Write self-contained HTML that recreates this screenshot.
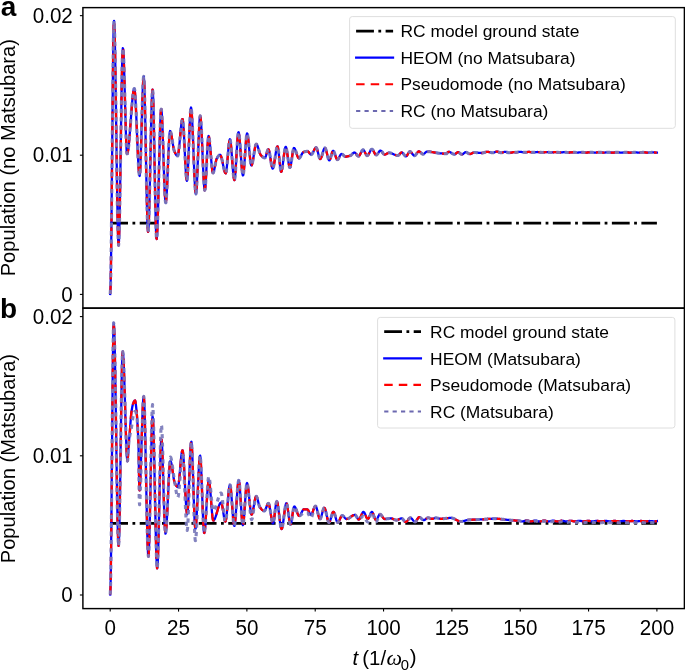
<!DOCTYPE html><html><head><meta charset="utf-8"><title>Population plot</title><style>html,body{margin:0;padding:0;background:#fff;overflow:hidden}svg{display:block;will-change:transform}text{font-family:"Liberation Sans",sans-serif;fill:#000}</style></head><body>
<svg width="685" height="671" viewBox="0 0 685 671">
<defs><clipPath id="ca"><rect x="82.9" y="7.6" width="601.5" height="300.5"/></clipPath>
<clipPath id="cb"><rect x="82.9" y="308.1" width="601.5" height="300.5"/></clipPath></defs>
<g clip-path="url(#ca)" fill="none">
<line x1="110.20" y1="223.10" x2="656.90" y2="223.10" stroke="#000" stroke-width="2.76" stroke-dasharray="17.82 4.45 2.79 4.45"/>
<path d="M110.20 294.00 L110.55 287.47 L110.90 269.60 L111.25 242.95 L111.60 210.08 L111.95 173.54 L112.30 135.91 L112.65 99.74 L113.00 67.60 L113.35 42.05 L113.70 25.64 L114.05 20.88 L114.40 25.60 L114.75 36.76 L115.10 53.17 L115.45 73.66 L115.80 97.02 L116.15 122.08 L116.50 147.65 L116.85 172.55 L117.20 195.57 L117.55 215.55 L117.90 231.29 L118.25 241.60 L118.60 245.30 L118.95 241.59 L119.30 231.31 L119.65 215.74 L120.00 196.15 L120.35 173.83 L120.70 150.04 L121.05 126.08 L121.40 103.20 L121.75 82.71 L122.10 65.86 L122.45 53.93 L122.80 48.22 L123.15 48.98 L123.50 53.78 L123.85 61.73 L124.20 72.10 L124.55 84.16 L124.90 97.16 L125.25 110.38 L125.60 123.07 L125.95 134.49 L126.30 143.92 L126.65 150.61 L127.00 153.82 L127.35 153.77 L127.70 152.71 L128.05 150.88 L128.40 148.37 L128.75 145.26 L129.10 141.65 L129.45 137.62 L129.80 133.28 L130.15 128.70 L130.50 123.98 L130.85 119.20 L131.20 114.47 L131.55 109.87 L131.90 105.48 L132.25 101.41 L132.60 97.73 L132.95 94.54 L133.30 91.94 L133.65 90.01 L134.00 88.83 L134.35 88.52 L134.70 89.92 L135.05 93.26 L135.40 98.24 L135.75 104.56 L136.10 111.92 L136.45 120.01 L136.80 128.54 L137.15 137.19 L137.50 145.67 L137.85 153.68 L138.20 160.91 L138.55 167.06 L138.90 171.82 L139.25 174.91 L139.60 176.00 L139.95 173.94 L140.30 168.27 L140.65 159.72 L141.00 149.04 L141.35 136.98 L141.70 124.27 L142.05 111.68 L142.40 99.94 L142.75 89.79 L143.10 81.99 L143.45 77.27 L143.80 76.44 L144.15 80.76 L144.50 89.78 L144.85 102.57 L145.20 118.18 L145.55 135.67 L145.90 154.10 L146.25 172.53 L146.60 190.02 L146.95 205.63 L147.30 218.42 L147.65 227.44 L148.00 231.76 L148.35 230.73 L148.70 225.08 L149.05 215.64 L149.40 203.21 L149.75 188.60 L150.10 172.62 L150.45 156.06 L150.80 139.72 L151.15 124.43 L151.50 110.97 L151.85 100.15 L152.20 92.78 L152.55 89.65 L152.90 92.00 L153.25 100.18 L153.60 113.01 L153.95 129.27 L154.30 147.77 L154.65 167.31 L155.00 186.67 L155.35 204.66 L155.70 220.06 L156.05 231.68 L156.40 238.31 L156.75 238.99 L157.10 235.11 L157.45 227.69 L157.80 217.41 L158.15 204.96 L158.50 191.04 L158.85 176.33 L159.20 161.52 L159.55 147.30 L159.90 134.36 L160.25 123.39 L160.60 115.08 L160.95 110.11 L161.30 109.14 L161.65 111.63 L162.00 116.86 L162.35 124.28 L162.70 133.37 L163.05 143.60 L163.40 154.43 L163.75 165.34 L164.10 175.80 L164.45 185.27 L164.80 193.22 L165.15 199.13 L165.50 202.46 L165.85 202.75 L166.20 200.42 L166.55 195.98 L166.90 189.85 L167.25 182.49 L167.60 174.32 L167.95 165.77 L168.30 157.29 L168.65 149.30 L169.00 142.25 L169.35 136.56 L169.70 132.68 L170.05 131.03 L170.40 131.25 L170.75 132.10 L171.10 133.45 L171.45 135.21 L171.80 137.25 L172.15 139.49 L172.50 141.80 L172.85 144.09 L173.20 146.25 L173.55 148.17 L173.90 149.75 L174.25 150.88 L174.60 151.67 L174.95 152.45 L175.30 153.19 L175.65 153.89 L176.00 154.51 L176.35 155.05 L176.70 155.49 L177.05 155.80 L177.40 155.97 L177.75 155.90 L178.10 154.92 L178.45 153.05 L178.80 150.43 L179.15 147.24 L179.50 143.62 L179.85 139.76 L180.20 135.80 L180.55 131.92 L180.90 128.26 L181.25 125.00 L181.60 122.29 L181.95 120.29 L182.30 119.18 L182.65 119.21 L183.00 121.21 L183.35 125.03 L183.70 130.28 L184.05 136.60 L184.40 143.62 L184.75 150.95 L185.10 158.23 L185.45 165.09 L185.80 171.14 L186.15 176.03 L186.50 179.36 L186.85 180.78 L187.20 179.68 L187.55 175.86 L187.90 169.85 L188.25 162.19 L188.60 153.44 L188.95 144.15 L189.30 134.86 L189.65 126.11 L190.00 118.45 L190.35 112.44 L190.70 108.62 L191.05 107.53 L191.40 109.14 L191.75 112.96 L192.10 118.62 L192.45 125.74 L192.80 133.94 L193.15 142.85 L193.50 152.07 L193.85 161.25 L194.20 169.99 L194.55 177.92 L194.90 184.66 L195.25 189.84 L195.60 193.07 L195.95 193.97 L196.30 192.10 L196.65 187.69 L197.00 181.27 L197.35 173.32 L197.70 164.36 L198.05 154.90 L198.40 145.44 L198.75 136.48 L199.10 128.53 L199.45 122.11 L199.80 117.70 L200.15 115.83 L200.50 116.71 L200.85 119.85 L201.20 124.84 L201.55 131.30 L201.90 138.84 L202.25 147.04 L202.60 155.53 L202.95 163.91 L203.30 171.78 L203.65 178.74 L204.00 184.42 L204.35 188.40 L204.70 190.30 L205.05 189.72 L205.40 186.76 L205.75 181.90 L206.10 175.66 L206.45 168.54 L206.80 161.05 L207.15 153.72 L207.50 147.04 L207.85 141.52 L208.20 137.68 L208.55 136.03 L208.90 136.49 L209.25 138.18 L209.60 140.86 L209.95 144.31 L210.30 148.30 L210.65 152.61 L211.00 157.02 L211.35 161.29 L211.70 165.22 L212.05 168.57 L212.40 171.12 L212.75 172.66 L213.10 172.97 L213.45 172.52 L213.80 171.57 L214.15 170.24 L214.50 168.62 L214.85 166.83 L215.20 164.96 L215.55 163.14 L215.90 161.45 L216.25 160.01 L216.60 158.92 L216.95 158.24 L217.30 157.65 L217.65 157.09 L218.00 156.56 L218.35 156.07 L218.70 155.65 L219.05 155.30 L219.40 155.03 L219.75 154.86 L220.10 154.80 L220.45 155.01 L220.80 155.59 L221.15 156.51 L221.50 157.69 L221.85 159.09 L222.20 160.65 L222.55 162.32 L222.90 164.05 L223.25 165.78 L223.60 167.45 L223.95 169.01 L224.30 170.41 L224.65 171.59 L225.00 172.51 L225.35 173.09 L225.70 173.30 L226.05 172.63 L226.40 170.78 L226.75 167.99 L227.10 164.49 L227.45 160.51 L227.80 156.30 L228.15 152.09 L228.50 148.11 L228.85 144.61 L229.20 141.82 L229.55 139.97 L229.90 139.30 L230.25 140.00 L230.60 141.95 L230.95 144.93 L231.30 148.69 L231.65 153.01 L232.00 157.66 L232.35 162.41 L232.70 167.03 L233.05 171.29 L233.40 174.95 L233.75 177.79 L234.10 179.58 L234.45 180.08 L234.80 178.82 L235.15 175.87 L235.50 171.59 L235.85 166.34 L236.20 160.47 L236.55 154.35 L236.90 148.32 L237.25 142.76 L237.60 138.02 L237.95 134.46 L238.30 132.43 L238.65 132.24 L239.00 133.59 L239.35 136.16 L239.70 139.71 L240.05 144.00 L240.40 148.78 L240.75 153.80 L241.10 158.82 L241.45 163.60 L241.80 167.89 L242.15 171.44 L242.50 174.01 L242.85 175.36 L243.20 175.21 L243.55 173.43 L243.90 170.30 L244.25 166.15 L244.60 161.27 L244.95 155.99 L245.30 150.62 L245.65 145.47 L246.00 140.87 L246.35 137.11 L246.70 134.52 L247.05 133.42 L247.40 133.85 L247.75 135.38 L248.10 137.80 L248.45 140.91 L248.80 144.48 L249.15 148.33 L249.50 152.24 L249.85 155.99 L250.20 159.40 L250.55 162.23 L250.90 164.30 L251.25 165.39 L251.60 165.40 L251.95 164.75 L252.30 163.60 L252.65 162.03 L253.00 160.14 L253.35 158.03 L253.70 155.78 L254.05 153.49 L254.40 151.26 L254.75 149.17 L255.10 147.32 L255.45 145.81 L255.80 144.72 L256.15 144.16 L256.50 144.16 L256.85 144.50 L257.20 145.12 L257.55 145.96 L257.90 146.97 L258.25 148.10 L258.60 149.29 L258.95 150.50 L259.30 151.68 L259.65 152.77 L260.00 153.72 L260.35 154.48 L260.70 155.00 L261.05 155.38 L261.40 155.75 L261.75 156.11 L262.10 156.45 L262.45 156.76 L262.80 157.05 L263.15 157.30 L263.50 157.52 L263.85 157.69 L264.20 157.81 L264.55 157.88 L264.90 157.88 L265.25 157.53 L265.60 156.82 L265.95 155.84 L266.30 154.68 L266.65 153.45 L267.00 152.22 L267.35 151.11 L267.70 150.19 L268.05 149.58 L268.40 149.35 L268.75 149.71 L269.10 150.71 L269.45 152.23 L269.80 154.14 L270.15 156.32 L270.50 158.64 L270.85 160.98 L271.20 163.21 L271.55 165.21 L271.90 166.85 L272.25 168.01 L272.60 168.57 L272.95 168.43 L273.30 167.65 L273.65 166.34 L274.00 164.60 L274.35 162.53 L274.70 160.25 L275.05 157.85 L275.40 155.43 L275.75 153.10 L276.10 150.96 L276.45 149.12 L276.80 147.68 L277.15 146.74 L277.50 146.40 L277.85 147.04 L278.20 148.78 L278.55 151.38 L278.90 154.56 L279.25 158.07 L279.60 161.66 L279.95 165.06 L280.30 168.02 L280.65 170.28 L281.00 171.59 L281.35 171.72 L281.70 170.94 L282.05 169.47 L282.40 167.42 L282.75 164.96 L283.10 162.21 L283.45 159.33 L283.80 156.44 L284.15 153.69 L284.50 151.23 L284.85 149.18 L285.20 147.71 L285.55 146.93 L285.90 146.99 L286.25 147.82 L286.60 149.30 L286.95 151.27 L287.30 153.59 L287.65 156.12 L288.00 158.70 L288.35 161.21 L288.70 163.49 L289.05 165.39 L289.40 166.79 L289.75 167.52 L290.10 167.46 L290.45 166.64 L290.80 165.18 L291.15 163.25 L291.50 160.98 L291.85 158.52 L292.20 156.02 L292.55 153.62 L292.90 151.48 L293.25 149.73 L293.60 148.52 L293.95 148.01 L294.30 148.11 L294.65 148.49 L295.00 149.11 L295.35 149.91 L295.70 150.85 L296.05 151.88 L296.40 152.97 L296.75 154.06 L297.10 155.12 L297.45 156.09 L297.80 156.93 L298.15 157.60 L298.50 158.06 L298.85 158.25 L299.20 158.18 L299.55 157.94 L299.90 157.55 L300.25 157.05 L300.60 156.46 L300.95 155.82 L301.30 155.15 L301.65 154.48 L302.00 153.84 L302.35 153.26 L302.70 152.78 L303.05 152.42 L303.40 152.20 L303.75 152.07 L304.10 151.95 L304.45 151.84 L304.80 151.73 L305.15 151.63 L305.50 151.55 L305.85 151.47 L306.20 151.41 L306.55 151.36 L306.90 151.32 L307.25 151.30 L307.60 151.31 L307.95 151.43 L308.30 151.70 L308.65 152.06 L309.00 152.49 L309.35 152.95 L309.70 153.41 L310.05 153.84 L310.40 154.20 L310.75 154.47 L311.10 154.59 L311.45 154.55 L311.80 154.31 L312.15 153.91 L312.50 153.38 L312.85 152.75 L313.20 152.05 L313.55 151.31 L313.90 150.57 L314.25 149.84 L314.60 149.17 L314.95 148.58 L315.30 148.10 L315.65 147.77 L316.00 147.61 L316.35 147.72 L316.70 148.26 L317.05 149.15 L317.40 150.31 L317.75 151.65 L318.10 153.09 L318.45 154.54 L318.80 155.92 L319.15 157.14 L319.50 158.12 L319.85 158.76 L320.20 159.00 L320.55 158.82 L320.90 158.33 L321.25 157.59 L321.60 156.63 L321.95 155.53 L322.30 154.33 L322.65 153.10 L323.00 151.88 L323.35 150.73 L323.70 149.70 L324.05 148.86 L324.40 148.25 L324.75 147.93 L325.10 147.98 L325.45 148.44 L325.80 149.26 L326.15 150.35 L326.50 151.66 L326.85 153.09 L327.20 154.58 L327.55 156.04 L327.90 157.41 L328.25 158.60 L328.60 159.55 L328.95 160.18 L329.30 160.40 L329.65 160.17 L330.00 159.54 L330.35 158.61 L330.70 157.45 L331.05 156.17 L331.40 154.84 L331.75 153.57 L332.10 152.44 L332.45 151.55 L332.80 150.97 L333.15 150.80 L333.50 151.01 L333.85 151.51 L334.20 152.23 L334.55 153.13 L334.90 154.14 L335.25 155.20 L335.60 156.26 L335.95 157.27 L336.30 158.17 L336.65 158.89 L337.00 159.39 L337.35 159.60 L337.70 159.51 L338.05 159.22 L338.40 158.76 L338.75 158.18 L339.10 157.51 L339.45 156.80 L339.80 156.09 L340.15 155.42 L340.50 154.84 L340.85 154.38 L341.20 154.09 L341.55 154.00 L341.90 154.07 L342.25 154.23 L342.60 154.46 L342.95 154.75 L343.30 155.06 L343.65 155.40 L344.00 155.72 L344.35 156.02 L344.70 156.28 L345.05 156.47 L345.40 156.58 L345.75 156.60 L346.10 156.58 L346.45 156.56 L346.80 156.51 L347.15 156.46 L347.50 156.40 L347.85 156.32 L348.20 156.24 L348.55 156.14 L348.90 156.05 L349.25 155.94 L349.60 155.83 L349.95 155.72 L350.30 155.60 L350.65 155.44 L351.00 155.20 L351.35 154.90 L351.70 154.56 L352.05 154.19 L352.40 153.83 L352.75 153.47 L353.10 153.14 L353.45 152.87 L353.80 152.65 L354.15 152.53 L354.50 152.51 L354.85 152.62 L355.20 152.87 L355.55 153.21 L355.90 153.62 L356.25 154.08 L356.60 154.55 L356.95 155.01 L357.30 155.43 L357.65 155.79 L358.00 156.05 L358.35 156.19 L358.70 156.16 L359.05 155.95 L359.40 155.56 L359.75 155.04 L360.10 154.42 L360.45 153.72 L360.80 153.00 L361.15 152.28 L361.50 151.58 L361.85 150.96 L362.20 150.44 L362.55 150.05 L362.90 149.84 L363.25 149.82 L363.60 150.04 L363.95 150.44 L364.30 151.00 L364.65 151.66 L365.00 152.38 L365.35 153.12 L365.70 153.84 L366.05 154.49 L366.40 155.02 L366.75 155.41 L367.10 155.59 L367.45 155.55 L367.80 155.31 L368.15 154.92 L368.50 154.40 L368.85 153.79 L369.20 153.11 L369.55 152.40 L369.90 151.69 L370.25 151.01 L370.60 150.40 L370.95 149.88 L371.30 149.49 L371.65 149.25 L372.00 149.21 L372.35 149.38 L372.70 149.73 L373.05 150.22 L373.40 150.82 L373.75 151.50 L374.10 152.20 L374.45 152.90 L374.80 153.56 L375.15 154.13 L375.50 154.59 L375.85 154.89 L376.20 155.00 L376.55 154.91 L376.90 154.67 L377.25 154.31 L377.60 153.86 L377.95 153.34 L378.30 152.80 L378.65 152.26 L379.00 151.74 L379.35 151.29 L379.70 150.93 L380.05 150.69 L380.40 150.60 L380.75 150.67 L381.10 150.88 L381.45 151.18 L381.80 151.57 L382.15 152.01 L382.50 152.48 L382.85 152.96 L383.20 153.41 L383.55 153.81 L383.90 154.15 L384.25 154.38 L384.60 154.49 L384.95 154.48 L385.30 154.41 L385.65 154.30 L386.00 154.14 L386.35 153.96 L386.70 153.77 L387.05 153.56 L387.40 153.37 L387.75 153.18 L388.10 153.02 L388.45 152.90 L388.80 152.82 L389.15 152.80 L389.50 152.82 L389.85 152.86 L390.20 152.92 L390.55 153.00 L390.90 153.10 L391.25 153.21 L391.60 153.34 L391.95 153.48 L392.30 153.63 L392.65 153.78 L393.00 153.94 L393.35 154.10 L393.70 154.27 L394.05 154.43 L394.40 154.59 L394.75 154.74 L395.10 154.88 L395.45 155.02 L395.80 155.14 L396.15 155.25 L396.50 155.34 L396.85 155.41 L397.20 155.46 L397.55 155.49 L397.90 155.49 L398.25 155.39 L398.60 155.17 L398.95 154.87 L399.30 154.51 L399.65 154.12 L400.00 153.71 L400.35 153.33 L400.70 152.99 L401.05 152.72 L401.40 152.55 L401.75 152.50 L402.10 152.59 L402.45 152.81 L402.80 153.12 L403.15 153.50 L403.50 153.94 L403.85 154.40 L404.20 154.86 L404.55 155.30 L404.90 155.68 L405.25 155.99 L405.60 156.21 L405.95 156.30 L406.30 156.22 L406.65 155.95 L407.00 155.53 L407.35 155.00 L407.70 154.40 L408.05 153.77 L408.40 153.15 L408.75 152.58 L409.10 152.11 L409.45 151.77 L409.80 151.61 L410.15 151.64 L410.50 151.79 L410.85 152.05 L411.20 152.40 L411.55 152.80 L411.90 153.25 L412.25 153.72 L412.60 154.18 L412.95 154.62 L413.30 155.01 L413.65 155.33 L414.00 155.57 L414.35 155.69 L414.70 155.67 L415.05 155.52 L415.40 155.23 L415.75 154.86 L416.10 154.41 L416.45 153.91 L416.80 153.40 L417.15 152.90 L417.50 152.43 L417.85 152.02 L418.20 151.69 L418.55 151.48 L418.90 151.40 L419.25 151.46 L419.60 151.62 L419.95 151.86 L420.30 152.16 L420.65 152.49 L421.00 152.85 L421.35 153.20 L421.70 153.53 L422.05 153.82 L422.40 154.04 L422.75 154.17 L423.10 154.20 L423.45 154.11 L423.80 153.93 L424.15 153.68 L424.50 153.38 L424.85 153.05 L425.20 152.71 L425.55 152.38 L425.90 152.08 L426.25 151.84 L426.60 151.67 L426.95 151.60 L427.30 151.60 L427.65 151.61 L428.00 151.62 L428.35 151.64 L428.70 151.66 L429.05 151.69 L429.40 151.72 L429.75 151.76 L430.10 151.80 L430.45 151.84 L430.80 151.89 L431.15 151.93 L431.50 151.99 L431.85 152.04 L432.20 152.10 L432.55 152.15 L432.90 152.21 L433.25 152.27 L433.60 152.33 L433.95 152.40 L434.30 152.46 L434.65 152.52 L435.00 152.58 L435.35 152.65 L435.70 152.71 L436.05 152.77 L436.40 152.83 L436.75 152.88 L437.10 152.94 L437.45 152.99 L437.80 153.05 L438.15 153.09 L438.50 153.14 L438.85 153.18 L439.20 153.22 L439.55 153.26 L439.90 153.29 L440.25 153.32 L440.60 153.35 L440.95 153.38 L441.30 153.41 L441.65 153.44 L442.00 153.47 L442.35 153.50 L442.70 153.53 L443.05 153.56 L443.40 153.58 L443.75 153.61 L444.10 153.63 L444.45 153.65 L444.80 153.67 L445.15 153.68 L445.50 153.69 L445.85 153.70 L446.20 153.70 L446.55 153.64 L446.90 153.38 L447.25 153.00 L447.60 152.57 L447.95 152.17 L448.30 151.89 L448.65 151.80 L449.00 151.83 L449.35 151.91 L449.70 152.03 L450.05 152.18 L450.40 152.36 L450.75 152.55 L451.10 152.77 L451.45 152.99 L451.80 153.21 L452.15 153.43 L452.50 153.63 L452.85 153.82 L453.20 153.99 L453.55 154.13 L453.90 154.23 L454.25 154.29 L454.60 154.29 L454.95 154.20 L455.30 154.02 L455.65 153.77 L456.00 153.47 L456.35 153.16 L456.70 152.85 L457.05 152.58 L457.40 152.36 L457.75 152.23 L458.10 152.20 L458.45 152.28 L458.80 152.43 L459.15 152.64 L459.50 152.90 L459.85 153.18 L460.20 153.46 L460.55 153.74 L460.90 153.99 L461.25 154.20 L461.60 154.34 L461.95 154.40 L462.30 154.36 L462.65 154.22 L463.00 154.00 L463.35 153.74 L463.70 153.43 L464.05 153.12 L464.40 152.82 L464.75 152.56 L465.10 152.35 L465.45 152.23 L465.80 152.20 L466.15 152.25 L466.50 152.36 L466.85 152.50 L467.20 152.68 L467.55 152.89 L467.90 153.10 L468.25 153.31 L468.60 153.52 L468.95 153.70 L469.30 153.84 L469.65 153.95 L470.00 154.00 L470.35 153.98 L470.70 153.90 L471.05 153.78 L471.40 153.61 L471.75 153.42 L472.10 153.22 L472.45 153.02 L472.80 152.84 L473.15 152.68 L473.50 152.57 L473.85 152.51 L474.20 152.50 L474.55 152.51 L474.90 152.52 L475.25 152.53 L475.60 152.55 L475.95 152.57 L476.30 152.60 L476.65 152.63 L477.00 152.66 L477.35 152.69 L477.70 152.72 L478.05 152.75 L478.40 152.79 L478.75 152.82 L479.10 152.85 L479.45 152.88 L479.80 152.91 L480.15 152.93 L480.50 152.95 L480.85 152.97 L481.20 152.99 L481.55 153.00 L481.90 153.00 L482.25 152.99 L482.60 152.96 L482.95 152.89 L483.30 152.81 L483.65 152.71 L484.00 152.60 L484.35 152.49 L484.70 152.37 L485.05 152.25 L485.40 152.13 L485.75 152.03 L486.10 151.94 L486.45 151.87 L486.80 151.82 L487.15 151.80 L487.50 151.81 L487.85 151.84 L488.20 151.88 L488.55 151.95 L488.90 152.02 L489.25 152.10 L489.60 152.19 L489.95 152.29 L490.30 152.38 L490.65 152.47 L491.00 152.56 L491.35 152.63 L491.70 152.70 L492.05 152.75 L492.40 152.79 L492.75 152.80 L493.10 152.78 L493.45 152.72 L493.80 152.61 L494.15 152.48 L494.50 152.33 L494.85 152.18 L495.20 152.02 L495.55 151.88 L495.90 151.75 L496.25 151.66 L496.60 151.61 L496.95 151.60 L497.30 151.64 L497.65 151.72 L498.00 151.82 L498.35 151.94 L498.70 152.08 L499.05 152.22 L499.40 152.36 L499.75 152.49 L500.10 152.61 L500.45 152.71 L500.80 152.77 L501.15 152.80 L501.50 152.78 L501.85 152.73 L502.20 152.64 L502.55 152.52 L502.90 152.40 L503.25 152.26 L503.60 152.13 L503.95 152.01 L504.30 151.91 L504.65 151.84 L505.00 151.80 L505.35 151.81 L505.70 151.86 L506.05 151.95 L506.40 152.06 L506.75 152.19 L507.10 152.32 L507.45 152.45 L507.80 152.57 L508.15 152.68 L508.50 152.75 L508.85 152.80 L509.20 152.80 L509.55 152.79 L509.90 152.78 L510.25 152.76 L510.60 152.72 L510.95 152.68 L511.30 152.63 L511.65 152.57 L512.00 152.50 L512.35 152.41 L512.70 152.32 L513.05 152.21 L513.40 152.08 L513.75 152.03 L514.10 152.09 L514.45 152.15 L514.80 152.20 L515.15 152.24 L515.50 152.26 L515.85 152.27 L516.20 152.27 L516.55 152.25 L516.90 152.21 L517.25 152.17 L517.60 152.12 L517.95 152.06 L518.30 152.00 L518.65 151.95 L519.00 151.91 L519.35 151.87 L519.70 151.85 L520.05 151.84 L520.40 151.84 L520.75 151.86 L521.10 151.90 L521.45 151.94 L521.80 152.00 L522.15 152.05 L522.50 152.12 L522.85 152.18 L523.20 152.23 L523.55 152.28 L523.90 152.31 L524.25 152.34 L524.60 152.35 L524.95 152.34 L525.30 152.33 L525.65 152.30 L526.00 152.26 L526.35 152.21 L526.70 152.16 L527.05 152.10 L527.40 152.05 L527.75 152.01 L528.10 151.97 L528.45 151.95 L528.80 151.94 L529.15 151.94 L529.50 151.96 L529.85 151.99 L530.20 152.03 L530.55 152.08 L530.90 152.13 L531.25 152.19 L531.60 152.24 L531.95 152.29 L532.30 152.34 L532.65 152.37 L533.00 152.40 L533.35 152.41 L533.70 152.40 L534.05 152.39 L534.40 152.36 L534.75 152.32 L535.10 152.28 L535.45 152.23 L535.80 152.18 L536.15 152.14 L536.50 152.09 L536.85 152.06 L537.20 152.04 L537.55 152.02 L537.90 152.02 L538.25 152.04 L538.60 152.06 L538.95 152.10 L539.30 152.14 L539.65 152.19 L540.00 152.24 L540.35 152.29 L540.70 152.34 L541.05 152.38 L541.40 152.42 L541.75 152.44 L542.10 152.45 L542.45 152.45 L542.80 152.44 L543.15 152.41 L543.50 152.38 L543.85 152.34 L544.20 152.29 L544.55 152.25 L544.90 152.20 L545.25 152.16 L545.60 152.13 L545.95 152.11 L546.30 152.09 L546.65 152.09 L547.00 152.10 L547.35 152.12 L547.70 152.15 L548.05 152.19 L548.40 152.24 L548.75 152.29 L549.10 152.33 L549.45 152.38 L549.80 152.42 L550.15 152.45 L550.50 152.47 L550.85 152.49 L551.20 152.49 L551.55 152.47 L551.90 152.45 L552.25 152.42 L552.60 152.39 L552.95 152.35 L553.30 152.30 L553.65 152.26 L554.00 152.22 L554.35 152.19 L554.70 152.17 L555.05 152.15 L555.40 152.15 L555.75 152.16 L556.10 152.17 L556.45 152.20 L556.80 152.24 L557.15 152.28 L557.50 152.32 L557.85 152.37 L558.20 152.41 L558.55 152.45 L558.90 152.48 L559.25 152.50 L559.60 152.51 L559.95 152.51 L560.30 152.50 L560.65 152.48 L561.00 152.46 L561.35 152.42 L561.70 152.39 L562.05 152.35 L562.40 152.31 L562.75 152.27 L563.10 152.24 L563.45 152.21 L563.80 152.20 L564.15 152.19 L564.50 152.20 L564.85 152.22 L565.20 152.24 L565.55 152.27 L565.90 152.31 L566.25 152.35 L566.60 152.39 L566.95 152.43 L567.30 152.47 L567.65 152.49 L568.00 152.52 L568.35 152.53 L568.70 152.53 L569.05 152.52 L569.40 152.51 L569.75 152.48 L570.10 152.45 L570.45 152.42 L570.80 152.38 L571.15 152.34 L571.50 152.31 L571.85 152.28 L572.20 152.26 L572.55 152.24 L572.90 152.23 L573.25 152.24 L573.60 152.25 L573.95 152.27 L574.30 152.30 L574.65 152.33 L575.00 152.37 L575.35 152.41 L575.70 152.45 L576.05 152.48 L576.40 152.51 L576.75 152.53 L577.10 152.54 L577.45 152.55 L577.80 152.54 L578.15 152.53 L578.50 152.50 L578.85 152.48 L579.20 152.44 L579.55 152.41 L579.90 152.37 L580.25 152.34 L580.60 152.31 L580.95 152.29 L581.30 152.27 L581.65 152.27 L582.00 152.27 L582.35 152.28 L582.70 152.30 L583.05 152.32 L583.40 152.35 L583.75 152.39 L584.10 152.42 L584.45 152.46 L584.80 152.49 L585.15 152.52 L585.50 152.54 L585.85 152.55 L586.20 152.56 L586.55 152.55 L586.90 152.54 L587.25 152.52 L587.60 152.49 L587.95 152.46 L588.30 152.43 L588.65 152.40 L589.00 152.37 L589.35 152.34 L589.70 152.32 L590.05 152.30 L590.40 152.30 L590.75 152.30 L591.10 152.31 L591.45 152.32 L591.80 152.34 L592.15 152.37 L592.50 152.40 L592.85 152.44 L593.20 152.47 L593.55 152.50 L593.90 152.52 L594.25 152.54 L594.60 152.56 L594.95 152.56 L595.30 152.56 L595.65 152.55 L596.00 152.53 L596.35 152.51 L596.70 152.48 L597.05 152.45 L597.40 152.42 L597.75 152.39 L598.10 152.37 L598.45 152.34 L598.80 152.33 L599.15 152.32 L599.50 152.32 L599.85 152.33 L600.20 152.34 L600.55 152.36 L600.90 152.39 L601.25 152.41 L601.60 152.44 L601.95 152.47 L602.30 152.50 L602.65 152.53 L603.00 152.55 L603.35 152.56 L603.70 152.57 L604.05 152.56 L604.40 152.56 L604.75 152.54 L605.10 152.52 L605.45 152.49 L605.80 152.47 L606.15 152.44 L606.50 152.41 L606.85 152.39 L607.20 152.37 L607.55 152.35 L607.90 152.34 L608.25 152.34 L608.60 152.34 L608.95 152.36 L609.30 152.37 L609.65 152.40 L610.00 152.42 L610.35 152.45 L610.70 152.48 L611.05 152.51 L611.40 152.53 L611.75 152.55 L612.10 152.56 L612.45 152.57 L612.80 152.57 L613.15 152.56 L613.50 152.55 L613.85 152.53 L614.20 152.50 L614.55 152.48 L614.90 152.45 L615.25 152.43 L615.60 152.40 L615.95 152.38 L616.30 152.37 L616.65 152.36 L617.00 152.36 L617.35 152.36 L617.70 152.37 L618.05 152.39 L618.40 152.41 L618.75 152.43 L619.10 152.46 L619.45 152.48 L619.80 152.51 L620.15 152.53 L620.50 152.55 L620.85 152.56 L621.20 152.57 L621.55 152.57 L621.90 152.56 L622.25 152.55 L622.60 152.53 L622.95 152.51 L623.30 152.49 L623.65 152.46 L624.00 152.44 L624.35 152.42 L624.70 152.40 L625.05 152.38 L625.40 152.37 L625.75 152.37 L626.10 152.37 L626.45 152.38 L626.80 152.40 L627.15 152.42 L627.50 152.44 L627.85 152.46 L628.20 152.49 L628.55 152.51 L628.90 152.53 L629.25 152.55 L629.60 152.56 L629.95 152.57 L630.30 152.57 L630.65 152.56 L631.00 152.55 L631.35 152.54 L631.70 152.52 L632.05 152.50 L632.40 152.47 L632.75 152.45 L633.10 152.43 L633.45 152.41 L633.80 152.40 L634.15 152.39 L634.50 152.38 L634.85 152.39 L635.20 152.39 L635.55 152.41 L635.90 152.42 L636.25 152.44 L636.60 152.46 L636.95 152.49 L637.30 152.51 L637.65 152.53 L638.00 152.54 L638.35 152.56 L638.70 152.56 L639.05 152.57 L639.40 152.56 L639.75 152.55 L640.10 152.54 L640.45 152.52 L640.80 152.50 L641.15 152.48 L641.50 152.46 L641.85 152.44 L642.20 152.42 L642.55 152.41 L642.90 152.40 L643.25 152.40 L643.60 152.40 L643.95 152.40 L644.30 152.41 L644.65 152.43 L645.00 152.45 L645.35 152.47 L645.70 152.49 L646.05 152.51 L646.40 152.53 L646.75 152.54 L647.10 152.55 L647.45 152.56 L647.80 152.56 L648.15 152.56 L648.50 152.55 L648.85 152.54 L649.20 152.53 L649.55 152.51 L649.90 152.49 L650.25 152.47 L650.60 152.45 L650.95 152.43 L651.30 152.42 L651.65 152.41 L652.00 152.41 L652.35 152.41 L652.70 152.41 L653.05 152.42 L653.40 152.43 L653.75 152.45 L654.10 152.47 L654.45 152.49 L654.80 152.51 L655.15 152.52 L655.50 152.54 L655.85 152.55 L656.20 152.56 L656.55 152.56 L656.90 152.56" stroke="#0000ff" stroke-width="2.3" stroke-linejoin="round" stroke-linecap="square"/>
<path d="M110.20 294.00 L110.55 287.47 L110.90 269.60 L111.25 242.95 L111.60 210.08 L111.95 173.54 L112.30 135.91 L112.65 99.74 L113.00 67.60 L113.35 42.05 L113.70 25.64 L114.05 20.88 L114.40 25.60 L114.75 36.76 L115.10 53.17 L115.45 73.66 L115.80 97.02 L116.15 122.08 L116.50 147.65 L116.85 172.55 L117.20 195.57 L117.55 215.55 L117.90 231.29 L118.25 241.60 L118.60 245.30 L118.95 241.59 L119.30 231.31 L119.65 215.74 L120.00 196.15 L120.35 173.83 L120.70 150.04 L121.05 126.08 L121.40 103.20 L121.75 82.71 L122.10 65.86 L122.45 53.93 L122.80 48.22 L123.15 48.98 L123.50 53.78 L123.85 61.73 L124.20 72.10 L124.55 84.16 L124.90 97.16 L125.25 110.38 L125.60 123.07 L125.95 134.49 L126.30 143.92 L126.65 150.61 L127.00 153.82 L127.35 153.77 L127.70 152.71 L128.05 150.88 L128.40 148.37 L128.75 145.26 L129.10 141.65 L129.45 137.62 L129.80 133.28 L130.15 128.70 L130.50 123.98 L130.85 119.20 L131.20 114.47 L131.55 109.87 L131.90 105.48 L132.25 101.41 L132.60 97.73 L132.95 94.54 L133.30 91.94 L133.65 90.01 L134.00 88.83 L134.35 88.52 L134.70 89.92 L135.05 93.26 L135.40 98.24 L135.75 104.56 L136.10 111.92 L136.45 120.01 L136.80 128.54 L137.15 137.19 L137.50 145.67 L137.85 153.68 L138.20 160.91 L138.55 167.06 L138.90 171.82 L139.25 174.91 L139.60 176.00 L139.95 173.94 L140.30 168.27 L140.65 159.72 L141.00 149.04 L141.35 136.98 L141.70 124.27 L142.05 111.68 L142.40 99.94 L142.75 89.79 L143.10 81.99 L143.45 77.27 L143.80 76.44 L144.15 80.76 L144.50 89.78 L144.85 102.57 L145.20 118.18 L145.55 135.67 L145.90 154.10 L146.25 172.53 L146.60 190.02 L146.95 205.63 L147.30 218.42 L147.65 227.44 L148.00 231.76 L148.35 230.73 L148.70 225.08 L149.05 215.64 L149.40 203.21 L149.75 188.60 L150.10 172.62 L150.45 156.06 L150.80 139.72 L151.15 124.43 L151.50 110.97 L151.85 100.15 L152.20 92.78 L152.55 89.65 L152.90 92.00 L153.25 100.18 L153.60 113.01 L153.95 129.27 L154.30 147.77 L154.65 167.31 L155.00 186.67 L155.35 204.66 L155.70 220.06 L156.05 231.68 L156.40 238.31 L156.75 238.99 L157.10 235.11 L157.45 227.69 L157.80 217.41 L158.15 204.96 L158.50 191.04 L158.85 176.33 L159.20 161.52 L159.55 147.30 L159.90 134.36 L160.25 123.39 L160.60 115.08 L160.95 110.11 L161.30 109.14 L161.65 111.63 L162.00 116.86 L162.35 124.28 L162.70 133.37 L163.05 143.60 L163.40 154.43 L163.75 165.34 L164.10 175.80 L164.45 185.27 L164.80 193.22 L165.15 199.13 L165.50 202.46 L165.85 202.75 L166.20 200.42 L166.55 195.98 L166.90 189.85 L167.25 182.49 L167.60 174.32 L167.95 165.77 L168.30 157.29 L168.65 149.30 L169.00 142.25 L169.35 136.56 L169.70 132.68 L170.05 131.03 L170.40 131.25 L170.75 132.10 L171.10 133.45 L171.45 135.21 L171.80 137.25 L172.15 139.49 L172.50 141.80 L172.85 144.09 L173.20 146.25 L173.55 148.17 L173.90 149.75 L174.25 150.88 L174.60 151.67 L174.95 152.45 L175.30 153.19 L175.65 153.89 L176.00 154.51 L176.35 155.05 L176.70 155.49 L177.05 155.80 L177.40 155.97 L177.75 155.90 L178.10 154.92 L178.45 153.05 L178.80 150.43 L179.15 147.24 L179.50 143.62 L179.85 139.76 L180.20 135.80 L180.55 131.92 L180.90 128.26 L181.25 125.00 L181.60 122.29 L181.95 120.29 L182.30 119.18 L182.65 119.21 L183.00 121.21 L183.35 125.03 L183.70 130.28 L184.05 136.60 L184.40 143.62 L184.75 150.95 L185.10 158.23 L185.45 165.09 L185.80 171.14 L186.15 176.03 L186.50 179.36 L186.85 180.78 L187.20 179.68 L187.55 175.86 L187.90 169.85 L188.25 162.19 L188.60 153.44 L188.95 144.15 L189.30 134.86 L189.65 126.11 L190.00 118.45 L190.35 112.44 L190.70 108.62 L191.05 107.53 L191.40 109.14 L191.75 112.96 L192.10 118.62 L192.45 125.74 L192.80 133.94 L193.15 142.85 L193.50 152.07 L193.85 161.25 L194.20 169.99 L194.55 177.92 L194.90 184.66 L195.25 189.84 L195.60 193.07 L195.95 193.97 L196.30 192.10 L196.65 187.69 L197.00 181.27 L197.35 173.32 L197.70 164.36 L198.05 154.90 L198.40 145.44 L198.75 136.48 L199.10 128.53 L199.45 122.11 L199.80 117.70 L200.15 115.83 L200.50 116.71 L200.85 119.85 L201.20 124.84 L201.55 131.30 L201.90 138.84 L202.25 147.04 L202.60 155.53 L202.95 163.91 L203.30 171.78 L203.65 178.74 L204.00 184.42 L204.35 188.40 L204.70 190.30 L205.05 189.72 L205.40 186.76 L205.75 181.90 L206.10 175.66 L206.45 168.54 L206.80 161.05 L207.15 153.72 L207.50 147.04 L207.85 141.52 L208.20 137.68 L208.55 136.03 L208.90 136.49 L209.25 138.18 L209.60 140.86 L209.95 144.31 L210.30 148.30 L210.65 152.61 L211.00 157.02 L211.35 161.29 L211.70 165.22 L212.05 168.57 L212.40 171.12 L212.75 172.66 L213.10 172.97 L213.45 172.52 L213.80 171.57 L214.15 170.24 L214.50 168.62 L214.85 166.83 L215.20 164.96 L215.55 163.14 L215.90 161.45 L216.25 160.01 L216.60 158.92 L216.95 158.24 L217.30 157.65 L217.65 157.09 L218.00 156.56 L218.35 156.07 L218.70 155.65 L219.05 155.30 L219.40 155.03 L219.75 154.86 L220.10 154.80 L220.45 155.01 L220.80 155.59 L221.15 156.51 L221.50 157.69 L221.85 159.09 L222.20 160.65 L222.55 162.32 L222.90 164.05 L223.25 165.78 L223.60 167.45 L223.95 169.01 L224.30 170.41 L224.65 171.59 L225.00 172.51 L225.35 173.09 L225.70 173.30 L226.05 172.63 L226.40 170.78 L226.75 167.99 L227.10 164.49 L227.45 160.51 L227.80 156.30 L228.15 152.09 L228.50 148.11 L228.85 144.61 L229.20 141.82 L229.55 139.97 L229.90 139.30 L230.25 140.00 L230.60 141.95 L230.95 144.93 L231.30 148.69 L231.65 153.01 L232.00 157.66 L232.35 162.41 L232.70 167.03 L233.05 171.29 L233.40 174.95 L233.75 177.79 L234.10 179.58 L234.45 180.08 L234.80 178.82 L235.15 175.87 L235.50 171.59 L235.85 166.34 L236.20 160.47 L236.55 154.35 L236.90 148.32 L237.25 142.76 L237.60 138.02 L237.95 134.46 L238.30 132.43 L238.65 132.24 L239.00 133.59 L239.35 136.16 L239.70 139.71 L240.05 144.00 L240.40 148.78 L240.75 153.80 L241.10 158.82 L241.45 163.60 L241.80 167.89 L242.15 171.44 L242.50 174.01 L242.85 175.36 L243.20 175.21 L243.55 173.43 L243.90 170.30 L244.25 166.15 L244.60 161.27 L244.95 155.99 L245.30 150.62 L245.65 145.47 L246.00 140.87 L246.35 137.11 L246.70 134.52 L247.05 133.42 L247.40 133.85 L247.75 135.38 L248.10 137.80 L248.45 140.91 L248.80 144.48 L249.15 148.33 L249.50 152.24 L249.85 155.99 L250.20 159.40 L250.55 162.23 L250.90 164.30 L251.25 165.39 L251.60 165.40 L251.95 164.75 L252.30 163.60 L252.65 162.03 L253.00 160.14 L253.35 158.03 L253.70 155.78 L254.05 153.49 L254.40 151.26 L254.75 149.17 L255.10 147.32 L255.45 145.81 L255.80 144.72 L256.15 144.16 L256.50 144.16 L256.85 144.50 L257.20 145.12 L257.55 145.96 L257.90 146.97 L258.25 148.10 L258.60 149.29 L258.95 150.50 L259.30 151.68 L259.65 152.77 L260.00 153.72 L260.35 154.48 L260.70 155.00 L261.05 155.38 L261.40 155.75 L261.75 156.11 L262.10 156.45 L262.45 156.76 L262.80 157.05 L263.15 157.30 L263.50 157.52 L263.85 157.69 L264.20 157.81 L264.55 157.88 L264.90 157.88 L265.25 157.53 L265.60 156.82 L265.95 155.84 L266.30 154.68 L266.65 153.45 L267.00 152.22 L267.35 151.11 L267.70 150.19 L268.05 149.58 L268.40 149.35 L268.75 149.71 L269.10 150.71 L269.45 152.23 L269.80 154.14 L270.15 156.32 L270.50 158.64 L270.85 160.98 L271.20 163.21 L271.55 165.21 L271.90 166.85 L272.25 168.01 L272.60 168.57 L272.95 168.43 L273.30 167.65 L273.65 166.34 L274.00 164.60 L274.35 162.53 L274.70 160.25 L275.05 157.85 L275.40 155.43 L275.75 153.10 L276.10 150.96 L276.45 149.12 L276.80 147.68 L277.15 146.74 L277.50 146.40 L277.85 147.04 L278.20 148.78 L278.55 151.38 L278.90 154.56 L279.25 158.07 L279.60 161.66 L279.95 165.06 L280.30 168.02 L280.65 170.28 L281.00 171.59 L281.35 171.72 L281.70 170.94 L282.05 169.47 L282.40 167.42 L282.75 164.96 L283.10 162.21 L283.45 159.33 L283.80 156.44 L284.15 153.69 L284.50 151.23 L284.85 149.18 L285.20 147.71 L285.55 146.93 L285.90 146.99 L286.25 147.82 L286.60 149.30 L286.95 151.27 L287.30 153.59 L287.65 156.12 L288.00 158.70 L288.35 161.21 L288.70 163.49 L289.05 165.39 L289.40 166.79 L289.75 167.52 L290.10 167.46 L290.45 166.64 L290.80 165.18 L291.15 163.25 L291.50 160.98 L291.85 158.52 L292.20 156.02 L292.55 153.62 L292.90 151.48 L293.25 149.73 L293.60 148.52 L293.95 148.01 L294.30 148.11 L294.65 148.49 L295.00 149.11 L295.35 149.91 L295.70 150.85 L296.05 151.88 L296.40 152.97 L296.75 154.06 L297.10 155.12 L297.45 156.09 L297.80 156.93 L298.15 157.60 L298.50 158.06 L298.85 158.25 L299.20 158.18 L299.55 157.94 L299.90 157.55 L300.25 157.05 L300.60 156.46 L300.95 155.82 L301.30 155.15 L301.65 154.48 L302.00 153.84 L302.35 153.26 L302.70 152.78 L303.05 152.42 L303.40 152.20 L303.75 152.07 L304.10 151.95 L304.45 151.84 L304.80 151.73 L305.15 151.63 L305.50 151.55 L305.85 151.47 L306.20 151.41 L306.55 151.36 L306.90 151.32 L307.25 151.30 L307.60 151.31 L307.95 151.43 L308.30 151.70 L308.65 152.06 L309.00 152.49 L309.35 152.95 L309.70 153.41 L310.05 153.84 L310.40 154.20 L310.75 154.47 L311.10 154.59 L311.45 154.55 L311.80 154.31 L312.15 153.91 L312.50 153.38 L312.85 152.75 L313.20 152.05 L313.55 151.31 L313.90 150.57 L314.25 149.84 L314.60 149.17 L314.95 148.58 L315.30 148.10 L315.65 147.77 L316.00 147.61 L316.35 147.72 L316.70 148.26 L317.05 149.15 L317.40 150.31 L317.75 151.65 L318.10 153.09 L318.45 154.54 L318.80 155.92 L319.15 157.14 L319.50 158.12 L319.85 158.76 L320.20 159.00 L320.55 158.82 L320.90 158.33 L321.25 157.59 L321.60 156.63 L321.95 155.53 L322.30 154.33 L322.65 153.10 L323.00 151.88 L323.35 150.73 L323.70 149.70 L324.05 148.86 L324.40 148.25 L324.75 147.93 L325.10 147.98 L325.45 148.44 L325.80 149.26 L326.15 150.35 L326.50 151.66 L326.85 153.09 L327.20 154.58 L327.55 156.04 L327.90 157.41 L328.25 158.60 L328.60 159.55 L328.95 160.18 L329.30 160.40 L329.65 160.17 L330.00 159.54 L330.35 158.61 L330.70 157.45 L331.05 156.17 L331.40 154.84 L331.75 153.57 L332.10 152.44 L332.45 151.55 L332.80 150.97 L333.15 150.80 L333.50 151.01 L333.85 151.51 L334.20 152.23 L334.55 153.13 L334.90 154.14 L335.25 155.20 L335.60 156.26 L335.95 157.27 L336.30 158.17 L336.65 158.89 L337.00 159.39 L337.35 159.60 L337.70 159.51 L338.05 159.22 L338.40 158.76 L338.75 158.18 L339.10 157.51 L339.45 156.80 L339.80 156.09 L340.15 155.42 L340.50 154.84 L340.85 154.38 L341.20 154.09 L341.55 154.00 L341.90 154.07 L342.25 154.23 L342.60 154.46 L342.95 154.75 L343.30 155.06 L343.65 155.40 L344.00 155.72 L344.35 156.02 L344.70 156.28 L345.05 156.47 L345.40 156.58 L345.75 156.60 L346.10 156.58 L346.45 156.56 L346.80 156.51 L347.15 156.46 L347.50 156.40 L347.85 156.32 L348.20 156.24 L348.55 156.14 L348.90 156.05 L349.25 155.94 L349.60 155.83 L349.95 155.72 L350.30 155.60 L350.65 155.44 L351.00 155.20 L351.35 154.90 L351.70 154.56 L352.05 154.19 L352.40 153.83 L352.75 153.47 L353.10 153.14 L353.45 152.87 L353.80 152.65 L354.15 152.53 L354.50 152.51 L354.85 152.62 L355.20 152.87 L355.55 153.21 L355.90 153.62 L356.25 154.08 L356.60 154.55 L356.95 155.01 L357.30 155.43 L357.65 155.79 L358.00 156.05 L358.35 156.19 L358.70 156.16 L359.05 155.95 L359.40 155.56 L359.75 155.04 L360.10 154.42 L360.45 153.72 L360.80 153.00 L361.15 152.28 L361.50 151.58 L361.85 150.96 L362.20 150.44 L362.55 150.05 L362.90 149.84 L363.25 149.82 L363.60 150.04 L363.95 150.44 L364.30 151.00 L364.65 151.66 L365.00 152.38 L365.35 153.12 L365.70 153.84 L366.05 154.49 L366.40 155.02 L366.75 155.41 L367.10 155.59 L367.45 155.55 L367.80 155.31 L368.15 154.92 L368.50 154.40 L368.85 153.79 L369.20 153.11 L369.55 152.40 L369.90 151.69 L370.25 151.01 L370.60 150.40 L370.95 149.88 L371.30 149.49 L371.65 149.25 L372.00 149.21 L372.35 149.38 L372.70 149.73 L373.05 150.22 L373.40 150.82 L373.75 151.50 L374.10 152.20 L374.45 152.90 L374.80 153.56 L375.15 154.13 L375.50 154.59 L375.85 154.89 L376.20 155.00 L376.55 154.91 L376.90 154.67 L377.25 154.31 L377.60 153.86 L377.95 153.34 L378.30 152.80 L378.65 152.26 L379.00 151.74 L379.35 151.29 L379.70 150.93 L380.05 150.69 L380.40 150.60 L380.75 150.67 L381.10 150.88 L381.45 151.18 L381.80 151.57 L382.15 152.01 L382.50 152.48 L382.85 152.96 L383.20 153.41 L383.55 153.81 L383.90 154.15 L384.25 154.38 L384.60 154.49 L384.95 154.48 L385.30 154.41 L385.65 154.30 L386.00 154.14 L386.35 153.96 L386.70 153.77 L387.05 153.56 L387.40 153.37 L387.75 153.18 L388.10 153.02 L388.45 152.90 L388.80 152.82 L389.15 152.80 L389.50 152.82 L389.85 152.86 L390.20 152.92 L390.55 153.00 L390.90 153.10 L391.25 153.21 L391.60 153.34 L391.95 153.48 L392.30 153.63 L392.65 153.78 L393.00 153.94 L393.35 154.10 L393.70 154.27 L394.05 154.43 L394.40 154.59 L394.75 154.74 L395.10 154.88 L395.45 155.02 L395.80 155.14 L396.15 155.25 L396.50 155.34 L396.85 155.41 L397.20 155.46 L397.55 155.49 L397.90 155.49 L398.25 155.39 L398.60 155.17 L398.95 154.87 L399.30 154.51 L399.65 154.12 L400.00 153.71 L400.35 153.33 L400.70 152.99 L401.05 152.72 L401.40 152.55 L401.75 152.50 L402.10 152.59 L402.45 152.81 L402.80 153.12 L403.15 153.50 L403.50 153.94 L403.85 154.40 L404.20 154.86 L404.55 155.30 L404.90 155.68 L405.25 155.99 L405.60 156.21 L405.95 156.30 L406.30 156.22 L406.65 155.95 L407.00 155.53 L407.35 155.00 L407.70 154.40 L408.05 153.77 L408.40 153.15 L408.75 152.58 L409.10 152.11 L409.45 151.77 L409.80 151.61 L410.15 151.64 L410.50 151.79 L410.85 152.05 L411.20 152.40 L411.55 152.80 L411.90 153.25 L412.25 153.72 L412.60 154.18 L412.95 154.62 L413.30 155.01 L413.65 155.33 L414.00 155.57 L414.35 155.69 L414.70 155.67 L415.05 155.52 L415.40 155.23 L415.75 154.86 L416.10 154.41 L416.45 153.91 L416.80 153.40 L417.15 152.90 L417.50 152.43 L417.85 152.02 L418.20 151.69 L418.55 151.48 L418.90 151.40 L419.25 151.46 L419.60 151.62 L419.95 151.86 L420.30 152.16 L420.65 152.49 L421.00 152.85 L421.35 153.20 L421.70 153.53 L422.05 153.82 L422.40 154.04 L422.75 154.17 L423.10 154.20 L423.45 154.11 L423.80 153.93 L424.15 153.68 L424.50 153.38 L424.85 153.05 L425.20 152.71 L425.55 152.38 L425.90 152.08 L426.25 151.84 L426.60 151.67 L426.95 151.60 L427.30 151.60 L427.65 151.61 L428.00 151.62 L428.35 151.64 L428.70 151.66 L429.05 151.69 L429.40 151.72 L429.75 151.76 L430.10 151.80 L430.45 151.84 L430.80 151.89 L431.15 151.93 L431.50 151.99 L431.85 152.04 L432.20 152.10 L432.55 152.15 L432.90 152.21 L433.25 152.27 L433.60 152.33 L433.95 152.40 L434.30 152.46 L434.65 152.52 L435.00 152.58 L435.35 152.65 L435.70 152.71 L436.05 152.77 L436.40 152.83 L436.75 152.88 L437.10 152.94 L437.45 152.99 L437.80 153.05 L438.15 153.09 L438.50 153.14 L438.85 153.18 L439.20 153.22 L439.55 153.26 L439.90 153.29 L440.25 153.32 L440.60 153.35 L440.95 153.38 L441.30 153.41 L441.65 153.44 L442.00 153.47 L442.35 153.50 L442.70 153.53 L443.05 153.56 L443.40 153.58 L443.75 153.61 L444.10 153.63 L444.45 153.65 L444.80 153.67 L445.15 153.68 L445.50 153.69 L445.85 153.70 L446.20 153.70 L446.55 153.64 L446.90 153.38 L447.25 153.00 L447.60 152.57 L447.95 152.17 L448.30 151.89 L448.65 151.80 L449.00 151.83 L449.35 151.91 L449.70 152.03 L450.05 152.18 L450.40 152.36 L450.75 152.55 L451.10 152.77 L451.45 152.99 L451.80 153.21 L452.15 153.43 L452.50 153.63 L452.85 153.82 L453.20 153.99 L453.55 154.13 L453.90 154.23 L454.25 154.29 L454.60 154.29 L454.95 154.20 L455.30 154.02 L455.65 153.77 L456.00 153.47 L456.35 153.16 L456.70 152.85 L457.05 152.58 L457.40 152.36 L457.75 152.23 L458.10 152.20 L458.45 152.28 L458.80 152.43 L459.15 152.64 L459.50 152.90 L459.85 153.18 L460.20 153.46 L460.55 153.74 L460.90 153.99 L461.25 154.20 L461.60 154.34 L461.95 154.40 L462.30 154.36 L462.65 154.22 L463.00 154.00 L463.35 153.74 L463.70 153.43 L464.05 153.12 L464.40 152.82 L464.75 152.56 L465.10 152.35 L465.45 152.23 L465.80 152.20 L466.15 152.25 L466.50 152.36 L466.85 152.50 L467.20 152.68 L467.55 152.89 L467.90 153.10 L468.25 153.31 L468.60 153.52 L468.95 153.70 L469.30 153.84 L469.65 153.95 L470.00 154.00 L470.35 153.98 L470.70 153.90 L471.05 153.78 L471.40 153.61 L471.75 153.42 L472.10 153.22 L472.45 153.02 L472.80 152.84 L473.15 152.68 L473.50 152.57 L473.85 152.51 L474.20 152.50 L474.55 152.51 L474.90 152.52 L475.25 152.53 L475.60 152.55 L475.95 152.57 L476.30 152.60 L476.65 152.63 L477.00 152.66 L477.35 152.69 L477.70 152.72 L478.05 152.75 L478.40 152.79 L478.75 152.82 L479.10 152.85 L479.45 152.88 L479.80 152.91 L480.15 152.93 L480.50 152.95 L480.85 152.97 L481.20 152.99 L481.55 153.00 L481.90 153.00 L482.25 152.99 L482.60 152.96 L482.95 152.89 L483.30 152.81 L483.65 152.71 L484.00 152.60 L484.35 152.49 L484.70 152.37 L485.05 152.25 L485.40 152.13 L485.75 152.03 L486.10 151.94 L486.45 151.87 L486.80 151.82 L487.15 151.80 L487.50 151.81 L487.85 151.84 L488.20 151.88 L488.55 151.95 L488.90 152.02 L489.25 152.10 L489.60 152.19 L489.95 152.29 L490.30 152.38 L490.65 152.47 L491.00 152.56 L491.35 152.63 L491.70 152.70 L492.05 152.75 L492.40 152.79 L492.75 152.80 L493.10 152.78 L493.45 152.72 L493.80 152.61 L494.15 152.48 L494.50 152.33 L494.85 152.18 L495.20 152.02 L495.55 151.88 L495.90 151.75 L496.25 151.66 L496.60 151.61 L496.95 151.60 L497.30 151.64 L497.65 151.72 L498.00 151.82 L498.35 151.94 L498.70 152.08 L499.05 152.22 L499.40 152.36 L499.75 152.49 L500.10 152.61 L500.45 152.71 L500.80 152.77 L501.15 152.80 L501.50 152.78 L501.85 152.73 L502.20 152.64 L502.55 152.52 L502.90 152.40 L503.25 152.26 L503.60 152.13 L503.95 152.01 L504.30 151.91 L504.65 151.84 L505.00 151.80 L505.35 151.81 L505.70 151.86 L506.05 151.95 L506.40 152.06 L506.75 152.19 L507.10 152.32 L507.45 152.45 L507.80 152.57 L508.15 152.68 L508.50 152.75 L508.85 152.80 L509.20 152.80 L509.55 152.79 L509.90 152.78 L510.25 152.76 L510.60 152.72 L510.95 152.68 L511.30 152.63 L511.65 152.57 L512.00 152.50 L512.35 152.41 L512.70 152.32 L513.05 152.21 L513.40 152.08 L513.75 152.03 L514.10 152.09 L514.45 152.15 L514.80 152.20 L515.15 152.24 L515.50 152.26 L515.85 152.27 L516.20 152.27 L516.55 152.25 L516.90 152.21 L517.25 152.17 L517.60 152.12 L517.95 152.06 L518.30 152.00 L518.65 151.95 L519.00 151.91 L519.35 151.87 L519.70 151.85 L520.05 151.84 L520.40 151.84 L520.75 151.86 L521.10 151.90 L521.45 151.94 L521.80 152.00 L522.15 152.05 L522.50 152.12 L522.85 152.18 L523.20 152.23 L523.55 152.28 L523.90 152.31 L524.25 152.34 L524.60 152.35 L524.95 152.34 L525.30 152.33 L525.65 152.30 L526.00 152.26 L526.35 152.21 L526.70 152.16 L527.05 152.10 L527.40 152.05 L527.75 152.01 L528.10 151.97 L528.45 151.95 L528.80 151.94 L529.15 151.94 L529.50 151.96 L529.85 151.99 L530.20 152.03 L530.55 152.08 L530.90 152.13 L531.25 152.19 L531.60 152.24 L531.95 152.29 L532.30 152.34 L532.65 152.37 L533.00 152.40 L533.35 152.41 L533.70 152.40 L534.05 152.39 L534.40 152.36 L534.75 152.32 L535.10 152.28 L535.45 152.23 L535.80 152.18 L536.15 152.14 L536.50 152.09 L536.85 152.06 L537.20 152.04 L537.55 152.02 L537.90 152.02 L538.25 152.04 L538.60 152.06 L538.95 152.10 L539.30 152.14 L539.65 152.19 L540.00 152.24 L540.35 152.29 L540.70 152.34 L541.05 152.38 L541.40 152.42 L541.75 152.44 L542.10 152.45 L542.45 152.45 L542.80 152.44 L543.15 152.41 L543.50 152.38 L543.85 152.34 L544.20 152.29 L544.55 152.25 L544.90 152.20 L545.25 152.16 L545.60 152.13 L545.95 152.11 L546.30 152.09 L546.65 152.09 L547.00 152.10 L547.35 152.12 L547.70 152.15 L548.05 152.19 L548.40 152.24 L548.75 152.29 L549.10 152.33 L549.45 152.38 L549.80 152.42 L550.15 152.45 L550.50 152.47 L550.85 152.49 L551.20 152.49 L551.55 152.47 L551.90 152.45 L552.25 152.42 L552.60 152.39 L552.95 152.35 L553.30 152.30 L553.65 152.26 L554.00 152.22 L554.35 152.19 L554.70 152.17 L555.05 152.15 L555.40 152.15 L555.75 152.16 L556.10 152.17 L556.45 152.20 L556.80 152.24 L557.15 152.28 L557.50 152.32 L557.85 152.37 L558.20 152.41 L558.55 152.45 L558.90 152.48 L559.25 152.50 L559.60 152.51 L559.95 152.51 L560.30 152.50 L560.65 152.48 L561.00 152.46 L561.35 152.42 L561.70 152.39 L562.05 152.35 L562.40 152.31 L562.75 152.27 L563.10 152.24 L563.45 152.21 L563.80 152.20 L564.15 152.19 L564.50 152.20 L564.85 152.22 L565.20 152.24 L565.55 152.27 L565.90 152.31 L566.25 152.35 L566.60 152.39 L566.95 152.43 L567.30 152.47 L567.65 152.49 L568.00 152.52 L568.35 152.53 L568.70 152.53 L569.05 152.52 L569.40 152.51 L569.75 152.48 L570.10 152.45 L570.45 152.42 L570.80 152.38 L571.15 152.34 L571.50 152.31 L571.85 152.28 L572.20 152.26 L572.55 152.24 L572.90 152.23 L573.25 152.24 L573.60 152.25 L573.95 152.27 L574.30 152.30 L574.65 152.33 L575.00 152.37 L575.35 152.41 L575.70 152.45 L576.05 152.48 L576.40 152.51 L576.75 152.53 L577.10 152.54 L577.45 152.55 L577.80 152.54 L578.15 152.53 L578.50 152.50 L578.85 152.48 L579.20 152.44 L579.55 152.41 L579.90 152.37 L580.25 152.34 L580.60 152.31 L580.95 152.29 L581.30 152.27 L581.65 152.27 L582.00 152.27 L582.35 152.28 L582.70 152.30 L583.05 152.32 L583.40 152.35 L583.75 152.39 L584.10 152.42 L584.45 152.46 L584.80 152.49 L585.15 152.52 L585.50 152.54 L585.85 152.55 L586.20 152.56 L586.55 152.55 L586.90 152.54 L587.25 152.52 L587.60 152.49 L587.95 152.46 L588.30 152.43 L588.65 152.40 L589.00 152.37 L589.35 152.34 L589.70 152.32 L590.05 152.30 L590.40 152.30 L590.75 152.30 L591.10 152.31 L591.45 152.32 L591.80 152.34 L592.15 152.37 L592.50 152.40 L592.85 152.44 L593.20 152.47 L593.55 152.50 L593.90 152.52 L594.25 152.54 L594.60 152.56 L594.95 152.56 L595.30 152.56 L595.65 152.55 L596.00 152.53 L596.35 152.51 L596.70 152.48 L597.05 152.45 L597.40 152.42 L597.75 152.39 L598.10 152.37 L598.45 152.34 L598.80 152.33 L599.15 152.32 L599.50 152.32 L599.85 152.33 L600.20 152.34 L600.55 152.36 L600.90 152.39 L601.25 152.41 L601.60 152.44 L601.95 152.47 L602.30 152.50 L602.65 152.53 L603.00 152.55 L603.35 152.56 L603.70 152.57 L604.05 152.56 L604.40 152.56 L604.75 152.54 L605.10 152.52 L605.45 152.49 L605.80 152.47 L606.15 152.44 L606.50 152.41 L606.85 152.39 L607.20 152.37 L607.55 152.35 L607.90 152.34 L608.25 152.34 L608.60 152.34 L608.95 152.36 L609.30 152.37 L609.65 152.40 L610.00 152.42 L610.35 152.45 L610.70 152.48 L611.05 152.51 L611.40 152.53 L611.75 152.55 L612.10 152.56 L612.45 152.57 L612.80 152.57 L613.15 152.56 L613.50 152.55 L613.85 152.53 L614.20 152.50 L614.55 152.48 L614.90 152.45 L615.25 152.43 L615.60 152.40 L615.95 152.38 L616.30 152.37 L616.65 152.36 L617.00 152.36 L617.35 152.36 L617.70 152.37 L618.05 152.39 L618.40 152.41 L618.75 152.43 L619.10 152.46 L619.45 152.48 L619.80 152.51 L620.15 152.53 L620.50 152.55 L620.85 152.56 L621.20 152.57 L621.55 152.57 L621.90 152.56 L622.25 152.55 L622.60 152.53 L622.95 152.51 L623.30 152.49 L623.65 152.46 L624.00 152.44 L624.35 152.42 L624.70 152.40 L625.05 152.38 L625.40 152.37 L625.75 152.37 L626.10 152.37 L626.45 152.38 L626.80 152.40 L627.15 152.42 L627.50 152.44 L627.85 152.46 L628.20 152.49 L628.55 152.51 L628.90 152.53 L629.25 152.55 L629.60 152.56 L629.95 152.57 L630.30 152.57 L630.65 152.56 L631.00 152.55 L631.35 152.54 L631.70 152.52 L632.05 152.50 L632.40 152.47 L632.75 152.45 L633.10 152.43 L633.45 152.41 L633.80 152.40 L634.15 152.39 L634.50 152.38 L634.85 152.39 L635.20 152.39 L635.55 152.41 L635.90 152.42 L636.25 152.44 L636.60 152.46 L636.95 152.49 L637.30 152.51 L637.65 152.53 L638.00 152.54 L638.35 152.56 L638.70 152.56 L639.05 152.57 L639.40 152.56 L639.75 152.55 L640.10 152.54 L640.45 152.52 L640.80 152.50 L641.15 152.48 L641.50 152.46 L641.85 152.44 L642.20 152.42 L642.55 152.41 L642.90 152.40 L643.25 152.40 L643.60 152.40 L643.95 152.40 L644.30 152.41 L644.65 152.43 L645.00 152.45 L645.35 152.47 L645.70 152.49 L646.05 152.51 L646.40 152.53 L646.75 152.54 L647.10 152.55 L647.45 152.56 L647.80 152.56 L648.15 152.56 L648.50 152.55 L648.85 152.54 L649.20 152.53 L649.55 152.51 L649.90 152.49 L650.25 152.47 L650.60 152.45 L650.95 152.43 L651.30 152.42 L651.65 152.41 L652.00 152.41 L652.35 152.41 L652.70 152.41 L653.05 152.42 L653.40 152.43 L653.75 152.45 L654.10 152.47 L654.45 152.49 L654.80 152.51 L655.15 152.52 L655.50 152.54 L655.85 152.55 L656.20 152.56 L656.55 152.56 L656.90 152.56" stroke="#ff0000" stroke-width="2.3" stroke-linejoin="round" stroke-dasharray="8.5 6"/>
<path d="M110.20 294.00 L110.55 287.47 L110.90 269.60 L111.25 242.95 L111.60 210.08 L111.95 173.54 L112.30 135.91 L112.65 99.74 L113.00 67.60 L113.35 42.05 L113.70 25.64 L114.05 20.88 L114.40 25.60 L114.75 36.76 L115.10 53.17 L115.45 73.66 L115.80 97.02 L116.15 122.08 L116.50 147.65 L116.85 172.55 L117.20 195.57 L117.55 215.55 L117.90 231.29 L118.25 241.60 L118.60 245.30 L118.95 241.59 L119.30 231.31 L119.65 215.74 L120.00 196.15 L120.35 173.83 L120.70 150.04 L121.05 126.08 L121.40 103.20 L121.75 82.71 L122.10 65.86 L122.45 53.93 L122.80 48.22 L123.15 48.98 L123.50 53.78 L123.85 61.73 L124.20 72.10 L124.55 84.16 L124.90 97.16 L125.25 110.38 L125.60 123.07 L125.95 134.49 L126.30 143.92 L126.65 150.61 L127.00 153.82 L127.35 153.77 L127.70 152.71 L128.05 150.88 L128.40 148.37 L128.75 145.26 L129.10 141.65 L129.45 137.62 L129.80 133.28 L130.15 128.70 L130.50 123.98 L130.85 119.20 L131.20 114.47 L131.55 109.87 L131.90 105.48 L132.25 101.41 L132.60 97.73 L132.95 94.54 L133.30 91.94 L133.65 90.01 L134.00 88.83 L134.35 88.52 L134.70 89.92 L135.05 93.26 L135.40 98.24 L135.75 104.56 L136.10 111.92 L136.45 120.01 L136.80 128.54 L137.15 137.19 L137.50 145.67 L137.85 153.68 L138.20 160.91 L138.55 167.06 L138.90 171.82 L139.25 174.91 L139.60 176.00 L139.95 173.94 L140.30 168.27 L140.65 159.72 L141.00 149.04 L141.35 136.98 L141.70 124.27 L142.05 111.68 L142.40 99.94 L142.75 89.79 L143.10 81.99 L143.45 77.27 L143.80 76.44 L144.15 80.76 L144.50 89.78 L144.85 102.57 L145.20 118.18 L145.55 135.67 L145.90 154.10 L146.25 172.53 L146.60 190.02 L146.95 205.63 L147.30 218.42 L147.65 227.44 L148.00 231.76 L148.35 230.73 L148.70 225.08 L149.05 215.64 L149.40 203.21 L149.75 188.60 L150.10 172.62 L150.45 156.06 L150.80 139.72 L151.15 124.43 L151.50 110.97 L151.85 100.15 L152.20 92.78 L152.55 89.65 L152.90 92.00 L153.25 100.18 L153.60 113.01 L153.95 129.27 L154.30 147.77 L154.65 167.31 L155.00 186.67 L155.35 204.66 L155.70 220.06 L156.05 231.68 L156.40 238.31 L156.75 238.99 L157.10 235.11 L157.45 227.69 L157.80 217.41 L158.15 204.96 L158.50 191.04 L158.85 176.33 L159.20 161.52 L159.55 147.30 L159.90 134.36 L160.25 123.39 L160.60 115.08 L160.95 110.11 L161.30 109.14 L161.65 111.63 L162.00 116.86 L162.35 124.28 L162.70 133.37 L163.05 143.60 L163.40 154.43 L163.75 165.34 L164.10 175.80 L164.45 185.27 L164.80 193.22 L165.15 199.13 L165.50 202.46 L165.85 202.75 L166.20 200.42 L166.55 195.98 L166.90 189.85 L167.25 182.49 L167.60 174.32 L167.95 165.77 L168.30 157.29 L168.65 149.30 L169.00 142.25 L169.35 136.56 L169.70 132.68 L170.05 131.03 L170.40 131.25 L170.75 132.10 L171.10 133.45 L171.45 135.21 L171.80 137.25 L172.15 139.49 L172.50 141.80 L172.85 144.09 L173.20 146.25 L173.55 148.17 L173.90 149.75 L174.25 150.88 L174.60 151.67 L174.95 152.45 L175.30 153.19 L175.65 153.89 L176.00 154.51 L176.35 155.05 L176.70 155.49 L177.05 155.80 L177.40 155.97 L177.75 155.90 L178.10 154.92 L178.45 153.05 L178.80 150.43 L179.15 147.24 L179.50 143.62 L179.85 139.76 L180.20 135.80 L180.55 131.92 L180.90 128.26 L181.25 125.00 L181.60 122.29 L181.95 120.29 L182.30 119.18 L182.65 119.21 L183.00 121.21 L183.35 125.03 L183.70 130.28 L184.05 136.60 L184.40 143.62 L184.75 150.95 L185.10 158.23 L185.45 165.09 L185.80 171.14 L186.15 176.03 L186.50 179.36 L186.85 180.78 L187.20 179.68 L187.55 175.86 L187.90 169.85 L188.25 162.19 L188.60 153.44 L188.95 144.15 L189.30 134.86 L189.65 126.11 L190.00 118.45 L190.35 112.44 L190.70 108.62 L191.05 107.53 L191.40 109.14 L191.75 112.96 L192.10 118.62 L192.45 125.74 L192.80 133.94 L193.15 142.85 L193.50 152.07 L193.85 161.25 L194.20 169.99 L194.55 177.92 L194.90 184.66 L195.25 189.84 L195.60 193.07 L195.95 193.97 L196.30 192.10 L196.65 187.69 L197.00 181.27 L197.35 173.32 L197.70 164.36 L198.05 154.90 L198.40 145.44 L198.75 136.48 L199.10 128.53 L199.45 122.11 L199.80 117.70 L200.15 115.83 L200.50 116.71 L200.85 119.85 L201.20 124.84 L201.55 131.30 L201.90 138.84 L202.25 147.04 L202.60 155.53 L202.95 163.91 L203.30 171.78 L203.65 178.74 L204.00 184.42 L204.35 188.40 L204.70 190.30 L205.05 189.72 L205.40 186.76 L205.75 181.90 L206.10 175.66 L206.45 168.54 L206.80 161.05 L207.15 153.72 L207.50 147.04 L207.85 141.52 L208.20 137.68 L208.55 136.03 L208.90 136.49 L209.25 138.18 L209.60 140.86 L209.95 144.31 L210.30 148.30 L210.65 152.61 L211.00 157.02 L211.35 161.29 L211.70 165.22 L212.05 168.57 L212.40 171.12 L212.75 172.66 L213.10 172.97 L213.45 172.52 L213.80 171.57 L214.15 170.24 L214.50 168.62 L214.85 166.83 L215.20 164.96 L215.55 163.14 L215.90 161.45 L216.25 160.01 L216.60 158.92 L216.95 158.24 L217.30 157.65 L217.65 157.09 L218.00 156.56 L218.35 156.07 L218.70 155.65 L219.05 155.30 L219.40 155.03 L219.75 154.86 L220.10 154.80 L220.45 155.01 L220.80 155.59 L221.15 156.51 L221.50 157.69 L221.85 159.09 L222.20 160.65 L222.55 162.32 L222.90 164.05 L223.25 165.78 L223.60 167.45 L223.95 169.01 L224.30 170.41 L224.65 171.59 L225.00 172.51 L225.35 173.09 L225.70 173.30 L226.05 172.63 L226.40 170.78 L226.75 167.99 L227.10 164.49 L227.45 160.51 L227.80 156.30 L228.15 152.09 L228.50 148.11 L228.85 144.61 L229.20 141.82 L229.55 139.97 L229.90 139.30 L230.25 140.00 L230.60 141.95 L230.95 144.93 L231.30 148.69 L231.65 153.01 L232.00 157.66 L232.35 162.41 L232.70 167.03 L233.05 171.29 L233.40 174.95 L233.75 177.79 L234.10 179.58 L234.45 180.08 L234.80 178.82 L235.15 175.87 L235.50 171.59 L235.85 166.34 L236.20 160.47 L236.55 154.35 L236.90 148.32 L237.25 142.76 L237.60 138.02 L237.95 134.46 L238.30 132.43 L238.65 132.24 L239.00 133.59 L239.35 136.16 L239.70 139.71 L240.05 144.00 L240.40 148.78 L240.75 153.80 L241.10 158.82 L241.45 163.60 L241.80 167.89 L242.15 171.44 L242.50 174.01 L242.85 175.36 L243.20 175.21 L243.55 173.43 L243.90 170.30 L244.25 166.15 L244.60 161.27 L244.95 155.99 L245.30 150.62 L245.65 145.47 L246.00 140.87 L246.35 137.11 L246.70 134.52 L247.05 133.42 L247.40 133.85 L247.75 135.38 L248.10 137.80 L248.45 140.91 L248.80 144.48 L249.15 148.33 L249.50 152.24 L249.85 155.99 L250.20 159.40 L250.55 162.23 L250.90 164.30 L251.25 165.39 L251.60 165.40 L251.95 164.75 L252.30 163.60 L252.65 162.03 L253.00 160.14 L253.35 158.03 L253.70 155.78 L254.05 153.49 L254.40 151.26 L254.75 149.17 L255.10 147.32 L255.45 145.81 L255.80 144.72 L256.15 144.16 L256.50 144.16 L256.85 144.50 L257.20 145.12 L257.55 145.96 L257.90 146.97 L258.25 148.10 L258.60 149.29 L258.95 150.50 L259.30 151.68 L259.65 152.77 L260.00 153.72 L260.35 154.48 L260.70 155.00 L261.05 155.38 L261.40 155.75 L261.75 156.11 L262.10 156.45 L262.45 156.76 L262.80 157.05 L263.15 157.30 L263.50 157.52 L263.85 157.69 L264.20 157.81 L264.55 157.88 L264.90 157.88 L265.25 157.53 L265.60 156.82 L265.95 155.84 L266.30 154.68 L266.65 153.45 L267.00 152.22 L267.35 151.11 L267.70 150.19 L268.05 149.58 L268.40 149.35 L268.75 149.71 L269.10 150.71 L269.45 152.23 L269.80 154.14 L270.15 156.32 L270.50 158.64 L270.85 160.98 L271.20 163.21 L271.55 165.21 L271.90 166.85 L272.25 168.01 L272.60 168.57 L272.95 168.43 L273.30 167.65 L273.65 166.34 L274.00 164.60 L274.35 162.53 L274.70 160.25 L275.05 157.85 L275.40 155.43 L275.75 153.10 L276.10 150.96 L276.45 149.12 L276.80 147.68 L277.15 146.74 L277.50 146.40 L277.85 147.04 L278.20 148.78 L278.55 151.38 L278.90 154.56 L279.25 158.07 L279.60 161.66 L279.95 165.06 L280.30 168.02 L280.65 170.28 L281.00 171.59 L281.35 171.72 L281.70 170.94 L282.05 169.47 L282.40 167.42 L282.75 164.96 L283.10 162.21 L283.45 159.33 L283.80 156.44 L284.15 153.69 L284.50 151.23 L284.85 149.18 L285.20 147.71 L285.55 146.93 L285.90 146.99 L286.25 147.82 L286.60 149.30 L286.95 151.27 L287.30 153.59 L287.65 156.12 L288.00 158.70 L288.35 161.21 L288.70 163.49 L289.05 165.39 L289.40 166.79 L289.75 167.52 L290.10 167.46 L290.45 166.64 L290.80 165.18 L291.15 163.25 L291.50 160.98 L291.85 158.52 L292.20 156.02 L292.55 153.62 L292.90 151.48 L293.25 149.73 L293.60 148.52 L293.95 148.01 L294.30 148.11 L294.65 148.49 L295.00 149.11 L295.35 149.91 L295.70 150.85 L296.05 151.88 L296.40 152.97 L296.75 154.06 L297.10 155.12 L297.45 156.09 L297.80 156.93 L298.15 157.60 L298.50 158.06 L298.85 158.25 L299.20 158.18 L299.55 157.94 L299.90 157.55 L300.25 157.05 L300.60 156.46 L300.95 155.82 L301.30 155.15 L301.65 154.48 L302.00 153.84 L302.35 153.26 L302.70 152.78 L303.05 152.42 L303.40 152.20 L303.75 152.07 L304.10 151.95 L304.45 151.84 L304.80 151.73 L305.15 151.63 L305.50 151.55 L305.85 151.47 L306.20 151.41 L306.55 151.36 L306.90 151.32 L307.25 151.30 L307.60 151.31 L307.95 151.43 L308.30 151.70 L308.65 152.06 L309.00 152.49 L309.35 152.95 L309.70 153.41 L310.05 153.84 L310.40 154.20 L310.75 154.47 L311.10 154.59 L311.45 154.55 L311.80 154.31 L312.15 153.91 L312.50 153.38 L312.85 152.75 L313.20 152.05 L313.55 151.31 L313.90 150.57 L314.25 149.84 L314.60 149.17 L314.95 148.58 L315.30 148.10 L315.65 147.77 L316.00 147.61 L316.35 147.72 L316.70 148.26 L317.05 149.15 L317.40 150.31 L317.75 151.65 L318.10 153.09 L318.45 154.54 L318.80 155.92 L319.15 157.14 L319.50 158.12 L319.85 158.76 L320.20 159.00 L320.55 158.82 L320.90 158.33 L321.25 157.59 L321.60 156.63 L321.95 155.53 L322.30 154.33 L322.65 153.10 L323.00 151.88 L323.35 150.73 L323.70 149.70 L324.05 148.86 L324.40 148.25 L324.75 147.93 L325.10 147.98 L325.45 148.44 L325.80 149.26 L326.15 150.35 L326.50 151.66 L326.85 153.09 L327.20 154.58 L327.55 156.04 L327.90 157.41 L328.25 158.60 L328.60 159.55 L328.95 160.18 L329.30 160.40 L329.65 160.17 L330.00 159.54 L330.35 158.61 L330.70 157.45 L331.05 156.17 L331.40 154.84 L331.75 153.57 L332.10 152.44 L332.45 151.55 L332.80 150.97 L333.15 150.80 L333.50 151.01 L333.85 151.51 L334.20 152.23 L334.55 153.13 L334.90 154.14 L335.25 155.20 L335.60 156.26 L335.95 157.27 L336.30 158.17 L336.65 158.89 L337.00 159.39 L337.35 159.60 L337.70 159.51 L338.05 159.22 L338.40 158.76 L338.75 158.18 L339.10 157.51 L339.45 156.80 L339.80 156.09 L340.15 155.42 L340.50 154.84 L340.85 154.38 L341.20 154.09 L341.55 154.00 L341.90 154.07 L342.25 154.23 L342.60 154.46 L342.95 154.75 L343.30 155.06 L343.65 155.40 L344.00 155.72 L344.35 156.02 L344.70 156.28 L345.05 156.47 L345.40 156.58 L345.75 156.60 L346.10 156.58 L346.45 156.56 L346.80 156.51 L347.15 156.46 L347.50 156.40 L347.85 156.32 L348.20 156.24 L348.55 156.14 L348.90 156.05 L349.25 155.94 L349.60 155.83 L349.95 155.72 L350.30 155.60 L350.65 155.44 L351.00 155.20 L351.35 154.90 L351.70 154.56 L352.05 154.19 L352.40 153.83 L352.75 153.47 L353.10 153.14 L353.45 152.87 L353.80 152.65 L354.15 152.53 L354.50 152.51 L354.85 152.62 L355.20 152.87 L355.55 153.21 L355.90 153.62 L356.25 154.08 L356.60 154.55 L356.95 155.01 L357.30 155.43 L357.65 155.79 L358.00 156.05 L358.35 156.19 L358.70 156.16 L359.05 155.95 L359.40 155.56 L359.75 155.04 L360.10 154.42 L360.45 153.72 L360.80 153.00 L361.15 152.28 L361.50 151.58 L361.85 150.96 L362.20 150.44 L362.55 150.05 L362.90 149.84 L363.25 149.82 L363.60 150.04 L363.95 150.44 L364.30 151.00 L364.65 151.66 L365.00 152.38 L365.35 153.12 L365.70 153.84 L366.05 154.49 L366.40 155.02 L366.75 155.41 L367.10 155.59 L367.45 155.55 L367.80 155.31 L368.15 154.92 L368.50 154.40 L368.85 153.79 L369.20 153.11 L369.55 152.40 L369.90 151.69 L370.25 151.01 L370.60 150.40 L370.95 149.88 L371.30 149.49 L371.65 149.25 L372.00 149.21 L372.35 149.38 L372.70 149.73 L373.05 150.22 L373.40 150.82 L373.75 151.50 L374.10 152.20 L374.45 152.90 L374.80 153.56 L375.15 154.13 L375.50 154.59 L375.85 154.89 L376.20 155.00 L376.55 154.91 L376.90 154.67 L377.25 154.31 L377.60 153.86 L377.95 153.34 L378.30 152.80 L378.65 152.26 L379.00 151.74 L379.35 151.29 L379.70 150.93 L380.05 150.69 L380.40 150.60 L380.75 150.67 L381.10 150.88 L381.45 151.18 L381.80 151.57 L382.15 152.01 L382.50 152.48 L382.85 152.96 L383.20 153.41 L383.55 153.81 L383.90 154.15 L384.25 154.38 L384.60 154.49 L384.95 154.48 L385.30 154.41 L385.65 154.30 L386.00 154.14 L386.35 153.96 L386.70 153.77 L387.05 153.56 L387.40 153.37 L387.75 153.18 L388.10 153.02 L388.45 152.90 L388.80 152.82 L389.15 152.80 L389.50 152.82 L389.85 152.86 L390.20 152.92 L390.55 153.00 L390.90 153.10 L391.25 153.21 L391.60 153.34 L391.95 153.48 L392.30 153.63 L392.65 153.78 L393.00 153.94 L393.35 154.10 L393.70 154.27 L394.05 154.43 L394.40 154.59 L394.75 154.74 L395.10 154.88 L395.45 155.02 L395.80 155.14 L396.15 155.25 L396.50 155.34 L396.85 155.41 L397.20 155.46 L397.55 155.49 L397.90 155.49 L398.25 155.39 L398.60 155.17 L398.95 154.87 L399.30 154.51 L399.65 154.12 L400.00 153.71 L400.35 153.33 L400.70 152.99 L401.05 152.72 L401.40 152.55 L401.75 152.50 L402.10 152.59 L402.45 152.81 L402.80 153.12 L403.15 153.50 L403.50 153.94 L403.85 154.40 L404.20 154.86 L404.55 155.30 L404.90 155.68 L405.25 155.99 L405.60 156.21 L405.95 156.30 L406.30 156.22 L406.65 155.95 L407.00 155.53 L407.35 155.00 L407.70 154.40 L408.05 153.77 L408.40 153.15 L408.75 152.58 L409.10 152.11 L409.45 151.77 L409.80 151.61 L410.15 151.64 L410.50 151.79 L410.85 152.05 L411.20 152.40 L411.55 152.80 L411.90 153.25 L412.25 153.72 L412.60 154.18 L412.95 154.62 L413.30 155.01 L413.65 155.33 L414.00 155.57 L414.35 155.69 L414.70 155.67 L415.05 155.52 L415.40 155.23 L415.75 154.86 L416.10 154.41 L416.45 153.91 L416.80 153.40 L417.15 152.90 L417.50 152.43 L417.85 152.02 L418.20 151.69 L418.55 151.48 L418.90 151.40 L419.25 151.46 L419.60 151.62 L419.95 151.86 L420.30 152.16 L420.65 152.49 L421.00 152.85 L421.35 153.20 L421.70 153.53 L422.05 153.82 L422.40 154.04 L422.75 154.17 L423.10 154.20 L423.45 154.11 L423.80 153.93 L424.15 153.68 L424.50 153.38 L424.85 153.05 L425.20 152.71 L425.55 152.38 L425.90 152.08 L426.25 151.84 L426.60 151.67 L426.95 151.60 L427.30 151.60 L427.65 151.61 L428.00 151.62 L428.35 151.64 L428.70 151.66 L429.05 151.69 L429.40 151.72 L429.75 151.76 L430.10 151.80 L430.45 151.84 L430.80 151.89 L431.15 151.93 L431.50 151.99 L431.85 152.04 L432.20 152.10 L432.55 152.15 L432.90 152.21 L433.25 152.27 L433.60 152.33 L433.95 152.40 L434.30 152.46 L434.65 152.52 L435.00 152.58 L435.35 152.65 L435.70 152.71 L436.05 152.77 L436.40 152.83 L436.75 152.88 L437.10 152.94 L437.45 152.99 L437.80 153.05 L438.15 153.09 L438.50 153.14 L438.85 153.18 L439.20 153.22 L439.55 153.26 L439.90 153.29 L440.25 153.32 L440.60 153.35 L440.95 153.38 L441.30 153.41 L441.65 153.44 L442.00 153.47 L442.35 153.50 L442.70 153.53 L443.05 153.56 L443.40 153.58 L443.75 153.61 L444.10 153.63 L444.45 153.65 L444.80 153.67 L445.15 153.68 L445.50 153.69 L445.85 153.70 L446.20 153.70 L446.55 153.64 L446.90 153.38 L447.25 153.00 L447.60 152.57 L447.95 152.17 L448.30 151.89 L448.65 151.80 L449.00 151.83 L449.35 151.91 L449.70 152.03 L450.05 152.18 L450.40 152.36 L450.75 152.55 L451.10 152.77 L451.45 152.99 L451.80 153.21 L452.15 153.43 L452.50 153.63 L452.85 153.82 L453.20 153.99 L453.55 154.13 L453.90 154.23 L454.25 154.29 L454.60 154.29 L454.95 154.20 L455.30 154.02 L455.65 153.77 L456.00 153.47 L456.35 153.16 L456.70 152.85 L457.05 152.58 L457.40 152.36 L457.75 152.23 L458.10 152.20 L458.45 152.28 L458.80 152.43 L459.15 152.64 L459.50 152.90 L459.85 153.18 L460.20 153.46 L460.55 153.74 L460.90 153.99 L461.25 154.20 L461.60 154.34 L461.95 154.40 L462.30 154.36 L462.65 154.22 L463.00 154.00 L463.35 153.74 L463.70 153.43 L464.05 153.12 L464.40 152.82 L464.75 152.56 L465.10 152.35 L465.45 152.23 L465.80 152.20 L466.15 152.25 L466.50 152.36 L466.85 152.50 L467.20 152.68 L467.55 152.89 L467.90 153.10 L468.25 153.31 L468.60 153.52 L468.95 153.70 L469.30 153.84 L469.65 153.95 L470.00 154.00 L470.35 153.98 L470.70 153.90 L471.05 153.78 L471.40 153.61 L471.75 153.42 L472.10 153.22 L472.45 153.02 L472.80 152.84 L473.15 152.68 L473.50 152.57 L473.85 152.51 L474.20 152.50 L474.55 152.51 L474.90 152.52 L475.25 152.53 L475.60 152.55 L475.95 152.57 L476.30 152.60 L476.65 152.63 L477.00 152.66 L477.35 152.69 L477.70 152.72 L478.05 152.75 L478.40 152.79 L478.75 152.82 L479.10 152.85 L479.45 152.88 L479.80 152.91 L480.15 152.93 L480.50 152.95 L480.85 152.97 L481.20 152.99 L481.55 153.00 L481.90 153.00 L482.25 152.99 L482.60 152.96 L482.95 152.89 L483.30 152.81 L483.65 152.71 L484.00 152.60 L484.35 152.49 L484.70 152.37 L485.05 152.25 L485.40 152.13 L485.75 152.03 L486.10 151.94 L486.45 151.87 L486.80 151.82 L487.15 151.80 L487.50 151.81 L487.85 151.84 L488.20 151.88 L488.55 151.95 L488.90 152.02 L489.25 152.10 L489.60 152.19 L489.95 152.29 L490.30 152.38 L490.65 152.47 L491.00 152.56 L491.35 152.63 L491.70 152.70 L492.05 152.75 L492.40 152.79 L492.75 152.80 L493.10 152.78 L493.45 152.72 L493.80 152.61 L494.15 152.48 L494.50 152.33 L494.85 152.18 L495.20 152.02 L495.55 151.88 L495.90 151.75 L496.25 151.66 L496.60 151.61 L496.95 151.60 L497.30 151.64 L497.65 151.72 L498.00 151.82 L498.35 151.94 L498.70 152.08 L499.05 152.22 L499.40 152.36 L499.75 152.49 L500.10 152.61 L500.45 152.71 L500.80 152.77 L501.15 152.80 L501.50 152.78 L501.85 152.73 L502.20 152.64 L502.55 152.52 L502.90 152.40 L503.25 152.26 L503.60 152.13 L503.95 152.01 L504.30 151.91 L504.65 151.84 L505.00 151.80 L505.35 151.81 L505.70 151.86 L506.05 151.95 L506.40 152.06 L506.75 152.19 L507.10 152.32 L507.45 152.45 L507.80 152.57 L508.15 152.68 L508.50 152.75 L508.85 152.80 L509.20 152.80 L509.55 152.79 L509.90 152.78 L510.25 152.76 L510.60 152.72 L510.95 152.68 L511.30 152.63 L511.65 152.57 L512.00 152.50 L512.35 152.41 L512.70 152.32 L513.05 152.21 L513.40 152.08 L513.75 152.03 L514.10 152.09 L514.45 152.15 L514.80 152.20 L515.15 152.24 L515.50 152.26 L515.85 152.27 L516.20 152.27 L516.55 152.25 L516.90 152.21 L517.25 152.17 L517.60 152.12 L517.95 152.06 L518.30 152.00 L518.65 151.95 L519.00 151.91 L519.35 151.87 L519.70 151.85 L520.05 151.84 L520.40 151.84 L520.75 151.86 L521.10 151.90 L521.45 151.94 L521.80 152.00 L522.15 152.05 L522.50 152.12 L522.85 152.18 L523.20 152.23 L523.55 152.28 L523.90 152.31 L524.25 152.34 L524.60 152.35 L524.95 152.34 L525.30 152.33 L525.65 152.30 L526.00 152.26 L526.35 152.21 L526.70 152.16 L527.05 152.10 L527.40 152.05 L527.75 152.01 L528.10 151.97 L528.45 151.95 L528.80 151.94 L529.15 151.94 L529.50 151.96 L529.85 151.99 L530.20 152.03 L530.55 152.08 L530.90 152.13 L531.25 152.19 L531.60 152.24 L531.95 152.29 L532.30 152.34 L532.65 152.37 L533.00 152.40 L533.35 152.41 L533.70 152.40 L534.05 152.39 L534.40 152.36 L534.75 152.32 L535.10 152.28 L535.45 152.23 L535.80 152.18 L536.15 152.14 L536.50 152.09 L536.85 152.06 L537.20 152.04 L537.55 152.02 L537.90 152.02 L538.25 152.04 L538.60 152.06 L538.95 152.10 L539.30 152.14 L539.65 152.19 L540.00 152.24 L540.35 152.29 L540.70 152.34 L541.05 152.38 L541.40 152.42 L541.75 152.44 L542.10 152.45 L542.45 152.45 L542.80 152.44 L543.15 152.41 L543.50 152.38 L543.85 152.34 L544.20 152.29 L544.55 152.25 L544.90 152.20 L545.25 152.16 L545.60 152.13 L545.95 152.11 L546.30 152.09 L546.65 152.09 L547.00 152.10 L547.35 152.12 L547.70 152.15 L548.05 152.19 L548.40 152.24 L548.75 152.29 L549.10 152.33 L549.45 152.38 L549.80 152.42 L550.15 152.45 L550.50 152.47 L550.85 152.49 L551.20 152.49 L551.55 152.47 L551.90 152.45 L552.25 152.42 L552.60 152.39 L552.95 152.35 L553.30 152.30 L553.65 152.26 L554.00 152.22 L554.35 152.19 L554.70 152.17 L555.05 152.15 L555.40 152.15 L555.75 152.16 L556.10 152.17 L556.45 152.20 L556.80 152.24 L557.15 152.28 L557.50 152.32 L557.85 152.37 L558.20 152.41 L558.55 152.45 L558.90 152.48 L559.25 152.50 L559.60 152.51 L559.95 152.51 L560.30 152.50 L560.65 152.48 L561.00 152.46 L561.35 152.42 L561.70 152.39 L562.05 152.35 L562.40 152.31 L562.75 152.27 L563.10 152.24 L563.45 152.21 L563.80 152.20 L564.15 152.19 L564.50 152.20 L564.85 152.22 L565.20 152.24 L565.55 152.27 L565.90 152.31 L566.25 152.35 L566.60 152.39 L566.95 152.43 L567.30 152.47 L567.65 152.49 L568.00 152.52 L568.35 152.53 L568.70 152.53 L569.05 152.52 L569.40 152.51 L569.75 152.48 L570.10 152.45 L570.45 152.42 L570.80 152.38 L571.15 152.34 L571.50 152.31 L571.85 152.28 L572.20 152.26 L572.55 152.24 L572.90 152.23 L573.25 152.24 L573.60 152.25 L573.95 152.27 L574.30 152.30 L574.65 152.33 L575.00 152.37 L575.35 152.41 L575.70 152.45 L576.05 152.48 L576.40 152.51 L576.75 152.53 L577.10 152.54 L577.45 152.55 L577.80 152.54 L578.15 152.53 L578.50 152.50 L578.85 152.48 L579.20 152.44 L579.55 152.41 L579.90 152.37 L580.25 152.34 L580.60 152.31 L580.95 152.29 L581.30 152.27 L581.65 152.27 L582.00 152.27 L582.35 152.28 L582.70 152.30 L583.05 152.32 L583.40 152.35 L583.75 152.39 L584.10 152.42 L584.45 152.46 L584.80 152.49 L585.15 152.52 L585.50 152.54 L585.85 152.55 L586.20 152.56 L586.55 152.55 L586.90 152.54 L587.25 152.52 L587.60 152.49 L587.95 152.46 L588.30 152.43 L588.65 152.40 L589.00 152.37 L589.35 152.34 L589.70 152.32 L590.05 152.30 L590.40 152.30 L590.75 152.30 L591.10 152.31 L591.45 152.32 L591.80 152.34 L592.15 152.37 L592.50 152.40 L592.85 152.44 L593.20 152.47 L593.55 152.50 L593.90 152.52 L594.25 152.54 L594.60 152.56 L594.95 152.56 L595.30 152.56 L595.65 152.55 L596.00 152.53 L596.35 152.51 L596.70 152.48 L597.05 152.45 L597.40 152.42 L597.75 152.39 L598.10 152.37 L598.45 152.34 L598.80 152.33 L599.15 152.32 L599.50 152.32 L599.85 152.33 L600.20 152.34 L600.55 152.36 L600.90 152.39 L601.25 152.41 L601.60 152.44 L601.95 152.47 L602.30 152.50 L602.65 152.53 L603.00 152.55 L603.35 152.56 L603.70 152.57 L604.05 152.56 L604.40 152.56 L604.75 152.54 L605.10 152.52 L605.45 152.49 L605.80 152.47 L606.15 152.44 L606.50 152.41 L606.85 152.39 L607.20 152.37 L607.55 152.35 L607.90 152.34 L608.25 152.34 L608.60 152.34 L608.95 152.36 L609.30 152.37 L609.65 152.40 L610.00 152.42 L610.35 152.45 L610.70 152.48 L611.05 152.51 L611.40 152.53 L611.75 152.55 L612.10 152.56 L612.45 152.57 L612.80 152.57 L613.15 152.56 L613.50 152.55 L613.85 152.53 L614.20 152.50 L614.55 152.48 L614.90 152.45 L615.25 152.43 L615.60 152.40 L615.95 152.38 L616.30 152.37 L616.65 152.36 L617.00 152.36 L617.35 152.36 L617.70 152.37 L618.05 152.39 L618.40 152.41 L618.75 152.43 L619.10 152.46 L619.45 152.48 L619.80 152.51 L620.15 152.53 L620.50 152.55 L620.85 152.56 L621.20 152.57 L621.55 152.57 L621.90 152.56 L622.25 152.55 L622.60 152.53 L622.95 152.51 L623.30 152.49 L623.65 152.46 L624.00 152.44 L624.35 152.42 L624.70 152.40 L625.05 152.38 L625.40 152.37 L625.75 152.37 L626.10 152.37 L626.45 152.38 L626.80 152.40 L627.15 152.42 L627.50 152.44 L627.85 152.46 L628.20 152.49 L628.55 152.51 L628.90 152.53 L629.25 152.55 L629.60 152.56 L629.95 152.57 L630.30 152.57 L630.65 152.56 L631.00 152.55 L631.35 152.54 L631.70 152.52 L632.05 152.50 L632.40 152.47 L632.75 152.45 L633.10 152.43 L633.45 152.41 L633.80 152.40 L634.15 152.39 L634.50 152.38 L634.85 152.39 L635.20 152.39 L635.55 152.41 L635.90 152.42 L636.25 152.44 L636.60 152.46 L636.95 152.49 L637.30 152.51 L637.65 152.53 L638.00 152.54 L638.35 152.56 L638.70 152.56 L639.05 152.57 L639.40 152.56 L639.75 152.55 L640.10 152.54 L640.45 152.52 L640.80 152.50 L641.15 152.48 L641.50 152.46 L641.85 152.44 L642.20 152.42 L642.55 152.41 L642.90 152.40 L643.25 152.40 L643.60 152.40 L643.95 152.40 L644.30 152.41 L644.65 152.43 L645.00 152.45 L645.35 152.47 L645.70 152.49 L646.05 152.51 L646.40 152.53 L646.75 152.54 L647.10 152.55 L647.45 152.56 L647.80 152.56 L648.15 152.56 L648.50 152.55 L648.85 152.54 L649.20 152.53 L649.55 152.51 L649.90 152.49 L650.25 152.47 L650.60 152.45 L650.95 152.43 L651.30 152.42 L651.65 152.41 L652.00 152.41 L652.35 152.41 L652.70 152.41 L653.05 152.42 L653.40 152.43 L653.75 152.45 L654.10 152.47 L654.45 152.49 L654.80 152.51 L655.15 152.52 L655.50 152.54 L655.85 152.55 L656.20 152.56 L656.55 152.56 L656.90 152.56" stroke="#7878ba" stroke-width="3.1" stroke-linejoin="round" stroke-dasharray="4.2 4.2" opacity="0.92"/>
</g>
<g clip-path="url(#cb)" fill="none">
<line x1="110.20" y1="523.30" x2="656.90" y2="523.30" stroke="#000" stroke-width="2.76" stroke-dasharray="17.82 4.45 2.79 4.45"/>
<path d="M110.20 594.50 L110.55 586.89 L110.90 566.24 L111.25 535.81 L111.60 498.86 L111.95 458.65 L112.30 418.44 L112.65 381.49 L113.00 351.06 L113.35 330.41 L113.70 322.80 L114.05 326.05 L114.40 335.15 L114.75 349.13 L115.10 367.01 L115.45 387.81 L115.80 410.57 L116.15 434.30 L116.50 458.03 L116.85 480.79 L117.20 501.59 L117.55 519.47 L117.90 533.45 L118.25 542.55 L118.60 545.80 L118.95 541.79 L119.30 530.74 L119.65 514.10 L120.00 493.31 L120.35 469.82 L120.70 445.10 L121.05 420.58 L121.40 397.71 L121.75 377.96 L122.10 362.77 L122.45 353.58 L122.80 351.64 L123.15 354.22 L123.50 359.65 L123.85 367.42 L124.20 377.01 L124.55 387.92 L124.90 399.64 L125.25 411.65 L125.60 423.44 L125.95 434.50 L126.30 444.31 L126.65 452.37 L127.00 458.17 L127.35 461.18 L127.70 460.51 L128.05 455.33 L128.40 448.48 L128.75 443.12 L129.10 439.57 L129.45 436.26 L129.80 432.35 L130.15 427.66 L130.50 422.69 L130.85 417.99 L131.20 414.07 L131.55 411.35 L131.90 409.09 L132.25 407.10 L132.60 405.43 L132.95 404.11 L133.30 403.16 L133.65 402.33 L134.00 401.59 L134.35 401.00 L134.70 400.61 L135.05 400.52 L135.40 401.45 L135.75 403.58 L136.10 406.52 L136.45 409.91 L136.80 413.47 L137.15 418.24 L137.50 424.05 L137.85 430.20 L138.20 437.18 L138.55 446.75 L138.90 467.90 L139.25 488.22 L139.60 490.40 L139.95 486.74 L140.30 480.28 L140.65 471.62 L141.00 461.39 L141.35 450.19 L141.70 438.65 L142.05 427.36 L142.40 416.96 L142.75 408.04 L143.10 401.22 L143.45 397.12 L143.80 396.41 L144.15 400.33 L144.50 408.55 L144.85 420.29 L145.20 434.76 L145.55 451.16 L145.90 468.69 L146.25 486.56 L146.60 503.97 L146.95 520.14 L147.30 534.27 L147.65 545.56 L148.00 553.21 L148.35 556.45 L148.70 554.46 L149.05 547.47 L149.40 536.46 L149.75 522.38 L150.10 506.22 L150.45 488.95 L150.80 471.54 L151.15 454.97 L151.50 440.20 L151.85 428.21 L152.20 419.97 L152.55 416.46 L152.90 418.26 L153.25 424.65 L153.60 434.84 L153.95 448.01 L154.30 463.37 L154.65 480.10 L155.00 497.41 L155.35 514.48 L155.70 530.53 L156.05 544.73 L156.40 556.30 L156.75 564.42 L157.10 568.29 L157.45 567.18 L157.80 561.32 L158.15 551.61 L158.50 538.94 L158.85 524.21 L159.20 508.33 L159.55 492.18 L159.90 476.68 L160.25 462.73 L160.60 451.21 L160.95 443.04 L161.30 439.12 L161.65 439.91 L162.00 444.40 L162.35 451.81 L162.70 461.45 L163.05 472.60 L163.40 484.57 L163.75 496.63 L164.10 508.09 L164.45 518.23 L164.80 526.35 L165.15 531.75 L165.50 533.70 L165.85 532.64 L166.20 529.67 L166.55 525.12 L166.90 519.29 L167.25 512.50 L167.60 505.09 L167.95 497.35 L168.30 489.61 L168.65 482.20 L169.00 475.41 L169.35 469.58 L169.70 465.03 L170.05 462.06 L170.40 461.00 L170.75 461.34 L171.10 462.30 L171.45 463.77 L171.80 465.65 L172.15 467.82 L172.50 470.19 L172.85 472.64 L173.20 475.07 L173.55 477.38 L173.90 479.46 L174.25 481.20 L174.60 482.50 L174.95 483.30 L175.30 484.00 L175.65 484.67 L176.00 485.29 L176.35 485.84 L176.70 486.30 L177.05 486.66 L177.40 486.90 L177.75 487.00 L178.10 486.57 L178.45 485.09 L178.80 482.72 L179.15 479.66 L179.50 476.07 L179.85 472.14 L180.20 468.06 L180.55 464.01 L180.90 460.16 L181.25 456.71 L181.60 453.82 L181.95 451.69 L182.30 450.49 L182.65 450.49 L183.00 452.32 L183.35 455.82 L183.70 460.69 L184.05 466.59 L184.40 473.22 L184.75 480.26 L185.10 487.39 L185.45 494.29 L185.80 500.65 L186.15 506.14 L186.50 510.46 L186.85 513.29 L187.20 514.30 L187.55 512.80 L187.90 508.67 L188.25 502.44 L188.60 494.66 L188.95 485.87 L189.30 476.62 L189.65 467.45 L190.00 458.89 L190.35 451.50 L190.70 445.82 L191.05 442.38 L191.40 441.75 L191.75 444.53 L192.10 450.28 L192.45 458.37 L192.80 468.14 L193.15 478.93 L193.50 490.09 L193.85 500.97 L194.20 510.92 L194.55 519.29 L194.90 525.42 L195.25 528.66 L195.60 528.61 L195.95 526.22 L196.30 521.96 L196.65 516.19 L197.00 509.27 L197.35 501.58 L197.70 493.47 L198.05 485.31 L198.40 477.46 L198.75 470.29 L199.10 464.15 L199.45 459.42 L199.80 456.46 L200.15 455.63 L200.50 457.67 L200.85 462.44 L201.20 469.36 L201.55 477.85 L201.90 487.34 L202.25 497.24 L202.60 506.97 L202.95 515.96 L203.30 523.62 L203.65 529.39 L204.00 532.66 L204.35 533.03 L204.70 531.46 L205.05 528.45 L205.40 524.28 L205.75 519.23 L206.10 513.58 L206.45 507.61 L206.80 501.60 L207.15 495.84 L207.50 490.59 L207.85 486.14 L208.20 482.77 L208.55 480.75 L208.90 480.36 L209.25 481.43 L209.60 483.67 L209.95 486.85 L210.30 490.75 L210.65 495.13 L211.00 499.78 L211.35 504.46 L211.70 508.94 L212.05 513.00 L212.40 516.41 L212.75 518.94 L213.10 520.37 L213.45 520.58 L213.80 520.39 L214.15 520.00 L214.50 519.45 L214.85 518.74 L215.20 517.90 L215.55 516.95 L215.90 515.91 L216.25 514.79 L216.60 513.62 L216.95 512.42 L217.30 511.20 L217.65 509.99 L218.00 508.80 L218.35 507.66 L218.70 506.59 L219.05 505.59 L219.40 504.70 L219.75 503.94 L220.10 503.32 L220.45 502.86 L220.80 502.58 L221.15 502.51 L221.50 502.97 L221.85 504.04 L222.20 505.61 L222.55 507.55 L222.90 509.74 L223.25 512.05 L223.60 514.36 L223.95 516.55 L224.30 518.49 L224.65 520.06 L225.00 521.13 L225.35 521.59 L225.70 521.15 L226.05 519.60 L226.40 517.14 L226.75 513.95 L227.10 510.24 L227.45 506.19 L227.80 502.00 L228.15 497.87 L228.50 493.99 L228.85 490.55 L229.20 487.75 L229.55 485.79 L229.90 484.85 L230.25 485.20 L230.60 486.98 L230.95 489.94 L231.30 493.82 L231.65 498.34 L232.00 503.25 L232.35 508.27 L232.70 513.13 L233.05 517.58 L233.40 521.34 L233.75 524.15 L234.10 525.74 L234.45 525.85 L234.80 524.40 L235.15 521.63 L235.50 517.82 L235.85 513.23 L236.20 508.12 L236.55 502.76 L236.90 497.43 L237.25 492.38 L237.60 487.88 L237.95 484.20 L238.30 481.61 L238.65 480.37 L239.00 480.77 L239.35 482.84 L239.70 486.27 L240.05 490.73 L240.40 495.91 L240.75 501.49 L241.10 507.13 L241.45 512.51 L241.80 517.33 L242.15 521.24 L242.50 523.93 L242.85 525.08 L243.20 524.46 L243.55 522.26 L243.90 518.81 L244.25 514.41 L244.60 509.39 L244.95 504.05 L245.30 498.71 L245.65 493.69 L246.00 489.29 L246.35 485.84 L246.70 483.64 L247.05 483.01 L247.40 483.68 L247.75 485.25 L248.10 487.56 L248.45 490.44 L248.80 493.73 L249.15 497.26 L249.50 500.86 L249.85 504.36 L250.20 507.60 L250.55 510.41 L250.90 512.63 L251.25 514.08 L251.60 514.60 L251.95 514.30 L252.30 513.48 L252.65 512.22 L253.00 510.62 L253.35 508.78 L253.70 506.77 L254.05 504.71 L254.40 502.68 L254.75 500.78 L255.10 499.10 L255.45 497.74 L255.80 496.78 L256.15 496.33 L256.50 496.43 L256.85 497.00 L257.20 497.93 L257.55 499.13 L257.90 500.51 L258.25 501.97 L258.60 503.42 L258.95 504.76 L259.30 505.91 L259.65 506.75 L260.00 507.28 L260.35 507.76 L260.70 508.22 L261.05 508.67 L261.40 509.09 L261.75 509.48 L262.10 509.84 L262.45 510.16 L262.80 510.43 L263.15 510.66 L263.50 510.83 L263.85 510.94 L264.20 511.00 L264.55 510.92 L264.90 510.55 L265.25 509.95 L265.60 509.17 L265.95 508.26 L266.30 507.29 L266.65 506.31 L267.00 505.38 L267.35 504.56 L267.70 503.90 L268.05 503.46 L268.40 503.30 L268.75 503.63 L269.10 504.56 L269.45 505.98 L269.80 507.77 L270.15 509.85 L270.50 512.09 L270.85 514.39 L271.20 516.64 L271.55 518.74 L271.90 520.59 L272.25 522.06 L272.60 523.07 L272.95 523.49 L273.30 523.11 L273.65 521.79 L274.00 519.73 L274.35 517.14 L274.70 514.23 L275.05 511.20 L275.40 508.26 L275.75 505.61 L276.10 503.46 L276.45 502.03 L276.80 501.50 L277.15 501.92 L277.50 503.08 L277.85 504.87 L278.20 507.15 L278.55 509.80 L278.90 512.69 L279.25 515.68 L279.60 518.66 L279.95 521.49 L280.30 524.04 L280.65 526.19 L281.00 527.82 L281.35 528.78 L281.70 528.97 L282.05 528.36 L282.40 527.09 L282.75 525.27 L283.10 523.02 L283.45 520.46 L283.80 517.71 L284.15 514.89 L284.50 512.13 L284.85 509.53 L285.20 507.23 L285.55 505.34 L285.90 503.98 L286.25 503.27 L286.60 503.35 L286.95 504.25 L287.30 505.83 L287.65 507.93 L288.00 510.40 L288.35 513.07 L288.70 515.79 L289.05 518.39 L289.40 520.72 L289.75 522.62 L290.10 523.93 L290.45 524.49 L290.80 524.18 L291.15 523.10 L291.50 521.42 L291.85 519.30 L292.20 516.92 L292.55 514.44 L292.90 512.03 L293.25 509.86 L293.60 508.11 L293.95 506.93 L294.30 506.50 L294.65 506.64 L295.00 507.02 L295.35 507.61 L295.70 508.36 L296.05 509.24 L296.40 510.20 L296.75 511.20 L297.10 512.20 L297.45 513.16 L297.80 514.04 L298.15 514.79 L298.50 515.38 L298.85 515.76 L299.20 515.90 L299.55 515.80 L299.90 515.50 L300.25 515.06 L300.60 514.49 L300.95 513.84 L301.30 513.12 L301.65 512.39 L302.00 511.66 L302.35 510.98 L302.70 510.37 L303.05 509.87 L303.40 509.51 L303.75 509.32 L304.10 509.30 L304.45 509.31 L304.80 509.31 L305.15 509.33 L305.50 509.34 L305.85 509.36 L306.20 509.39 L306.55 509.42 L306.90 509.45 L307.25 509.48 L307.60 509.57 L307.95 509.91 L308.30 510.46 L308.65 511.16 L309.00 511.95 L309.35 512.76 L309.70 513.53 L310.05 514.20 L310.40 514.70 L310.75 514.97 L311.10 514.95 L311.45 514.64 L311.80 514.10 L312.15 513.37 L312.50 512.49 L312.85 511.52 L313.20 510.50 L313.55 509.48 L313.90 508.51 L314.25 507.63 L314.60 506.90 L314.95 506.36 L315.30 506.05 L315.65 506.04 L316.00 506.45 L316.35 507.22 L316.70 508.28 L317.05 509.56 L317.40 511.00 L317.75 512.50 L318.10 514.00 L318.45 515.44 L318.80 516.72 L319.15 517.78 L319.50 518.55 L319.85 518.96 L320.20 518.93 L320.55 518.50 L320.90 517.73 L321.25 516.71 L321.60 515.50 L321.95 514.18 L322.30 512.81 L322.65 511.48 L323.00 510.25 L323.35 509.20 L323.70 508.39 L324.05 507.91 L324.40 507.82 L324.75 508.18 L325.10 508.93 L325.45 510.01 L325.80 511.34 L326.15 512.84 L326.50 514.45 L326.85 516.09 L327.20 517.68 L327.55 519.17 L327.90 520.46 L328.25 521.50 L328.60 522.20 L328.95 522.50 L329.30 522.36 L329.65 521.87 L330.00 521.09 L330.35 520.10 L330.70 518.94 L331.05 517.70 L331.40 516.42 L331.75 515.19 L332.10 514.05 L332.45 513.08 L332.80 512.34 L333.15 511.90 L333.50 511.82 L333.85 512.13 L334.20 512.77 L334.55 513.69 L334.90 514.80 L335.25 516.04 L335.60 517.34 L335.95 518.63 L336.30 519.84 L336.65 520.90 L337.00 521.74 L337.35 522.30 L337.70 522.50 L338.05 522.38 L338.40 522.04 L338.75 521.53 L339.10 520.89 L339.45 520.15 L339.80 519.35 L340.15 518.53 L340.50 517.74 L340.85 517.01 L341.20 516.38 L341.55 515.90 L341.90 515.59 L342.25 515.50 L342.60 515.59 L342.95 515.78 L343.30 516.07 L343.65 516.43 L344.00 516.83 L344.35 517.25 L344.70 517.67 L345.05 518.07 L345.40 518.43 L345.75 518.72 L346.10 518.91 L346.45 519.00 L346.80 518.98 L347.15 518.93 L347.50 518.84 L347.85 518.72 L348.20 518.56 L348.55 518.39 L348.90 518.19 L349.25 517.97 L349.60 517.74 L349.95 517.49 L350.30 517.24 L350.65 516.99 L351.00 516.73 L351.35 516.48 L351.70 516.23 L352.05 516.00 L352.40 515.77 L352.75 515.57 L353.10 515.38 L353.45 515.22 L353.80 515.09 L354.15 514.99 L354.50 514.93 L354.85 514.90 L355.20 514.98 L355.55 515.24 L355.90 515.65 L356.25 516.17 L356.60 516.76 L356.95 517.38 L357.30 517.98 L357.65 518.54 L358.00 519.00 L358.35 519.33 L358.70 519.49 L359.05 519.44 L359.40 519.16 L359.75 518.69 L360.10 518.08 L360.45 517.35 L360.80 516.54 L361.15 515.70 L361.50 514.86 L361.85 514.05 L362.20 513.32 L362.55 512.71 L362.90 512.24 L363.25 511.96 L363.60 511.91 L363.95 512.12 L364.30 512.55 L364.65 513.15 L365.00 513.89 L365.35 514.71 L365.70 515.57 L366.05 516.43 L366.40 517.23 L366.75 517.94 L367.10 518.50 L367.45 518.87 L367.80 519.00 L368.15 518.85 L368.50 518.45 L368.85 517.84 L369.20 517.08 L369.55 516.22 L369.90 515.32 L370.25 514.42 L370.60 513.59 L370.95 512.87 L371.30 512.31 L371.65 511.98 L372.00 511.91 L372.35 512.17 L372.70 512.71 L373.05 513.47 L373.40 514.39 L373.75 515.40 L374.10 516.45 L374.45 517.47 L374.80 518.40 L375.15 519.19 L375.50 519.76 L375.85 520.07 L376.20 520.06 L376.55 519.80 L376.90 519.35 L377.25 518.75 L377.60 518.06 L377.95 517.31 L378.30 516.55 L378.65 515.84 L379.00 515.21 L379.35 514.71 L379.70 514.39 L380.05 514.30 L380.40 514.40 L380.75 514.62 L381.10 514.95 L381.45 515.37 L381.80 515.84 L382.15 516.35 L382.50 516.87 L382.85 517.39 L383.20 517.87 L383.55 518.29 L383.90 518.64 L384.25 518.88 L384.60 518.99 L384.95 519.00 L385.30 518.98 L385.65 518.96 L386.00 518.93 L386.35 518.90 L386.70 518.86 L387.05 518.81 L387.40 518.76 L387.75 518.71 L388.10 518.66 L388.45 518.62 L388.80 518.57 L389.15 518.52 L389.50 518.49 L389.85 518.45 L390.20 518.43 L390.55 518.41 L390.90 518.40 L391.25 518.41 L391.60 518.46 L391.95 518.54 L392.30 518.65 L392.65 518.78 L393.00 518.93 L393.35 519.09 L393.70 519.25 L394.05 519.41 L394.40 519.57 L394.75 519.72 L395.10 519.85 L395.45 519.96 L395.80 520.04 L396.15 520.09 L396.50 520.10 L396.85 520.06 L397.20 519.99 L397.55 519.89 L397.90 519.76 L398.25 519.61 L398.60 519.44 L398.95 519.27 L399.30 519.10 L399.65 518.94 L400.00 518.78 L400.35 518.65 L400.70 518.54 L401.05 518.45 L401.40 518.41 L401.75 518.41 L402.10 518.55 L402.45 518.80 L402.80 519.14 L403.15 519.55 L403.50 520.00 L403.85 520.46 L404.20 520.91 L404.55 521.31 L404.90 521.64 L405.25 521.88 L405.60 521.99 L405.95 521.97 L406.30 521.81 L406.65 521.55 L407.00 521.21 L407.35 520.81 L407.70 520.37 L408.05 519.90 L408.40 519.43 L408.75 518.99 L409.10 518.59 L409.45 518.25 L409.80 517.99 L410.15 517.83 L410.50 517.81 L410.85 517.91 L411.20 518.12 L411.55 518.42 L411.90 518.79 L412.25 519.21 L412.60 519.65 L412.95 520.11 L413.30 520.56 L413.65 520.97 L414.00 521.33 L414.35 521.62 L414.70 521.82 L415.05 521.90 L415.40 521.83 L415.75 521.58 L416.10 521.20 L416.45 520.71 L416.80 520.15 L417.15 519.55 L417.50 518.95 L417.85 518.39 L418.20 517.90 L418.55 517.52 L418.90 517.27 L419.25 517.20 L419.60 517.26 L419.95 517.41 L420.30 517.62 L420.65 517.88 L421.00 518.18 L421.35 518.51 L421.70 518.84 L422.05 519.16 L422.40 519.46 L422.75 519.72 L423.10 519.92 L423.45 520.05 L423.80 520.10 L424.15 520.05 L424.50 519.93 L424.85 519.74 L425.20 519.50 L425.55 519.23 L425.90 518.95 L426.25 518.67 L426.60 518.40 L426.95 518.16 L427.30 517.97 L427.65 517.85 L428.00 517.80 L428.35 517.82 L428.70 517.88 L429.05 517.97 L429.40 518.08 L429.75 518.21 L430.10 518.34 L430.45 518.47 L430.80 518.58 L431.15 518.68 L431.50 518.76 L431.85 518.80 L432.20 518.79 L432.55 518.75 L432.90 518.68 L433.25 518.59 L433.60 518.48 L433.95 518.37 L434.30 518.25 L434.65 518.14 L435.00 518.04 L435.35 517.96 L435.70 517.91 L436.05 517.90 L436.40 517.92 L436.75 517.95 L437.10 518.01 L437.45 518.08 L437.80 518.17 L438.15 518.26 L438.50 518.35 L438.85 518.44 L439.20 518.53 L439.55 518.62 L439.90 518.69 L440.25 518.75 L440.60 518.78 L440.95 518.80 L441.30 518.80 L441.65 518.79 L442.00 518.77 L442.35 518.76 L442.70 518.73 L443.05 518.70 L443.40 518.67 L443.75 518.63 L444.10 518.59 L444.45 518.55 L444.80 518.51 L445.15 518.46 L445.50 518.42 L445.85 518.37 L446.20 518.32 L446.55 518.28 L446.90 518.23 L447.25 518.18 L447.60 518.14 L447.95 518.10 L448.30 518.06 L448.65 518.03 L449.00 517.99 L449.35 517.97 L449.70 517.94 L450.05 517.92 L450.40 517.91 L450.75 517.90 L451.10 517.90 L451.45 517.92 L451.80 517.97 L452.15 518.03 L452.50 518.12 L452.85 518.22 L453.20 518.35 L453.55 518.48 L453.90 518.63 L454.25 518.79 L454.60 518.96 L454.95 519.14 L455.30 519.32 L455.65 519.51 L456.00 519.70 L456.35 519.89 L456.70 520.08 L457.05 520.26 L457.40 520.44 L457.75 520.61 L458.10 520.77 L458.45 520.92 L458.80 521.05 L459.15 521.18 L459.50 521.28 L459.85 521.37 L460.20 521.43 L460.55 521.48 L460.90 521.50 L461.25 521.50 L461.60 521.47 L461.95 521.43 L462.30 521.38 L462.65 521.31 L463.00 521.24 L463.35 521.15 L463.70 521.05 L464.05 520.95 L464.40 520.85 L464.75 520.75 L465.10 520.64 L465.45 520.54 L465.80 520.44 L466.15 520.34 L466.50 520.25 L466.85 520.17 L467.20 520.11 L467.55 520.05 L467.90 520.01 L468.25 519.98 L468.60 519.95 L468.95 519.93 L469.30 519.90 L469.65 519.88 L470.00 519.86 L470.35 519.84 L470.70 519.82 L471.05 519.80 L471.40 519.78 L471.75 519.76 L472.10 519.75 L472.45 519.73 L472.80 519.71 L473.15 519.70 L473.50 519.68 L473.85 519.67 L474.20 519.66 L474.55 519.64 L474.90 519.63 L475.25 519.62 L475.60 519.61 L475.95 519.59 L476.30 519.58 L476.65 519.57 L477.00 519.56 L477.35 519.55 L477.70 519.53 L478.05 519.52 L478.40 519.51 L478.75 519.50 L479.10 519.48 L479.45 519.47 L479.80 519.45 L480.15 519.44 L480.50 519.42 L480.85 519.41 L481.20 519.39 L481.55 519.37 L481.90 519.35 L482.25 519.33 L482.60 519.31 L482.95 519.29 L483.30 519.27 L483.65 519.25 L484.00 519.23 L484.35 519.21 L484.70 519.18 L485.05 519.16 L485.40 519.14 L485.75 519.11 L486.10 519.09 L486.45 519.07 L486.80 519.04 L487.15 519.02 L487.50 519.00 L487.85 518.98 L488.20 518.95 L488.55 518.93 L488.90 518.91 L489.25 518.89 L489.60 518.87 L489.95 518.85 L490.30 518.83 L490.65 518.82 L491.00 518.80 L491.35 518.78 L491.70 518.77 L492.05 518.76 L492.40 518.74 L492.75 518.73 L493.10 518.72 L493.45 518.72 L493.80 518.71 L494.15 518.71 L494.50 518.70 L494.85 518.70 L495.20 518.70 L495.55 518.70 L495.90 518.71 L496.25 518.72 L496.60 518.73 L496.95 518.75 L497.30 518.77 L497.65 518.79 L498.00 518.81 L498.35 518.83 L498.70 518.86 L499.05 518.89 L499.40 518.92 L499.75 518.96 L500.10 518.99 L500.45 519.03 L500.80 519.06 L501.15 519.10 L501.50 519.14 L501.85 519.18 L502.20 519.22 L502.55 519.26 L502.90 519.31 L503.25 519.35 L503.60 519.39 L503.95 519.44 L504.30 519.48 L504.65 519.52 L505.00 519.57 L505.35 519.61 L505.70 519.65 L506.05 519.69 L506.40 519.73 L506.75 519.77 L507.10 519.81 L507.45 519.85 L507.80 519.89 L508.15 519.92 L508.50 519.95 L508.85 519.99 L509.20 520.02 L509.55 520.05 L509.90 520.08 L510.25 520.11 L510.60 520.14 L510.95 520.17 L511.30 520.20 L511.65 520.23 L512.00 520.26 L512.35 520.29 L512.70 520.31 L513.05 520.34 L513.40 520.37 L513.75 520.40 L514.10 520.43 L514.45 520.46 L514.80 520.49 L515.15 520.52 L515.50 520.54 L515.85 520.57 L516.20 520.60 L516.55 520.63 L516.90 520.66 L517.25 520.69 L517.60 520.71 L517.95 520.74 L518.30 520.77 L518.65 520.80 L519.00 520.82 L519.35 520.85 L519.70 520.88 L520.05 520.92 L520.40 521.04 L520.75 521.16 L521.10 521.26 L521.45 521.34 L521.80 521.39 L522.15 521.41 L522.50 521.40 L522.85 521.36 L523.20 521.29 L523.55 521.20 L523.90 521.10 L524.25 520.98 L524.60 520.86 L524.95 520.75 L525.30 520.65 L525.65 520.57 L526.00 520.51 L526.35 520.48 L526.70 520.47 L527.05 520.50 L527.40 520.56 L527.75 520.63 L528.10 520.73 L528.45 520.84 L528.80 520.96 L529.15 521.08 L529.50 521.18 L529.85 521.28 L530.20 521.35 L530.55 521.40 L530.90 521.43 L531.25 521.42 L531.60 521.39 L531.95 521.33 L532.30 521.25 L532.65 521.15 L533.00 521.05 L533.35 520.94 L533.70 520.83 L534.05 520.74 L534.40 520.66 L534.75 520.60 L535.10 520.56 L535.45 520.56 L535.80 520.58 L536.15 520.62 L536.50 520.69 L536.85 520.78 L537.20 520.88 L537.55 520.99 L537.90 521.10 L538.25 521.20 L538.60 521.29 L538.95 521.36 L539.30 521.41 L539.65 521.44 L540.00 521.44 L540.35 521.41 L540.70 521.36 L541.05 521.29 L541.40 521.20 L541.75 521.10 L542.10 521.00 L542.45 520.90 L542.80 520.81 L543.15 520.73 L543.50 520.67 L543.85 520.64 L544.20 520.63 L544.55 520.64 L544.90 520.68 L545.25 520.74 L545.60 520.82 L545.95 520.92 L546.30 521.02 L546.65 521.12 L547.00 521.21 L547.35 521.30 L547.70 521.37 L548.05 521.42 L548.40 521.44 L548.75 521.45 L549.10 521.42 L549.45 521.38 L549.80 521.31 L550.15 521.23 L550.50 521.14 L550.85 521.05 L551.20 520.95 L551.55 520.87 L551.90 520.79 L552.25 520.74 L552.60 520.70 L552.95 520.69 L553.30 520.70 L553.65 520.73 L554.00 520.79 L554.35 520.86 L554.70 520.94 L555.05 521.04 L555.40 521.13 L555.75 521.22 L556.10 521.30 L556.45 521.37 L556.80 521.42 L557.15 521.44 L557.50 521.45 L557.85 521.43 L558.20 521.39 L558.55 521.33 L558.90 521.26 L559.25 521.18 L559.60 521.09 L559.95 521.00 L560.30 520.92 L560.65 520.85 L561.00 520.79 L561.35 520.76 L561.70 520.74 L562.05 520.75 L562.40 520.78 L562.75 520.82 L563.10 520.89 L563.45 520.97 L563.80 521.05 L564.15 521.14 L564.50 521.22 L564.85 521.30 L565.20 521.36 L565.55 521.41 L565.90 521.44 L566.25 521.45 L566.60 521.43 L566.95 521.40 L567.30 521.35 L567.65 521.28 L568.00 521.20 L568.35 521.12 L568.70 521.04 L569.05 520.96 L569.40 520.90 L569.75 520.84 L570.10 520.81 L570.45 520.79 L570.80 520.79 L571.15 520.81 L571.50 520.86 L571.85 520.91 L572.20 520.98 L572.55 521.06 L572.90 521.14 L573.25 521.22 L573.60 521.29 L573.95 521.36 L574.30 521.40 L574.65 521.43 L575.00 521.44 L575.35 521.43 L575.70 521.40 L576.05 521.36 L576.40 521.30 L576.75 521.23 L577.10 521.15 L577.45 521.07 L577.80 521.00 L578.15 520.94 L578.50 520.88 L578.85 520.85 L579.20 520.83 L579.55 520.83 L579.90 520.85 L580.25 520.88 L580.60 520.94 L580.95 521.00 L581.30 521.07 L581.65 521.15 L582.00 521.22 L582.35 521.29 L582.70 521.35 L583.05 521.39 L583.40 521.42 L583.75 521.43 L584.10 521.43 L584.45 521.40 L584.80 521.36 L585.15 521.31 L585.50 521.24 L585.85 521.17 L586.20 521.10 L586.55 521.03 L586.90 520.97 L587.25 520.92 L587.60 520.89 L587.95 520.87 L588.30 520.86 L588.65 520.88 L589.00 520.91 L589.35 520.96 L589.70 521.01 L590.05 521.08 L590.40 521.15 L590.75 521.22 L591.10 521.28 L591.45 521.34 L591.80 521.38 L592.15 521.41 L592.50 521.42 L592.85 521.42 L593.20 521.40 L593.55 521.36 L593.90 521.31 L594.25 521.26 L594.60 521.19 L594.95 521.13 L595.30 521.06 L595.65 521.00 L596.00 520.95 L596.35 520.92 L596.70 520.90 L597.05 520.89 L597.40 520.90 L597.75 520.93 L598.10 520.97 L598.45 521.03 L598.80 521.09 L599.15 521.15 L599.50 521.21 L599.85 521.27 L600.20 521.33 L600.55 521.37 L600.90 521.40 L601.25 521.41 L601.60 521.41 L601.95 521.39 L602.30 521.36 L602.65 521.32 L603.00 521.27 L603.35 521.21 L603.70 521.15 L604.05 521.08 L604.40 521.03 L604.75 520.98 L605.10 520.95 L605.45 520.93 L605.80 520.92 L606.15 520.93 L606.50 520.95 L606.85 520.99 L607.20 521.04 L607.55 521.09 L607.90 521.15 L608.25 521.21 L608.60 521.27 L608.95 521.32 L609.30 521.36 L609.65 521.39 L610.00 521.40 L610.35 521.40 L610.70 521.39 L611.05 521.36 L611.40 521.32 L611.75 521.27 L612.10 521.22 L612.45 521.16 L612.80 521.11 L613.15 521.05 L613.50 521.01 L613.85 520.97 L614.20 520.95 L614.55 520.94 L614.90 520.95 L615.25 520.97 L615.60 521.00 L615.95 521.04 L616.30 521.09 L616.65 521.15 L617.00 521.21 L617.35 521.26 L617.70 521.31 L618.05 521.35 L618.40 521.37 L618.75 521.39 L619.10 521.39 L619.45 521.38 L619.80 521.36 L620.15 521.32 L620.50 521.28 L620.85 521.23 L621.20 521.18 L621.55 521.12 L621.90 521.07 L622.25 521.03 L622.60 521.00 L622.95 520.98 L623.30 520.97 L623.65 520.97 L624.00 520.99 L624.35 521.01 L624.70 521.05 L625.05 521.10 L625.40 521.15 L625.75 521.20 L626.10 521.25 L626.45 521.30 L626.80 521.33 L627.15 521.36 L627.50 521.38 L627.85 521.38 L628.20 521.37 L628.55 521.35 L628.90 521.32 L629.25 521.28 L629.60 521.24 L629.95 521.19 L630.30 521.14 L630.65 521.09 L631.00 521.05 L631.35 521.02 L631.70 521.00 L632.05 520.99 L632.40 520.99 L632.75 521.00 L633.10 521.03 L633.45 521.06 L633.80 521.10 L634.15 521.15 L634.50 521.20 L634.85 521.24 L635.20 521.29 L635.55 521.32 L635.90 521.35 L636.25 521.37 L636.60 521.37 L636.95 521.37 L637.30 521.35 L637.65 521.32 L638.00 521.29 L638.35 521.24 L638.70 521.20 L639.05 521.15 L639.40 521.11 L639.75 521.07 L640.10 521.04 L640.45 521.02 L640.80 521.00 L641.15 521.00 L641.50 521.02 L641.85 521.04 L642.20 521.07 L642.55 521.11 L642.90 521.15 L643.25 521.19 L643.60 521.24 L643.95 521.28 L644.30 521.31 L644.65 521.34 L645.00 521.36 L645.35 521.36 L645.70 521.36 L646.05 521.34 L646.40 521.32 L646.75 521.29 L647.10 521.25 L647.45 521.21 L647.80 521.16 L648.15 521.12 L648.50 521.09 L648.85 521.05 L649.20 521.03 L649.55 521.02 L649.90 521.02 L650.25 521.03 L650.60 521.05 L650.95 521.07 L651.30 521.11 L651.65 521.15 L652.00 521.19 L652.35 521.23 L652.70 521.27 L653.05 521.30 L653.40 521.33 L653.75 521.35 L654.10 521.35 L654.45 521.35 L654.80 521.34 L655.15 521.32 L655.50 521.29 L655.85 521.25 L656.20 521.21 L656.55 521.17 L656.90 521.13" stroke="#0000ff" stroke-width="2.3" stroke-linejoin="round" stroke-linecap="square"/>
<path d="M110.20 594.50 L110.55 586.89 L110.90 566.24 L111.25 535.81 L111.60 498.86 L111.95 458.65 L112.30 418.44 L112.65 381.49 L113.00 351.06 L113.35 330.41 L113.70 322.80 L114.05 326.05 L114.40 335.15 L114.75 349.13 L115.10 367.01 L115.45 387.81 L115.80 410.57 L116.15 434.30 L116.50 458.03 L116.85 480.79 L117.20 501.59 L117.55 519.47 L117.90 533.45 L118.25 542.55 L118.60 545.80 L118.95 541.79 L119.30 530.74 L119.65 514.10 L120.00 493.31 L120.35 469.82 L120.70 445.10 L121.05 420.58 L121.40 397.71 L121.75 377.96 L122.10 362.77 L122.45 353.58 L122.80 351.64 L123.15 354.22 L123.50 359.65 L123.85 367.42 L124.20 377.01 L124.55 387.92 L124.90 399.64 L125.25 411.65 L125.60 423.44 L125.95 434.50 L126.30 444.31 L126.65 452.37 L127.00 458.17 L127.35 461.18 L127.70 460.51 L128.05 455.33 L128.40 448.48 L128.75 443.12 L129.10 439.57 L129.45 436.26 L129.80 432.35 L130.15 427.66 L130.50 422.69 L130.85 417.99 L131.20 414.07 L131.55 411.35 L131.90 409.09 L132.25 407.10 L132.60 405.43 L132.95 404.11 L133.30 403.16 L133.65 402.33 L134.00 401.59 L134.35 401.00 L134.70 400.61 L135.05 400.52 L135.40 401.45 L135.75 403.58 L136.10 406.52 L136.45 409.91 L136.80 413.47 L137.15 418.24 L137.50 424.05 L137.85 430.20 L138.20 437.18 L138.55 446.75 L138.90 467.90 L139.25 488.22 L139.60 490.40 L139.95 486.74 L140.30 480.28 L140.65 471.62 L141.00 461.39 L141.35 450.19 L141.70 438.65 L142.05 427.36 L142.40 416.96 L142.75 408.04 L143.10 401.22 L143.45 397.12 L143.80 396.41 L144.15 400.33 L144.50 408.55 L144.85 420.29 L145.20 434.76 L145.55 451.16 L145.90 468.69 L146.25 486.56 L146.60 503.97 L146.95 520.14 L147.30 534.27 L147.65 545.56 L148.00 553.21 L148.35 556.45 L148.70 554.46 L149.05 547.47 L149.40 536.46 L149.75 522.38 L150.10 506.22 L150.45 488.95 L150.80 471.54 L151.15 454.97 L151.50 440.20 L151.85 428.21 L152.20 419.97 L152.55 416.46 L152.90 418.26 L153.25 424.65 L153.60 434.84 L153.95 448.01 L154.30 463.37 L154.65 480.10 L155.00 497.41 L155.35 514.48 L155.70 530.53 L156.05 544.73 L156.40 556.30 L156.75 564.42 L157.10 568.29 L157.45 567.18 L157.80 561.32 L158.15 551.61 L158.50 538.94 L158.85 524.21 L159.20 508.33 L159.55 492.18 L159.90 476.68 L160.25 462.73 L160.60 451.21 L160.95 443.04 L161.30 439.12 L161.65 439.91 L162.00 444.40 L162.35 451.81 L162.70 461.45 L163.05 472.60 L163.40 484.57 L163.75 496.63 L164.10 508.09 L164.45 518.23 L164.80 526.35 L165.15 531.75 L165.50 533.70 L165.85 532.64 L166.20 529.67 L166.55 525.12 L166.90 519.29 L167.25 512.50 L167.60 505.09 L167.95 497.35 L168.30 489.61 L168.65 482.20 L169.00 475.41 L169.35 469.58 L169.70 465.03 L170.05 462.06 L170.40 461.00 L170.75 461.34 L171.10 462.30 L171.45 463.77 L171.80 465.65 L172.15 467.82 L172.50 470.19 L172.85 472.64 L173.20 475.07 L173.55 477.38 L173.90 479.46 L174.25 481.20 L174.60 482.50 L174.95 483.30 L175.30 484.00 L175.65 484.67 L176.00 485.29 L176.35 485.84 L176.70 486.30 L177.05 486.66 L177.40 486.90 L177.75 487.00 L178.10 486.57 L178.45 485.09 L178.80 482.72 L179.15 479.66 L179.50 476.07 L179.85 472.14 L180.20 468.06 L180.55 464.01 L180.90 460.16 L181.25 456.71 L181.60 453.82 L181.95 451.69 L182.30 450.49 L182.65 450.49 L183.00 452.32 L183.35 455.82 L183.70 460.69 L184.05 466.59 L184.40 473.22 L184.75 480.26 L185.10 487.39 L185.45 494.29 L185.80 500.65 L186.15 506.14 L186.50 510.46 L186.85 513.29 L187.20 514.30 L187.55 512.80 L187.90 508.67 L188.25 502.44 L188.60 494.66 L188.95 485.87 L189.30 476.62 L189.65 467.45 L190.00 458.89 L190.35 451.50 L190.70 445.82 L191.05 442.38 L191.40 441.75 L191.75 444.53 L192.10 450.28 L192.45 458.37 L192.80 468.14 L193.15 478.93 L193.50 490.09 L193.85 500.97 L194.20 510.92 L194.55 519.29 L194.90 525.42 L195.25 528.66 L195.60 528.61 L195.95 526.22 L196.30 521.96 L196.65 516.19 L197.00 509.27 L197.35 501.58 L197.70 493.47 L198.05 485.31 L198.40 477.46 L198.75 470.29 L199.10 464.15 L199.45 459.42 L199.80 456.46 L200.15 455.63 L200.50 457.67 L200.85 462.44 L201.20 469.36 L201.55 477.85 L201.90 487.34 L202.25 497.24 L202.60 506.97 L202.95 515.96 L203.30 523.62 L203.65 529.39 L204.00 532.66 L204.35 533.03 L204.70 531.46 L205.05 528.45 L205.40 524.28 L205.75 519.23 L206.10 513.58 L206.45 507.61 L206.80 501.60 L207.15 495.84 L207.50 490.59 L207.85 486.14 L208.20 482.77 L208.55 480.75 L208.90 480.36 L209.25 481.43 L209.60 483.67 L209.95 486.85 L210.30 490.75 L210.65 495.13 L211.00 499.78 L211.35 504.46 L211.70 508.94 L212.05 513.00 L212.40 516.41 L212.75 518.94 L213.10 520.37 L213.45 520.58 L213.80 520.39 L214.15 520.00 L214.50 519.45 L214.85 518.74 L215.20 517.90 L215.55 516.95 L215.90 515.91 L216.25 514.79 L216.60 513.62 L216.95 512.42 L217.30 511.20 L217.65 509.99 L218.00 508.80 L218.35 507.66 L218.70 506.59 L219.05 505.59 L219.40 504.70 L219.75 503.94 L220.10 503.32 L220.45 502.86 L220.80 502.58 L221.15 502.51 L221.50 502.97 L221.85 504.04 L222.20 505.61 L222.55 507.55 L222.90 509.74 L223.25 512.05 L223.60 514.36 L223.95 516.55 L224.30 518.49 L224.65 520.06 L225.00 521.13 L225.35 521.59 L225.70 521.15 L226.05 519.60 L226.40 517.14 L226.75 513.95 L227.10 510.24 L227.45 506.19 L227.80 502.00 L228.15 497.87 L228.50 493.99 L228.85 490.55 L229.20 487.75 L229.55 485.79 L229.90 484.85 L230.25 485.20 L230.60 486.98 L230.95 489.94 L231.30 493.82 L231.65 498.34 L232.00 503.25 L232.35 508.27 L232.70 513.13 L233.05 517.58 L233.40 521.34 L233.75 524.15 L234.10 525.74 L234.45 525.85 L234.80 524.40 L235.15 521.63 L235.50 517.82 L235.85 513.23 L236.20 508.12 L236.55 502.76 L236.90 497.43 L237.25 492.38 L237.60 487.88 L237.95 484.20 L238.30 481.61 L238.65 480.37 L239.00 480.77 L239.35 482.84 L239.70 486.27 L240.05 490.73 L240.40 495.91 L240.75 501.49 L241.10 507.13 L241.45 512.51 L241.80 517.33 L242.15 521.24 L242.50 523.93 L242.85 525.08 L243.20 524.46 L243.55 522.26 L243.90 518.81 L244.25 514.41 L244.60 509.39 L244.95 504.05 L245.30 498.71 L245.65 493.69 L246.00 489.29 L246.35 485.84 L246.70 483.64 L247.05 483.01 L247.40 483.68 L247.75 485.25 L248.10 487.56 L248.45 490.44 L248.80 493.73 L249.15 497.26 L249.50 500.86 L249.85 504.36 L250.20 507.60 L250.55 510.41 L250.90 512.63 L251.25 514.08 L251.60 514.60 L251.95 514.30 L252.30 513.48 L252.65 512.22 L253.00 510.62 L253.35 508.78 L253.70 506.77 L254.05 504.71 L254.40 502.68 L254.75 500.78 L255.10 499.10 L255.45 497.74 L255.80 496.78 L256.15 496.33 L256.50 496.43 L256.85 497.00 L257.20 497.93 L257.55 499.13 L257.90 500.51 L258.25 501.97 L258.60 503.42 L258.95 504.76 L259.30 505.91 L259.65 506.75 L260.00 507.28 L260.35 507.76 L260.70 508.22 L261.05 508.67 L261.40 509.09 L261.75 509.48 L262.10 509.84 L262.45 510.16 L262.80 510.43 L263.15 510.66 L263.50 510.83 L263.85 510.94 L264.20 511.00 L264.55 510.92 L264.90 510.55 L265.25 509.95 L265.60 509.17 L265.95 508.26 L266.30 507.29 L266.65 506.31 L267.00 505.38 L267.35 504.56 L267.70 503.90 L268.05 503.46 L268.40 503.30 L268.75 503.63 L269.10 504.56 L269.45 505.98 L269.80 507.77 L270.15 509.85 L270.50 512.09 L270.85 514.39 L271.20 516.64 L271.55 518.74 L271.90 520.59 L272.25 522.06 L272.60 523.07 L272.95 523.49 L273.30 523.11 L273.65 521.79 L274.00 519.73 L274.35 517.14 L274.70 514.23 L275.05 511.20 L275.40 508.26 L275.75 505.61 L276.10 503.46 L276.45 502.03 L276.80 501.50 L277.15 501.92 L277.50 503.08 L277.85 504.87 L278.20 507.15 L278.55 509.80 L278.90 512.69 L279.25 515.68 L279.60 518.66 L279.95 521.49 L280.30 524.04 L280.65 526.19 L281.00 527.82 L281.35 528.78 L281.70 528.97 L282.05 528.36 L282.40 527.09 L282.75 525.27 L283.10 523.02 L283.45 520.46 L283.80 517.71 L284.15 514.89 L284.50 512.13 L284.85 509.53 L285.20 507.23 L285.55 505.34 L285.90 503.98 L286.25 503.27 L286.60 503.35 L286.95 504.25 L287.30 505.83 L287.65 507.93 L288.00 510.40 L288.35 513.07 L288.70 515.79 L289.05 518.39 L289.40 520.72 L289.75 522.62 L290.10 523.93 L290.45 524.49 L290.80 524.18 L291.15 523.10 L291.50 521.42 L291.85 519.30 L292.20 516.92 L292.55 514.44 L292.90 512.03 L293.25 509.86 L293.60 508.11 L293.95 506.93 L294.30 506.50 L294.65 506.64 L295.00 507.02 L295.35 507.61 L295.70 508.36 L296.05 509.24 L296.40 510.20 L296.75 511.20 L297.10 512.20 L297.45 513.16 L297.80 514.04 L298.15 514.79 L298.50 515.38 L298.85 515.76 L299.20 515.90 L299.55 515.80 L299.90 515.50 L300.25 515.06 L300.60 514.49 L300.95 513.84 L301.30 513.12 L301.65 512.39 L302.00 511.66 L302.35 510.98 L302.70 510.37 L303.05 509.87 L303.40 509.51 L303.75 509.32 L304.10 509.30 L304.45 509.31 L304.80 509.31 L305.15 509.33 L305.50 509.34 L305.85 509.36 L306.20 509.39 L306.55 509.42 L306.90 509.45 L307.25 509.48 L307.60 509.57 L307.95 509.91 L308.30 510.46 L308.65 511.16 L309.00 511.95 L309.35 512.76 L309.70 513.53 L310.05 514.20 L310.40 514.70 L310.75 514.97 L311.10 514.95 L311.45 514.64 L311.80 514.10 L312.15 513.37 L312.50 512.49 L312.85 511.52 L313.20 510.50 L313.55 509.48 L313.90 508.51 L314.25 507.63 L314.60 506.90 L314.95 506.36 L315.30 506.05 L315.65 506.04 L316.00 506.45 L316.35 507.22 L316.70 508.28 L317.05 509.56 L317.40 511.00 L317.75 512.50 L318.10 514.00 L318.45 515.44 L318.80 516.72 L319.15 517.78 L319.50 518.55 L319.85 518.96 L320.20 518.93 L320.55 518.50 L320.90 517.73 L321.25 516.71 L321.60 515.50 L321.95 514.18 L322.30 512.81 L322.65 511.48 L323.00 510.25 L323.35 509.20 L323.70 508.39 L324.05 507.91 L324.40 507.82 L324.75 508.18 L325.10 508.93 L325.45 510.01 L325.80 511.34 L326.15 512.84 L326.50 514.45 L326.85 516.09 L327.20 517.68 L327.55 519.17 L327.90 520.46 L328.25 521.50 L328.60 522.20 L328.95 522.50 L329.30 522.36 L329.65 521.87 L330.00 521.09 L330.35 520.10 L330.70 518.94 L331.05 517.70 L331.40 516.42 L331.75 515.19 L332.10 514.05 L332.45 513.08 L332.80 512.34 L333.15 511.90 L333.50 511.82 L333.85 512.13 L334.20 512.77 L334.55 513.69 L334.90 514.80 L335.25 516.04 L335.60 517.34 L335.95 518.63 L336.30 519.84 L336.65 520.90 L337.00 521.74 L337.35 522.30 L337.70 522.50 L338.05 522.38 L338.40 522.04 L338.75 521.53 L339.10 520.89 L339.45 520.15 L339.80 519.35 L340.15 518.53 L340.50 517.74 L340.85 517.01 L341.20 516.38 L341.55 515.90 L341.90 515.59 L342.25 515.50 L342.60 515.59 L342.95 515.78 L343.30 516.07 L343.65 516.43 L344.00 516.83 L344.35 517.25 L344.70 517.67 L345.05 518.07 L345.40 518.43 L345.75 518.72 L346.10 518.91 L346.45 519.00 L346.80 518.98 L347.15 518.93 L347.50 518.84 L347.85 518.72 L348.20 518.56 L348.55 518.39 L348.90 518.19 L349.25 517.97 L349.60 517.74 L349.95 517.49 L350.30 517.24 L350.65 516.99 L351.00 516.73 L351.35 516.48 L351.70 516.23 L352.05 516.00 L352.40 515.77 L352.75 515.57 L353.10 515.38 L353.45 515.22 L353.80 515.09 L354.15 514.99 L354.50 514.93 L354.85 514.90 L355.20 514.98 L355.55 515.24 L355.90 515.65 L356.25 516.17 L356.60 516.76 L356.95 517.38 L357.30 517.98 L357.65 518.54 L358.00 519.00 L358.35 519.33 L358.70 519.49 L359.05 519.44 L359.40 519.16 L359.75 518.69 L360.10 518.08 L360.45 517.35 L360.80 516.54 L361.15 515.70 L361.50 514.86 L361.85 514.05 L362.20 513.32 L362.55 512.71 L362.90 512.24 L363.25 511.96 L363.60 511.91 L363.95 512.12 L364.30 512.55 L364.65 513.15 L365.00 513.89 L365.35 514.71 L365.70 515.57 L366.05 516.43 L366.40 517.23 L366.75 517.94 L367.10 518.50 L367.45 518.87 L367.80 519.00 L368.15 518.85 L368.50 518.45 L368.85 517.84 L369.20 517.08 L369.55 516.22 L369.90 515.32 L370.25 514.42 L370.60 513.59 L370.95 512.87 L371.30 512.31 L371.65 511.98 L372.00 511.91 L372.35 512.17 L372.70 512.71 L373.05 513.47 L373.40 514.39 L373.75 515.40 L374.10 516.45 L374.45 517.47 L374.80 518.40 L375.15 519.19 L375.50 519.76 L375.85 520.07 L376.20 520.06 L376.55 519.80 L376.90 519.35 L377.25 518.75 L377.60 518.06 L377.95 517.31 L378.30 516.55 L378.65 515.84 L379.00 515.21 L379.35 514.71 L379.70 514.39 L380.05 514.30 L380.40 514.40 L380.75 514.62 L381.10 514.95 L381.45 515.37 L381.80 515.84 L382.15 516.35 L382.50 516.87 L382.85 517.39 L383.20 517.87 L383.55 518.29 L383.90 518.64 L384.25 518.88 L384.60 518.99 L384.95 519.00 L385.30 518.98 L385.65 518.96 L386.00 518.93 L386.35 518.90 L386.70 518.86 L387.05 518.81 L387.40 518.76 L387.75 518.71 L388.10 518.66 L388.45 518.62 L388.80 518.57 L389.15 518.52 L389.50 518.49 L389.85 518.45 L390.20 518.43 L390.55 518.41 L390.90 518.40 L391.25 518.41 L391.60 518.46 L391.95 518.54 L392.30 518.65 L392.65 518.78 L393.00 518.93 L393.35 519.09 L393.70 519.25 L394.05 519.41 L394.40 519.57 L394.75 519.72 L395.10 519.85 L395.45 519.96 L395.80 520.04 L396.15 520.09 L396.50 520.10 L396.85 520.06 L397.20 519.99 L397.55 519.89 L397.90 519.76 L398.25 519.61 L398.60 519.44 L398.95 519.27 L399.30 519.10 L399.65 518.94 L400.00 518.78 L400.35 518.65 L400.70 518.54 L401.05 518.45 L401.40 518.41 L401.75 518.41 L402.10 518.55 L402.45 518.80 L402.80 519.14 L403.15 519.55 L403.50 520.00 L403.85 520.46 L404.20 520.91 L404.55 521.31 L404.90 521.64 L405.25 521.88 L405.60 521.99 L405.95 521.97 L406.30 521.81 L406.65 521.55 L407.00 521.21 L407.35 520.81 L407.70 520.37 L408.05 519.90 L408.40 519.43 L408.75 518.99 L409.10 518.59 L409.45 518.25 L409.80 517.99 L410.15 517.83 L410.50 517.81 L410.85 517.91 L411.20 518.12 L411.55 518.42 L411.90 518.79 L412.25 519.21 L412.60 519.65 L412.95 520.11 L413.30 520.56 L413.65 520.97 L414.00 521.33 L414.35 521.62 L414.70 521.82 L415.05 521.90 L415.40 521.83 L415.75 521.58 L416.10 521.20 L416.45 520.71 L416.80 520.15 L417.15 519.55 L417.50 518.95 L417.85 518.39 L418.20 517.90 L418.55 517.52 L418.90 517.27 L419.25 517.20 L419.60 517.26 L419.95 517.41 L420.30 517.62 L420.65 517.88 L421.00 518.18 L421.35 518.51 L421.70 518.84 L422.05 519.16 L422.40 519.46 L422.75 519.72 L423.10 519.92 L423.45 520.05 L423.80 520.10 L424.15 520.05 L424.50 519.93 L424.85 519.74 L425.20 519.50 L425.55 519.23 L425.90 518.95 L426.25 518.67 L426.60 518.40 L426.95 518.16 L427.30 517.97 L427.65 517.85 L428.00 517.80 L428.35 517.82 L428.70 517.88 L429.05 517.97 L429.40 518.08 L429.75 518.21 L430.10 518.34 L430.45 518.47 L430.80 518.58 L431.15 518.68 L431.50 518.76 L431.85 518.80 L432.20 518.79 L432.55 518.75 L432.90 518.68 L433.25 518.59 L433.60 518.48 L433.95 518.37 L434.30 518.25 L434.65 518.14 L435.00 518.04 L435.35 517.96 L435.70 517.91 L436.05 517.90 L436.40 517.92 L436.75 517.95 L437.10 518.01 L437.45 518.08 L437.80 518.17 L438.15 518.26 L438.50 518.35 L438.85 518.44 L439.20 518.53 L439.55 518.62 L439.90 518.69 L440.25 518.75 L440.60 518.78 L440.95 518.80 L441.30 518.80 L441.65 518.79 L442.00 518.77 L442.35 518.76 L442.70 518.73 L443.05 518.70 L443.40 518.67 L443.75 518.63 L444.10 518.59 L444.45 518.55 L444.80 518.51 L445.15 518.46 L445.50 518.42 L445.85 518.37 L446.20 518.32 L446.55 518.28 L446.90 518.23 L447.25 518.18 L447.60 518.14 L447.95 518.10 L448.30 518.06 L448.65 518.03 L449.00 517.99 L449.35 517.97 L449.70 517.94 L450.05 517.92 L450.40 517.91 L450.75 517.90 L451.10 517.90 L451.45 517.92 L451.80 517.97 L452.15 518.03 L452.50 518.12 L452.85 518.22 L453.20 518.35 L453.55 518.48 L453.90 518.63 L454.25 518.79 L454.60 518.96 L454.95 519.14 L455.30 519.32 L455.65 519.51 L456.00 519.70 L456.35 519.89 L456.70 520.08 L457.05 520.26 L457.40 520.44 L457.75 520.61 L458.10 520.77 L458.45 520.92 L458.80 521.05 L459.15 521.18 L459.50 521.28 L459.85 521.37 L460.20 521.43 L460.55 521.48 L460.90 521.50 L461.25 521.50 L461.60 521.47 L461.95 521.43 L462.30 521.38 L462.65 521.31 L463.00 521.24 L463.35 521.15 L463.70 521.05 L464.05 520.95 L464.40 520.85 L464.75 520.75 L465.10 520.64 L465.45 520.54 L465.80 520.44 L466.15 520.34 L466.50 520.25 L466.85 520.17 L467.20 520.11 L467.55 520.05 L467.90 520.01 L468.25 519.98 L468.60 519.95 L468.95 519.93 L469.30 519.90 L469.65 519.88 L470.00 519.86 L470.35 519.84 L470.70 519.82 L471.05 519.80 L471.40 519.78 L471.75 519.76 L472.10 519.75 L472.45 519.73 L472.80 519.71 L473.15 519.70 L473.50 519.68 L473.85 519.67 L474.20 519.66 L474.55 519.64 L474.90 519.63 L475.25 519.62 L475.60 519.61 L475.95 519.59 L476.30 519.58 L476.65 519.57 L477.00 519.56 L477.35 519.55 L477.70 519.53 L478.05 519.52 L478.40 519.51 L478.75 519.50 L479.10 519.48 L479.45 519.47 L479.80 519.45 L480.15 519.44 L480.50 519.42 L480.85 519.41 L481.20 519.39 L481.55 519.37 L481.90 519.35 L482.25 519.33 L482.60 519.31 L482.95 519.29 L483.30 519.27 L483.65 519.25 L484.00 519.23 L484.35 519.21 L484.70 519.18 L485.05 519.16 L485.40 519.14 L485.75 519.11 L486.10 519.09 L486.45 519.07 L486.80 519.04 L487.15 519.02 L487.50 519.00 L487.85 518.98 L488.20 518.95 L488.55 518.93 L488.90 518.91 L489.25 518.89 L489.60 518.87 L489.95 518.85 L490.30 518.83 L490.65 518.82 L491.00 518.80 L491.35 518.78 L491.70 518.77 L492.05 518.76 L492.40 518.74 L492.75 518.73 L493.10 518.72 L493.45 518.72 L493.80 518.71 L494.15 518.71 L494.50 518.70 L494.85 518.70 L495.20 518.70 L495.55 518.70 L495.90 518.71 L496.25 518.72 L496.60 518.73 L496.95 518.75 L497.30 518.77 L497.65 518.79 L498.00 518.81 L498.35 518.83 L498.70 518.86 L499.05 518.89 L499.40 518.92 L499.75 518.96 L500.10 518.99 L500.45 519.03 L500.80 519.06 L501.15 519.10 L501.50 519.14 L501.85 519.18 L502.20 519.22 L502.55 519.26 L502.90 519.31 L503.25 519.35 L503.60 519.39 L503.95 519.44 L504.30 519.48 L504.65 519.52 L505.00 519.57 L505.35 519.61 L505.70 519.65 L506.05 519.69 L506.40 519.73 L506.75 519.77 L507.10 519.81 L507.45 519.85 L507.80 519.89 L508.15 519.92 L508.50 519.95 L508.85 519.99 L509.20 520.02 L509.55 520.05 L509.90 520.08 L510.25 520.11 L510.60 520.14 L510.95 520.17 L511.30 520.20 L511.65 520.23 L512.00 520.26 L512.35 520.29 L512.70 520.31 L513.05 520.34 L513.40 520.37 L513.75 520.40 L514.10 520.43 L514.45 520.46 L514.80 520.49 L515.15 520.52 L515.50 520.54 L515.85 520.57 L516.20 520.60 L516.55 520.63 L516.90 520.66 L517.25 520.69 L517.60 520.71 L517.95 520.74 L518.30 520.77 L518.65 520.80 L519.00 520.82 L519.35 520.85 L519.70 520.88 L520.05 520.92 L520.40 521.04 L520.75 521.16 L521.10 521.26 L521.45 521.34 L521.80 521.39 L522.15 521.41 L522.50 521.40 L522.85 521.36 L523.20 521.29 L523.55 521.20 L523.90 521.10 L524.25 520.98 L524.60 520.86 L524.95 520.75 L525.30 520.65 L525.65 520.57 L526.00 520.51 L526.35 520.48 L526.70 520.47 L527.05 520.50 L527.40 520.56 L527.75 520.63 L528.10 520.73 L528.45 520.84 L528.80 520.96 L529.15 521.08 L529.50 521.18 L529.85 521.28 L530.20 521.35 L530.55 521.40 L530.90 521.43 L531.25 521.42 L531.60 521.39 L531.95 521.33 L532.30 521.25 L532.65 521.15 L533.00 521.05 L533.35 520.94 L533.70 520.83 L534.05 520.74 L534.40 520.66 L534.75 520.60 L535.10 520.56 L535.45 520.56 L535.80 520.58 L536.15 520.62 L536.50 520.69 L536.85 520.78 L537.20 520.88 L537.55 520.99 L537.90 521.10 L538.25 521.20 L538.60 521.29 L538.95 521.36 L539.30 521.41 L539.65 521.44 L540.00 521.44 L540.35 521.41 L540.70 521.36 L541.05 521.29 L541.40 521.20 L541.75 521.10 L542.10 521.00 L542.45 520.90 L542.80 520.81 L543.15 520.73 L543.50 520.67 L543.85 520.64 L544.20 520.63 L544.55 520.64 L544.90 520.68 L545.25 520.74 L545.60 520.82 L545.95 520.92 L546.30 521.02 L546.65 521.12 L547.00 521.21 L547.35 521.30 L547.70 521.37 L548.05 521.42 L548.40 521.44 L548.75 521.45 L549.10 521.42 L549.45 521.38 L549.80 521.31 L550.15 521.23 L550.50 521.14 L550.85 521.05 L551.20 520.95 L551.55 520.87 L551.90 520.79 L552.25 520.74 L552.60 520.70 L552.95 520.69 L553.30 520.70 L553.65 520.73 L554.00 520.79 L554.35 520.86 L554.70 520.94 L555.05 521.04 L555.40 521.13 L555.75 521.22 L556.10 521.30 L556.45 521.37 L556.80 521.42 L557.15 521.44 L557.50 521.45 L557.85 521.43 L558.20 521.39 L558.55 521.33 L558.90 521.26 L559.25 521.18 L559.60 521.09 L559.95 521.00 L560.30 520.92 L560.65 520.85 L561.00 520.79 L561.35 520.76 L561.70 520.74 L562.05 520.75 L562.40 520.78 L562.75 520.82 L563.10 520.89 L563.45 520.97 L563.80 521.05 L564.15 521.14 L564.50 521.22 L564.85 521.30 L565.20 521.36 L565.55 521.41 L565.90 521.44 L566.25 521.45 L566.60 521.43 L566.95 521.40 L567.30 521.35 L567.65 521.28 L568.00 521.20 L568.35 521.12 L568.70 521.04 L569.05 520.96 L569.40 520.90 L569.75 520.84 L570.10 520.81 L570.45 520.79 L570.80 520.79 L571.15 520.81 L571.50 520.86 L571.85 520.91 L572.20 520.98 L572.55 521.06 L572.90 521.14 L573.25 521.22 L573.60 521.29 L573.95 521.36 L574.30 521.40 L574.65 521.43 L575.00 521.44 L575.35 521.43 L575.70 521.40 L576.05 521.36 L576.40 521.30 L576.75 521.23 L577.10 521.15 L577.45 521.07 L577.80 521.00 L578.15 520.94 L578.50 520.88 L578.85 520.85 L579.20 520.83 L579.55 520.83 L579.90 520.85 L580.25 520.88 L580.60 520.94 L580.95 521.00 L581.30 521.07 L581.65 521.15 L582.00 521.22 L582.35 521.29 L582.70 521.35 L583.05 521.39 L583.40 521.42 L583.75 521.43 L584.10 521.43 L584.45 521.40 L584.80 521.36 L585.15 521.31 L585.50 521.24 L585.85 521.17 L586.20 521.10 L586.55 521.03 L586.90 520.97 L587.25 520.92 L587.60 520.89 L587.95 520.87 L588.30 520.86 L588.65 520.88 L589.00 520.91 L589.35 520.96 L589.70 521.01 L590.05 521.08 L590.40 521.15 L590.75 521.22 L591.10 521.28 L591.45 521.34 L591.80 521.38 L592.15 521.41 L592.50 521.42 L592.85 521.42 L593.20 521.40 L593.55 521.36 L593.90 521.31 L594.25 521.26 L594.60 521.19 L594.95 521.13 L595.30 521.06 L595.65 521.00 L596.00 520.95 L596.35 520.92 L596.70 520.90 L597.05 520.89 L597.40 520.90 L597.75 520.93 L598.10 520.97 L598.45 521.03 L598.80 521.09 L599.15 521.15 L599.50 521.21 L599.85 521.27 L600.20 521.33 L600.55 521.37 L600.90 521.40 L601.25 521.41 L601.60 521.41 L601.95 521.39 L602.30 521.36 L602.65 521.32 L603.00 521.27 L603.35 521.21 L603.70 521.15 L604.05 521.08 L604.40 521.03 L604.75 520.98 L605.10 520.95 L605.45 520.93 L605.80 520.92 L606.15 520.93 L606.50 520.95 L606.85 520.99 L607.20 521.04 L607.55 521.09 L607.90 521.15 L608.25 521.21 L608.60 521.27 L608.95 521.32 L609.30 521.36 L609.65 521.39 L610.00 521.40 L610.35 521.40 L610.70 521.39 L611.05 521.36 L611.40 521.32 L611.75 521.27 L612.10 521.22 L612.45 521.16 L612.80 521.11 L613.15 521.05 L613.50 521.01 L613.85 520.97 L614.20 520.95 L614.55 520.94 L614.90 520.95 L615.25 520.97 L615.60 521.00 L615.95 521.04 L616.30 521.09 L616.65 521.15 L617.00 521.21 L617.35 521.26 L617.70 521.31 L618.05 521.35 L618.40 521.37 L618.75 521.39 L619.10 521.39 L619.45 521.38 L619.80 521.36 L620.15 521.32 L620.50 521.28 L620.85 521.23 L621.20 521.18 L621.55 521.12 L621.90 521.07 L622.25 521.03 L622.60 521.00 L622.95 520.98 L623.30 520.97 L623.65 520.97 L624.00 520.99 L624.35 521.01 L624.70 521.05 L625.05 521.10 L625.40 521.15 L625.75 521.20 L626.10 521.25 L626.45 521.30 L626.80 521.33 L627.15 521.36 L627.50 521.38 L627.85 521.38 L628.20 521.37 L628.55 521.35 L628.90 521.32 L629.25 521.28 L629.60 521.24 L629.95 521.19 L630.30 521.14 L630.65 521.09 L631.00 521.05 L631.35 521.02 L631.70 521.00 L632.05 520.99 L632.40 520.99 L632.75 521.00 L633.10 521.03 L633.45 521.06 L633.80 521.10 L634.15 521.15 L634.50 521.20 L634.85 521.24 L635.20 521.29 L635.55 521.32 L635.90 521.35 L636.25 521.37 L636.60 521.37 L636.95 521.37 L637.30 521.35 L637.65 521.32 L638.00 521.29 L638.35 521.24 L638.70 521.20 L639.05 521.15 L639.40 521.11 L639.75 521.07 L640.10 521.04 L640.45 521.02 L640.80 521.00 L641.15 521.00 L641.50 521.02 L641.85 521.04 L642.20 521.07 L642.55 521.11 L642.90 521.15 L643.25 521.19 L643.60 521.24 L643.95 521.28 L644.30 521.31 L644.65 521.34 L645.00 521.36 L645.35 521.36 L645.70 521.36 L646.05 521.34 L646.40 521.32 L646.75 521.29 L647.10 521.25 L647.45 521.21 L647.80 521.16 L648.15 521.12 L648.50 521.09 L648.85 521.05 L649.20 521.03 L649.55 521.02 L649.90 521.02 L650.25 521.03 L650.60 521.05 L650.95 521.07 L651.30 521.11 L651.65 521.15 L652.00 521.19 L652.35 521.23 L652.70 521.27 L653.05 521.30 L653.40 521.33 L653.75 521.35 L654.10 521.35 L654.45 521.35 L654.80 521.34 L655.15 521.32 L655.50 521.29 L655.85 521.25 L656.20 521.21 L656.55 521.17 L656.90 521.13" stroke="#ff0000" stroke-width="2.3" stroke-linejoin="round" stroke-dasharray="8.5 6"/>
<path d="M110.20 594.50 L110.55 586.89 L110.90 566.24 L111.25 535.81 L111.60 498.86 L111.95 458.65 L112.30 418.44 L112.65 381.49 L113.00 351.06 L113.35 330.41 L113.70 322.80 L114.05 326.05 L114.40 335.15 L114.75 349.13 L115.10 367.01 L115.45 387.81 L115.80 410.57 L116.15 434.30 L116.50 458.03 L116.85 480.79 L117.20 501.59 L117.55 519.47 L117.90 533.45 L118.25 542.55 L118.60 545.80 L118.95 541.79 L119.30 530.74 L119.65 514.10 L120.00 493.31 L120.35 469.82 L120.70 445.10 L121.05 420.58 L121.40 397.71 L121.75 377.96 L122.10 362.77 L122.45 353.58 L122.80 351.64 L123.15 354.22 L123.50 359.65 L123.85 367.42 L124.20 377.01 L124.55 387.92 L124.90 399.64 L125.25 411.65 L125.60 423.44 L125.95 434.50 L126.30 444.31 L126.65 452.37 L127.00 458.17 L127.35 461.18 L127.70 460.45 L128.05 455.04 L128.40 448.13 L128.75 443.22 L129.10 440.31 L129.45 437.93 L129.80 435.84 L130.15 434.04 L130.50 432.41 L130.85 430.81 L131.20 429.09 L131.55 427.09 L131.90 424.61 L132.25 421.92 L132.60 419.32 L132.95 417.13 L133.30 415.64 L133.65 414.38 L134.00 413.23 L134.35 412.29 L134.70 411.68 L135.05 411.50 L135.40 411.68 L135.75 412.11 L136.10 412.79 L136.45 413.71 L136.80 415.02 L137.15 419.06 L137.50 424.84 L137.85 430.52 L138.20 437.08 L138.55 446.94 L138.90 474.12 L139.25 501.67 L139.60 504.81 L139.95 500.59 L140.30 493.14 L140.65 483.16 L141.00 471.36 L141.35 458.45 L141.70 445.14 L142.05 432.13 L142.40 420.13 L142.75 409.85 L143.10 401.99 L143.45 397.27 L143.80 396.41 L144.15 400.33 L144.50 408.55 L144.85 420.29 L145.20 434.76 L145.55 451.16 L145.90 468.69 L146.25 486.56 L146.60 503.97 L146.95 520.14 L147.30 534.27 L147.65 545.56 L148.00 553.21 L148.35 556.45 L148.70 554.29 L149.05 546.71 L149.40 534.77 L149.75 519.51 L150.10 501.99 L150.45 483.26 L150.80 464.39 L151.15 446.41 L151.50 430.40 L151.85 417.40 L152.20 408.47 L152.55 404.66 L152.90 406.60 L153.25 413.49 L153.60 424.47 L153.95 438.66 L154.30 455.21 L154.65 473.24 L155.00 491.89 L155.35 510.29 L155.70 527.58 L156.05 542.89 L156.40 555.35 L156.75 564.10 L157.10 568.27 L157.45 567.03 L157.80 560.54 L158.15 549.77 L158.50 535.72 L158.85 519.39 L159.20 501.78 L159.55 483.88 L159.90 466.70 L160.25 451.22 L160.60 438.45 L160.95 429.40 L161.30 425.04 L161.65 425.97 L162.00 431.11 L162.35 439.63 L162.70 450.70 L163.05 463.52 L163.40 477.26 L163.75 491.12 L164.10 504.28 L164.45 515.93 L164.80 525.26 L165.15 531.45 L165.50 533.70 L165.85 532.58 L166.20 529.45 L166.55 524.64 L166.90 518.49 L167.25 511.34 L167.60 503.51 L167.95 495.35 L168.30 487.19 L168.65 479.36 L169.00 472.21 L169.35 466.06 L169.70 461.25 L170.05 458.12 L170.40 457.00 L170.75 457.33 L171.10 458.27 L171.45 459.73 L171.80 461.62 L172.15 463.85 L172.50 466.35 L172.85 469.01 L173.20 471.76 L173.55 474.51 L173.90 477.17 L174.25 479.66 L174.60 481.88 L174.95 483.82 L175.30 485.91 L175.65 488.14 L176.00 490.39 L176.35 492.53 L176.70 494.43 L177.05 495.98 L177.40 497.04 L177.75 497.49 L178.10 497.00 L178.45 495.29 L178.80 492.55 L179.15 489.00 L179.50 484.84 L179.85 480.30 L180.20 475.57 L180.55 470.88 L180.90 466.42 L181.25 462.42 L181.60 459.08 L181.95 456.61 L182.30 455.22 L182.65 455.23 L183.00 457.38 L183.35 461.51 L183.70 467.25 L184.05 474.22 L184.40 482.04 L184.75 490.34 L185.10 498.75 L185.45 506.89 L185.80 514.39 L186.15 520.88 L186.50 525.97 L186.85 529.31 L187.20 530.50 L187.55 528.67 L187.90 523.61 L188.25 515.99 L188.60 506.48 L188.95 495.74 L189.30 484.42 L189.65 473.21 L190.00 462.75 L190.35 453.71 L190.70 446.75 L191.05 442.55 L191.40 441.77 L191.75 444.93 L192.10 451.48 L192.45 460.67 L192.80 471.78 L193.15 484.05 L193.50 496.75 L193.85 509.12 L194.20 520.44 L194.55 529.95 L194.90 536.93 L195.25 540.61 L195.60 540.55 L195.95 537.77 L196.30 532.80 L196.65 526.09 L197.00 518.05 L197.35 509.10 L197.70 499.66 L198.05 490.17 L198.40 481.04 L198.75 472.69 L199.10 465.55 L199.45 460.05 L199.80 456.60 L200.15 455.63 L200.50 457.67 L200.85 462.44 L201.20 469.36 L201.55 477.85 L201.90 487.34 L202.25 497.24 L202.60 506.97 L202.95 515.96 L203.30 523.62 L203.65 529.39 L204.00 532.66 L204.35 533.02 L204.70 531.34 L205.05 528.11 L205.40 523.64 L205.75 518.23 L206.10 512.17 L206.45 505.77 L206.80 499.33 L207.15 493.15 L207.50 487.53 L207.85 482.76 L208.20 479.14 L208.55 476.98 L208.90 476.55 L209.25 477.47 L209.60 479.38 L209.95 482.11 L210.30 485.44 L210.65 489.20 L211.00 493.18 L211.35 497.18 L211.70 501.02 L212.05 504.49 L212.40 507.41 L212.75 509.58 L213.10 510.80 L213.45 510.98 L213.80 510.79 L214.15 510.41 L214.50 509.85 L214.85 509.15 L215.20 508.32 L215.55 507.37 L215.90 506.33 L216.25 505.22 L216.60 504.06 L216.95 502.86 L217.30 501.65 L217.65 500.45 L218.00 499.27 L218.35 498.13 L218.70 497.06 L219.05 496.08 L219.40 495.19 L219.75 494.43 L220.10 493.81 L220.45 493.35 L220.80 493.08 L221.15 493.01 L221.50 493.70 L221.85 495.31 L222.20 497.66 L222.55 500.56 L222.90 503.84 L223.25 507.30 L223.60 510.76 L223.95 514.04 L224.30 516.94 L224.65 519.29 L225.00 520.90 L225.35 521.59 L225.70 521.15 L226.05 519.60 L226.40 517.14 L226.75 513.95 L227.10 510.24 L227.45 506.19 L227.80 502.00 L228.15 497.87 L228.50 493.99 L228.85 490.55 L229.20 487.75 L229.55 485.79 L229.90 484.85 L230.25 485.20 L230.60 486.98 L230.95 489.94 L231.30 493.82 L231.65 498.34 L232.00 503.25 L232.35 508.27 L232.70 513.13 L233.05 517.58 L233.40 521.34 L233.75 524.15 L234.10 525.74 L234.45 525.85 L234.80 524.40 L235.15 521.63 L235.50 517.82 L235.85 513.23 L236.20 508.12 L236.55 502.76 L236.90 497.43 L237.25 492.38 L237.60 487.88 L237.95 484.20 L238.30 481.61 L238.65 480.37 L239.00 480.77 L239.35 482.84 L239.70 486.27 L240.05 490.73 L240.40 495.91 L240.75 501.49 L241.10 507.13 L241.45 512.51 L241.80 517.33 L242.15 521.24 L242.50 523.93 L242.85 525.08 L243.20 524.46 L243.55 522.26 L243.90 518.81 L244.25 514.41 L244.60 509.39 L244.95 504.05 L245.30 498.71 L245.65 493.69 L246.00 489.29 L246.35 485.84 L246.70 483.64 L247.05 483.01 L247.40 483.78 L247.75 485.60 L248.10 488.28 L248.45 491.62 L248.80 495.43 L249.15 499.51 L249.50 503.68 L249.85 507.74 L250.20 511.49 L250.55 514.75 L250.90 517.32 L251.25 519.00 L251.60 519.60 L251.95 519.22 L252.30 518.17 L252.65 516.57 L253.00 514.54 L253.35 512.18 L253.70 509.64 L254.05 507.01 L254.40 504.43 L254.75 502.01 L255.10 499.87 L255.45 498.13 L255.80 496.91 L256.15 496.33 L256.50 496.43 L256.85 497.00 L257.20 497.93 L257.55 499.13 L257.90 500.51 L258.25 501.97 L258.60 503.42 L258.95 504.76 L259.30 505.91 L259.65 506.75 L260.00 507.28 L260.35 507.76 L260.70 508.22 L261.05 508.67 L261.40 509.09 L261.75 509.48 L262.10 509.84 L262.45 510.16 L262.80 510.43 L263.15 510.66 L263.50 510.83 L263.85 510.94 L264.20 511.00 L264.55 510.92 L264.90 510.55 L265.25 509.95 L265.60 509.17 L265.95 508.26 L266.30 507.29 L266.65 506.31 L267.00 505.38 L267.35 504.56 L267.70 503.90 L268.05 503.46 L268.40 503.30 L268.75 503.63 L269.10 504.56 L269.45 505.98 L269.80 507.77 L270.15 509.85 L270.50 512.09 L270.85 514.39 L271.20 516.64 L271.55 518.74 L271.90 520.59 L272.25 522.06 L272.60 523.07 L272.95 523.49 L273.30 523.11 L273.65 521.79 L274.00 519.73 L274.35 517.14 L274.70 514.23 L275.05 511.20 L275.40 508.26 L275.75 505.61 L276.10 503.46 L276.45 502.03 L276.80 501.50 L277.15 501.92 L277.50 503.08 L277.85 504.87 L278.20 507.15 L278.55 509.80 L278.90 512.69 L279.25 515.68 L279.60 518.66 L279.95 521.49 L280.30 524.04 L280.65 526.19 L281.00 527.82 L281.35 528.78 L281.70 528.97 L282.05 528.36 L282.40 527.09 L282.75 525.27 L283.10 523.02 L283.45 520.46 L283.80 517.71 L284.15 514.89 L284.50 512.13 L284.85 509.53 L285.20 507.23 L285.55 505.34 L285.90 503.98 L286.25 503.27 L286.60 503.35 L286.95 504.25 L287.30 505.83 L287.65 507.93 L288.00 510.40 L288.35 513.07 L288.70 515.79 L289.05 518.39 L289.40 520.72 L289.75 522.62 L290.10 523.93 L290.45 524.49 L290.80 524.18 L291.15 523.10 L291.50 521.42 L291.85 519.30 L292.20 516.92 L292.55 514.44 L292.90 512.03 L293.25 509.86 L293.60 508.11 L293.95 506.93 L294.30 506.50 L294.65 506.64 L295.00 507.02 L295.35 507.61 L295.70 508.36 L296.05 509.24 L296.40 510.20 L296.75 511.20 L297.10 512.20 L297.45 513.16 L297.80 514.04 L298.15 514.79 L298.50 515.38 L298.85 515.76 L299.20 515.90 L299.55 515.85 L299.90 515.73 L300.25 515.53 L300.60 515.28 L300.95 514.99 L301.30 514.68 L301.65 514.36 L302.00 514.04 L302.35 513.74 L302.70 513.47 L303.05 513.25 L303.40 513.09 L303.75 513.01 L304.10 513.00 L304.45 513.00 L304.80 513.00 L305.15 513.00 L305.50 513.00 L305.85 513.00 L306.20 513.00 L306.55 513.00 L306.90 513.00 L307.25 513.00 L307.60 513.05 L307.95 513.33 L308.30 513.82 L308.65 514.46 L309.00 515.18 L309.35 515.93 L309.70 516.64 L310.05 517.26 L310.40 517.72 L310.75 517.97 L311.10 517.93 L311.45 517.53 L311.80 516.80 L312.15 515.82 L312.50 514.65 L312.85 513.36 L313.20 512.00 L313.55 510.64 L313.90 509.35 L314.25 508.18 L314.60 507.20 L314.95 506.47 L315.30 506.07 L315.65 506.04 L316.00 506.45 L316.35 507.22 L316.70 508.28 L317.05 509.56 L317.40 511.00 L317.75 512.50 L318.10 514.00 L318.45 515.44 L318.80 516.72 L319.15 517.78 L319.50 518.55 L319.85 518.96 L320.20 518.93 L320.55 518.50 L320.90 517.73 L321.25 516.71 L321.60 515.50 L321.95 514.18 L322.30 512.81 L322.65 511.48 L323.00 510.25 L323.35 509.20 L323.70 508.39 L324.05 507.91 L324.40 507.82 L324.75 508.18 L325.10 508.93 L325.45 510.01 L325.80 511.34 L326.15 512.84 L326.50 514.45 L326.85 516.09 L327.20 517.68 L327.55 519.17 L327.90 520.46 L328.25 521.50 L328.60 522.20 L328.95 522.50 L329.30 522.36 L329.65 521.87 L330.00 521.09 L330.35 520.10 L330.70 518.94 L331.05 517.70 L331.40 516.42 L331.75 515.19 L332.10 514.05 L332.45 513.08 L332.80 512.34 L333.15 511.90 L333.50 511.82 L333.85 512.13 L334.20 512.77 L334.55 513.69 L334.90 514.80 L335.25 516.04 L335.60 517.34 L335.95 518.63 L336.30 519.84 L336.65 520.90 L337.00 521.74 L337.35 522.30 L337.70 522.50 L338.05 522.38 L338.40 522.04 L338.75 521.53 L339.10 520.89 L339.45 520.15 L339.80 519.35 L340.15 518.53 L340.50 517.74 L340.85 517.01 L341.20 516.38 L341.55 515.90 L341.90 515.59 L342.25 515.50 L342.60 515.59 L342.95 515.78 L343.30 516.07 L343.65 516.43 L344.00 516.83 L344.35 517.25 L344.70 517.67 L345.05 518.07 L345.40 518.43 L345.75 518.72 L346.10 518.91 L346.45 519.00 L346.80 518.98 L347.15 518.93 L347.50 518.84 L347.85 518.72 L348.20 518.56 L348.55 518.39 L348.90 518.19 L349.25 517.97 L349.60 517.74 L349.95 517.49 L350.30 517.24 L350.65 516.99 L351.00 516.73 L351.35 516.48 L351.70 516.23 L352.05 516.00 L352.40 515.77 L352.75 515.57 L353.10 515.38 L353.45 515.22 L353.80 515.09 L354.15 514.99 L354.50 514.93 L354.85 514.90 L355.20 514.98 L355.55 515.24 L355.90 515.65 L356.25 516.17 L356.60 516.76 L356.95 517.38 L357.30 517.98 L357.65 518.54 L358.00 519.00 L358.35 519.33 L358.70 519.49 L359.05 519.47 L359.40 519.34 L359.75 519.13 L360.10 518.84 L360.45 518.51 L360.80 518.14 L361.15 517.75 L361.50 517.36 L361.85 516.99 L362.20 516.66 L362.55 516.37 L362.90 516.16 L363.25 516.03 L363.60 516.01 L363.95 516.18 L364.30 516.55 L364.65 517.06 L365.00 517.68 L365.35 518.38 L365.70 519.10 L366.05 519.83 L366.40 520.51 L366.75 521.10 L367.10 521.57 L367.45 521.89 L367.80 522.00 L368.15 521.79 L368.50 521.22 L368.85 520.35 L369.20 519.27 L369.55 518.05 L369.90 516.77 L370.25 515.49 L370.60 514.30 L370.95 513.28 L371.30 512.49 L371.65 512.01 L372.00 511.92 L372.35 512.24 L372.70 512.90 L373.05 513.84 L373.40 514.97 L373.75 516.21 L374.10 517.50 L374.45 518.76 L374.80 519.91 L375.15 520.88 L375.50 521.59 L375.85 521.96 L376.20 521.94 L376.55 521.60 L376.90 521.01 L377.25 520.21 L377.60 519.29 L377.95 518.29 L378.30 517.29 L378.65 516.34 L379.00 515.50 L379.35 514.84 L379.70 514.42 L380.05 514.30 L380.40 514.40 L380.75 514.62 L381.10 514.95 L381.45 515.37 L381.80 515.84 L382.15 516.35 L382.50 516.87 L382.85 517.39 L383.20 517.87 L383.55 518.29 L383.90 518.64 L384.25 518.88 L384.60 518.99 L384.95 519.00 L385.30 518.98 L385.65 518.96 L386.00 518.93 L386.35 518.90 L386.70 518.86 L387.05 518.81 L387.40 518.76 L387.75 518.71 L388.10 518.66 L388.45 518.62 L388.80 518.57 L389.15 518.52 L389.50 518.49 L389.85 518.45 L390.20 518.43 L390.55 518.41 L390.90 518.40 L391.25 518.41 L391.60 518.46 L391.95 518.54 L392.30 518.65 L392.65 518.78 L393.00 518.93 L393.35 519.09 L393.70 519.25 L394.05 519.41 L394.40 519.57 L394.75 519.72 L395.10 519.85 L395.45 519.96 L395.80 520.04 L396.15 520.09 L396.50 520.10 L396.85 520.06 L397.20 519.99 L397.55 519.89 L397.90 519.76 L398.25 519.61 L398.60 519.44 L398.95 519.27 L399.30 519.10 L399.65 518.94 L400.00 518.78 L400.35 518.65 L400.70 518.54 L401.05 518.45 L401.40 518.41 L401.75 518.41 L402.10 518.55 L402.45 518.80 L402.80 519.14 L403.15 519.55 L403.50 520.00 L403.85 520.46 L404.20 520.91 L404.55 521.31 L404.90 521.64 L405.25 521.88 L405.60 521.99 L405.95 521.97 L406.30 521.81 L406.65 521.55 L407.00 521.21 L407.35 520.81 L407.70 520.37 L408.05 519.90 L408.40 519.43 L408.75 518.99 L409.10 518.59 L409.45 518.25 L409.80 517.99 L410.15 517.83 L410.50 517.81 L410.85 517.91 L411.20 518.12 L411.55 518.42 L411.90 518.79 L412.25 519.21 L412.60 519.65 L412.95 520.11 L413.30 520.56 L413.65 520.97 L414.00 521.33 L414.35 521.62 L414.70 521.82 L415.05 521.90 L415.40 521.83 L415.75 521.58 L416.10 521.20 L416.45 520.71 L416.80 520.15 L417.15 519.55 L417.50 518.95 L417.85 518.39 L418.20 517.90 L418.55 517.52 L418.90 517.27 L419.25 517.20 L419.60 517.26 L419.95 517.41 L420.30 517.62 L420.65 517.88 L421.00 518.18 L421.35 518.51 L421.70 518.84 L422.05 519.16 L422.40 519.46 L422.75 519.72 L423.10 519.92 L423.45 520.05 L423.80 520.10 L424.15 520.05 L424.50 519.93 L424.85 519.74 L425.20 519.50 L425.55 519.23 L425.90 518.95 L426.25 518.67 L426.60 518.40 L426.95 518.16 L427.30 517.97 L427.65 517.85 L428.00 517.80 L428.35 517.82 L428.70 517.88 L429.05 517.97 L429.40 518.08 L429.75 518.21 L430.10 518.34 L430.45 518.47 L430.80 518.58 L431.15 518.68 L431.50 518.76 L431.85 518.80 L432.20 518.79 L432.55 518.75 L432.90 518.68 L433.25 518.59 L433.60 518.48 L433.95 518.37 L434.30 518.25 L434.65 518.14 L435.00 518.04 L435.35 517.96 L435.70 517.91 L436.05 517.90 L436.40 517.92 L436.75 517.95 L437.10 518.01 L437.45 518.08 L437.80 518.17 L438.15 518.26 L438.50 518.35 L438.85 518.44 L439.20 518.53 L439.55 518.62 L439.90 518.69 L440.25 518.75 L440.60 518.78 L440.95 518.80 L441.30 518.80 L441.65 518.79 L442.00 518.77 L442.35 518.76 L442.70 518.73 L443.05 518.70 L443.40 518.67 L443.75 518.63 L444.10 518.59 L444.45 518.55 L444.80 518.51 L445.15 518.46 L445.50 518.42 L445.85 518.37 L446.20 518.32 L446.55 518.28 L446.90 518.23 L447.25 518.18 L447.60 518.14 L447.95 518.10 L448.30 518.06 L448.65 518.03 L449.00 517.99 L449.35 517.97 L449.70 517.94 L450.05 517.92 L450.40 517.91 L450.75 517.90 L451.10 517.90 L451.45 517.92 L451.80 517.97 L452.15 518.03 L452.50 518.12 L452.85 518.22 L453.20 518.35 L453.55 518.48 L453.90 518.63 L454.25 518.79 L454.60 518.96 L454.95 519.14 L455.30 519.32 L455.65 519.51 L456.00 519.70 L456.35 519.89 L456.70 520.08 L457.05 520.26 L457.40 520.44 L457.75 520.61 L458.10 520.77 L458.45 520.92 L458.80 521.05 L459.15 521.18 L459.50 521.28 L459.85 521.37 L460.20 521.43 L460.55 521.48 L460.90 521.50 L461.25 521.50 L461.60 521.47 L461.95 521.43 L462.30 521.38 L462.65 521.31 L463.00 521.24 L463.35 521.15 L463.70 521.05 L464.05 520.95 L464.40 520.85 L464.75 520.75 L465.10 520.64 L465.45 520.54 L465.80 520.44 L466.15 520.34 L466.50 520.25 L466.85 520.17 L467.20 520.11 L467.55 520.05 L467.90 520.01 L468.25 519.98 L468.60 519.95 L468.95 519.93 L469.30 519.90 L469.65 519.88 L470.00 519.86 L470.35 519.84 L470.70 519.82 L471.05 519.80 L471.40 519.78 L471.75 519.76 L472.10 519.75 L472.45 519.73 L472.80 519.71 L473.15 519.70 L473.50 519.68 L473.85 519.67 L474.20 519.66 L474.55 519.64 L474.90 519.63 L475.25 519.62 L475.60 519.61 L475.95 519.59 L476.30 519.58 L476.65 519.57 L477.00 519.56 L477.35 519.55 L477.70 519.53 L478.05 519.52 L478.40 519.51 L478.75 519.50 L479.10 519.48 L479.45 519.47 L479.80 519.45 L480.15 519.44 L480.50 519.42 L480.85 519.41 L481.20 519.39 L481.55 519.37 L481.90 519.35 L482.25 519.33 L482.60 519.31 L482.95 519.29 L483.30 519.27 L483.65 519.25 L484.00 519.23 L484.35 519.21 L484.70 519.18 L485.05 519.16 L485.40 519.14 L485.75 519.11 L486.10 519.09 L486.45 519.07 L486.80 519.04 L487.15 519.02 L487.50 519.00 L487.85 518.98 L488.20 518.95 L488.55 518.93 L488.90 518.91 L489.25 518.89 L489.60 518.87 L489.95 518.85 L490.30 518.83 L490.65 518.82 L491.00 518.80 L491.35 518.78 L491.70 518.77 L492.05 518.76 L492.40 518.74 L492.75 518.73 L493.10 518.72 L493.45 518.72 L493.80 518.71 L494.15 518.71 L494.50 518.70 L494.85 518.70 L495.20 518.70 L495.55 518.70 L495.90 518.71 L496.25 518.72 L496.60 518.73 L496.95 518.75 L497.30 518.77 L497.65 518.79 L498.00 518.81 L498.35 518.83 L498.70 518.86 L499.05 518.89 L499.40 518.92 L499.75 518.96 L500.10 518.99 L500.45 519.03 L500.80 519.06 L501.15 519.10 L501.50 519.14 L501.85 519.18 L502.20 519.22 L502.55 519.26 L502.90 519.31 L503.25 519.35 L503.60 519.39 L503.95 519.44 L504.30 519.48 L504.65 519.52 L505.00 519.57 L505.35 519.61 L505.70 519.65 L506.05 519.69 L506.40 519.73 L506.75 519.77 L507.10 519.81 L507.45 519.85 L507.80 519.89 L508.15 519.92 L508.50 519.95 L508.85 519.99 L509.20 520.02 L509.55 520.05 L509.90 520.08 L510.25 520.11 L510.60 520.14 L510.95 520.17 L511.30 520.20 L511.65 520.23 L512.00 520.26 L512.35 520.29 L512.70 520.31 L513.05 520.34 L513.40 520.37 L513.75 520.40 L514.10 520.43 L514.45 520.46 L514.80 520.49 L515.15 520.52 L515.50 520.54 L515.85 520.57 L516.20 520.60 L516.55 520.63 L516.90 520.66 L517.25 520.69 L517.60 520.71 L517.95 520.74 L518.30 520.77 L518.65 520.80 L519.00 520.82 L519.35 520.85 L519.70 520.88 L520.05 520.92 L520.40 521.06 L520.75 521.19 L521.10 521.30 L521.45 521.39 L521.80 521.45 L522.15 521.49 L522.50 521.49 L522.85 521.46 L523.20 521.41 L523.55 521.33 L523.90 521.24 L524.25 521.13 L524.60 521.03 L524.95 520.93 L525.30 520.84 L525.65 520.77 L526.00 520.72 L526.35 520.70 L526.70 520.71 L527.05 520.74 L527.40 520.81 L527.75 520.90 L528.10 521.01 L528.45 521.13 L528.80 521.26 L529.15 521.38 L529.50 521.50 L529.85 521.61 L530.20 521.69 L530.55 521.75 L530.90 521.78 L531.25 521.79 L531.60 521.77 L531.95 521.72 L532.30 521.65 L532.65 521.56 L533.00 521.46 L533.35 521.36 L533.70 521.27 L534.05 521.18 L534.40 521.11 L534.75 521.06 L535.10 521.04 L535.45 521.04 L535.80 521.07 L536.15 521.12 L536.50 521.20 L536.85 521.30 L537.20 521.41 L537.55 521.52 L537.90 521.64 L538.25 521.75 L538.60 521.85 L538.95 521.93 L539.30 521.99 L539.65 522.02 L540.00 522.03 L540.35 522.01 L540.70 521.96 L541.05 521.90 L541.40 521.82 L541.75 521.73 L542.10 521.63 L542.45 521.54 L542.80 521.46 L543.15 521.39 L543.50 521.34 L543.85 521.31 L544.20 521.31 L544.55 521.33 L544.90 521.38 L545.25 521.45 L545.60 521.53 L545.95 521.63 L546.30 521.74 L546.65 521.85 L547.00 521.95 L547.35 522.04 L547.70 522.12 L548.05 522.17 L548.40 522.21 L548.75 522.21 L549.10 522.20 L549.45 522.16 L549.80 522.10 L550.15 522.03 L550.50 521.94 L550.85 521.85 L551.20 521.77 L551.55 521.69 L551.90 521.62 L552.25 521.57 L552.60 521.54 L552.95 521.53 L553.30 521.55 L553.65 521.59 L554.00 521.65 L554.35 521.72 L554.70 521.81 L555.05 521.91 L555.40 522.01 L555.75 522.11 L556.10 522.19 L556.45 522.26 L556.80 522.32 L557.15 522.35 L557.50 522.36 L557.85 522.35 L558.20 522.31 L558.55 522.26 L558.90 522.19 L559.25 522.11 L559.60 522.03 L559.95 521.95 L560.30 521.87 L560.65 521.81 L561.00 521.76 L561.35 521.72 L561.70 521.71 L562.05 521.72 L562.40 521.76 L562.75 521.81 L563.10 521.88 L563.45 521.96 L563.80 522.05 L564.15 522.14 L564.50 522.23 L564.85 522.31 L565.20 522.38 L565.55 522.43 L565.90 522.46 L566.25 522.47 L566.60 522.46 L566.95 522.43 L567.30 522.39 L567.65 522.32 L568.00 522.25 L568.35 522.17 L568.70 522.10 L569.05 522.02 L569.40 521.96 L569.75 521.91 L570.10 521.88 L570.45 521.86 L570.80 521.87 L571.15 521.90 L571.50 521.94 L571.85 522.00 L572.20 522.08 L572.55 522.16 L572.90 522.24 L573.25 522.33 L573.60 522.40 L573.95 522.47 L574.30 522.52 L574.65 522.55 L575.00 522.56 L575.35 522.55 L575.70 522.53 L576.05 522.49 L576.40 522.43 L576.75 522.36 L577.10 522.29 L577.45 522.22 L577.80 522.15 L578.15 522.09 L578.50 522.04 L578.85 522.00 L579.20 521.99 L579.55 521.99 L579.90 522.01 L580.25 522.05 L580.60 522.11 L580.95 522.17 L581.30 522.25 L581.65 522.33 L582.00 522.40 L582.35 522.47 L582.70 522.53 L583.05 522.58 L583.40 522.61 L583.75 522.63 L584.10 522.62 L584.45 522.60 L584.80 522.56 L585.15 522.51 L585.50 522.45 L585.85 522.38 L586.20 522.32 L586.55 522.25 L586.90 522.19 L587.25 522.14 L587.60 522.11 L587.95 522.09 L588.30 522.09 L588.65 522.11 L589.00 522.14 L589.35 522.19 L589.70 522.25 L590.05 522.32 L590.40 522.39 L590.75 522.46 L591.10 522.53 L591.45 522.59 L591.80 522.63 L592.15 522.66 L592.50 522.68 L592.85 522.68 L593.20 522.66 L593.55 522.62 L593.90 522.58 L594.25 522.52 L594.60 522.46 L594.95 522.39 L595.30 522.33 L595.65 522.28 L596.00 522.23 L596.35 522.20 L596.70 522.18 L597.05 522.17 L597.40 522.19 L597.75 522.22 L598.10 522.26 L598.45 522.31 L598.80 522.38 L599.15 522.44 L599.50 522.51 L599.85 522.57 L600.20 522.63 L600.55 522.67 L600.90 522.70 L601.25 522.72 L601.60 522.72 L601.95 522.70 L602.30 522.67 L602.65 522.63 L603.00 522.58 L603.35 522.52 L603.70 522.46 L604.05 522.40 L604.40 522.35 L604.75 522.30 L605.10 522.27 L605.45 522.25 L605.80 522.24 L606.15 522.25 L606.50 522.28 L606.85 522.32 L607.20 522.37 L607.55 522.42 L607.90 522.48 L608.25 522.54 L608.60 522.60 L608.95 522.65 L609.30 522.70 L609.65 522.73 L610.00 522.74 L610.35 522.75 L610.70 522.73 L611.05 522.71 L611.40 522.67 L611.75 522.62 L612.10 522.57 L612.45 522.51 L612.80 522.46 L613.15 522.41 L613.50 522.36 L613.85 522.33 L614.20 522.31 L614.55 522.30 L614.90 522.31 L615.25 522.33 L615.60 522.36 L615.95 522.41 L616.30 522.46 L616.65 522.52 L617.00 522.57 L617.35 522.63 L617.70 522.68 L618.05 522.72 L618.40 522.75 L618.75 522.76 L619.10 522.77 L619.45 522.76 L619.80 522.73 L620.15 522.70 L620.50 522.66 L620.85 522.61 L621.20 522.56 L621.55 522.50 L621.90 522.46 L622.25 522.42 L622.60 522.38 L622.95 522.36 L623.30 522.35 L623.65 522.36 L624.00 522.38 L624.35 522.40 L624.70 522.44 L625.05 522.49 L625.40 522.54 L625.75 522.59 L626.10 522.65 L626.45 522.69 L626.80 522.73 L627.15 522.76 L627.50 522.78 L627.85 522.78 L628.20 522.77 L628.55 522.75 L628.90 522.72 L629.25 522.69 L629.60 522.64 L629.95 522.59 L630.30 522.54 L630.65 522.50 L631.00 522.46 L631.35 522.43 L631.70 522.41 L632.05 522.40 L632.40 522.40 L632.75 522.41 L633.10 522.44 L633.45 522.47 L633.80 522.51 L634.15 522.56 L634.50 522.61 L634.85 522.66 L635.20 522.70 L635.55 522.74 L635.90 522.77 L636.25 522.79 L636.60 522.79 L636.95 522.79 L637.30 522.77 L637.65 522.74 L638.00 522.71 L638.35 522.67 L638.70 522.62 L639.05 522.58 L639.40 522.53 L639.75 522.49 L640.10 522.46 L640.45 522.44 L640.80 522.43 L641.15 522.43 L641.50 522.44 L641.85 522.47 L642.20 522.50 L642.55 522.54 L642.90 522.58 L643.25 522.62 L643.60 522.67 L643.95 522.71 L644.30 522.75 L644.65 522.77 L645.00 522.79 L645.35 522.80 L645.70 522.79 L646.05 522.78 L646.40 522.76 L646.75 522.72 L647.10 522.69 L647.45 522.64 L647.80 522.60 L648.15 522.56 L648.50 522.52 L648.85 522.50 L649.20 522.47 L649.55 522.46 L649.90 522.46 L650.25 522.47 L650.60 522.49 L650.95 522.52 L651.30 522.55 L651.65 522.59 L652.00 522.63 L652.35 522.68 L652.70 522.71 L653.05 522.75 L653.40 522.77 L653.75 522.79 L654.10 522.80 L654.45 522.80 L654.80 522.79 L655.15 522.76 L655.50 522.74 L655.85 522.70 L656.20 522.66 L656.55 522.62 L656.90 522.59" stroke="#7878ba" stroke-width="3.1" stroke-linejoin="round" stroke-dasharray="4.2 4.2" opacity="0.92"/>
</g>
<rect x="349.60" y="16.60" width="325.70" height="111.70" rx="2.6" ry="2.6" fill="#fff" fill-opacity="0.8" stroke="#dedede" stroke-width="1"/>
<line x1="356.10" y1="31.10" x2="393.10" y2="31.10" stroke="#000" stroke-width="2.76" stroke-dasharray="17.82 4.45 2.79 4.45"/>
<line x1="356.10" y1="57.60" x2="393.10" y2="57.60" stroke="#0000ff" stroke-width="2.1" stroke-linecap="square"/>
<line x1="356.10" y1="84.25" x2="393.10" y2="84.25" stroke="#ff0000" stroke-width="2.2" stroke-dasharray="8.5 6.1"/>
<line x1="356.10" y1="110.90" x2="393.10" y2="110.90" stroke="#6c69b0" stroke-width="2.0" stroke-dasharray="4.2 4.2"/>
<text x="400.50" y="37.00" font-size="17.40" text-anchor="start">RC model ground state</text>
<text x="400.50" y="63.50" font-size="17.40" text-anchor="start">HEOM (no Matsubara)</text>
<text x="400.50" y="90.15" font-size="17.40" text-anchor="start">Pseudomode (no Matsubara)</text>
<text x="400.50" y="116.80" font-size="17.40" text-anchor="start">RC (no Matsubara)</text>
<rect x="377.60" y="317.40" width="297.30" height="110.60" rx="2.6" ry="2.6" fill="#fff" fill-opacity="0.8" stroke="#dedede" stroke-width="1"/>
<line x1="384.20" y1="331.60" x2="421.00" y2="331.60" stroke="#000" stroke-width="2.76" stroke-dasharray="17.82 4.45 2.79 4.45"/>
<line x1="384.20" y1="358.40" x2="421.00" y2="358.40" stroke="#0000ff" stroke-width="2.1" stroke-linecap="square"/>
<line x1="384.20" y1="384.80" x2="421.00" y2="384.80" stroke="#ff0000" stroke-width="2.2" stroke-dasharray="8.5 6.1"/>
<line x1="384.20" y1="411.50" x2="421.00" y2="411.50" stroke="#6c69b0" stroke-width="2.0" stroke-dasharray="4.2 4.2"/>
<text x="430.10" y="337.90" font-size="17.40" text-anchor="start">RC model ground state</text>
<text x="430.10" y="364.70" font-size="17.40" text-anchor="start">HEOM (Matsubara)</text>
<text x="430.10" y="391.10" font-size="17.40" text-anchor="start">Pseudomode (Matsubara)</text>
<text x="430.10" y="417.80" font-size="17.40" text-anchor="start">RC (Matsubara)</text>
<g stroke="#000" stroke-width="1.45" fill="none">
<rect x="82.90" y="7.63" width="601.50" height="300.52"/>
<rect x="82.90" y="308.15" width="601.50" height="300.45"/>
</g>
<g stroke="#000" stroke-width="1.1">
<line x1="79.90" y1="294.40" x2="82.90" y2="294.40"/>
<line x1="79.90" y1="155.20" x2="82.90" y2="155.20"/>
<line x1="79.90" y1="15.65" x2="82.90" y2="15.65"/>
<line x1="79.90" y1="595.00" x2="82.90" y2="595.00"/>
<line x1="79.90" y1="455.80" x2="82.90" y2="455.80"/>
<line x1="79.90" y1="316.60" x2="82.90" y2="316.60"/>
<line x1="110.20" y1="608.60" x2="110.20" y2="611.60"/>
<line x1="178.54" y1="608.60" x2="178.54" y2="611.60"/>
<line x1="246.88" y1="608.60" x2="246.88" y2="611.60"/>
<line x1="315.21" y1="608.60" x2="315.21" y2="611.60"/>
<line x1="383.55" y1="608.60" x2="383.55" y2="611.60"/>
<line x1="451.89" y1="608.60" x2="451.89" y2="611.60"/>
<line x1="520.23" y1="608.60" x2="520.23" y2="611.60"/>
<line x1="588.56" y1="608.60" x2="588.56" y2="611.60"/>
<line x1="656.90" y1="608.60" x2="656.90" y2="611.60"/>
</g>
<text transform="translate(72.8 301.65) scale(1 1.05)" font-size="20.60" text-anchor="end">0</text>
<text transform="translate(72.8 162.45) scale(1 1.05)" font-size="20.60" text-anchor="end">0.01</text>
<text transform="translate(72.8 23.25) scale(1 1.05)" font-size="20.60" text-anchor="end">0.02</text>
<text transform="translate(72.8 602.25) scale(1 1.05)" font-size="20.60" text-anchor="end">0</text>
<text transform="translate(72.8 463.05) scale(1 1.05)" font-size="20.60" text-anchor="end">0.01</text>
<text transform="translate(72.8 323.85) scale(1 1.05)" font-size="20.60" text-anchor="end">0.02</text>
<text transform="translate(110.20 634.8) scale(1 1.05)" font-size="20.60" text-anchor="middle">0</text>
<text transform="translate(178.54 634.8) scale(1 1.05)" font-size="20.60" text-anchor="middle">25</text>
<text transform="translate(246.88 634.8) scale(1 1.05)" font-size="20.60" text-anchor="middle">50</text>
<text transform="translate(315.21 634.8) scale(1 1.05)" font-size="20.60" text-anchor="middle">75</text>
<text transform="translate(383.55 634.8) scale(1 1.05)" font-size="20.60" text-anchor="middle">100</text>
<text transform="translate(451.89 634.8) scale(1 1.05)" font-size="20.60" text-anchor="middle">125</text>
<text transform="translate(520.23 634.8) scale(1 1.05)" font-size="20.60" text-anchor="middle">150</text>
<text transform="translate(588.56 634.8) scale(1 1.05)" font-size="20.60" text-anchor="middle">175</text>
<text transform="translate(656.90 634.8) scale(1 1.05)" font-size="20.60" text-anchor="middle">200</text>
<text transform="translate(14.9 157.7) rotate(-90)" font-size="20.15" text-anchor="middle">Population (no Matsubara)</text>
<text transform="translate(14.9 458.6) rotate(-90)" font-size="20.15" text-anchor="middle">Population (Matsubara)</text>
<text y="664.5" font-size="20.4"><tspan x="352.6" font-style="italic">t</tspan><tspan x="362.3">(1/</tspan><tspan x="386.5" font-family="Liberation Serif" font-style="italic" font-size="22">ω</tspan><tspan x="400.7" y="669.7" font-size="14.8">0</tspan><tspan x="409.7" y="664.4">)</tspan></text>
<text x="0.8" y="15.6" font-size="28" font-weight="bold">a</text>
<text x="0.0" y="317.5" font-size="28" font-weight="bold">b</text>
</svg></body></html>
